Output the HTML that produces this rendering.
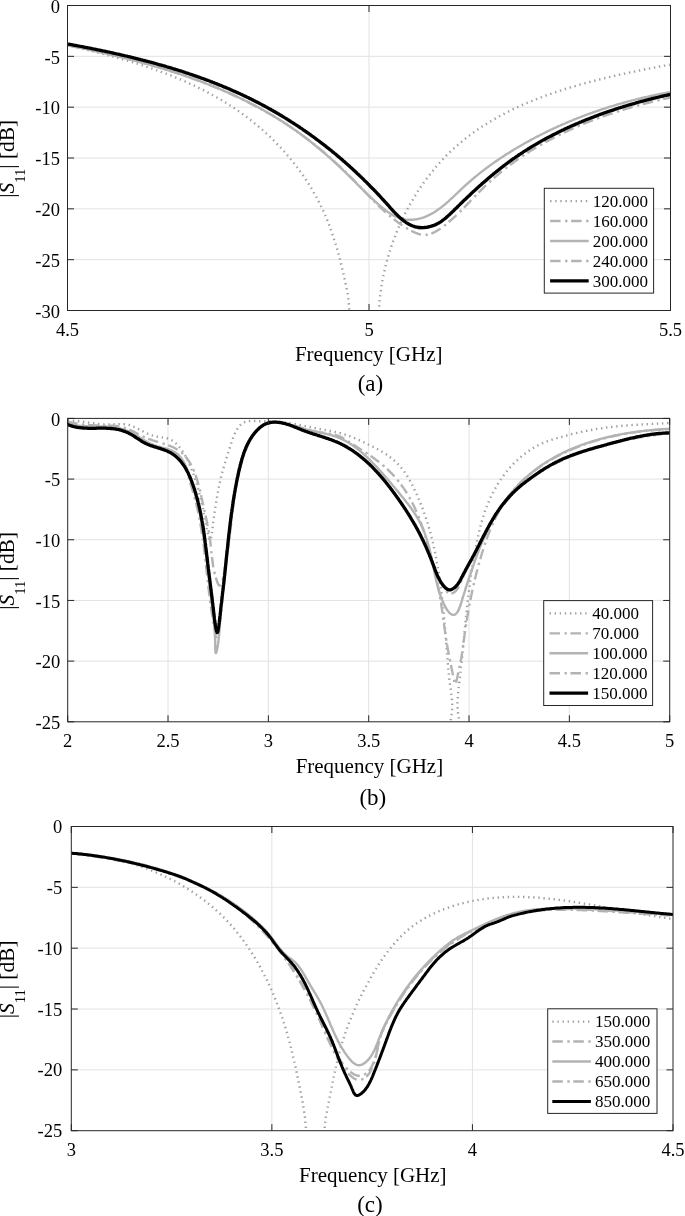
<!DOCTYPE html><html><head><meta charset="utf-8"><style>html,body{margin:0;padding:0;background:#fff;overflow:hidden;width:685px;height:1216px;}svg{display:block;filter:blur(0.35px);}text{font-family:"Liberation Serif",serif;fill:#000;}</style></head><body>
<svg width="685" height="1216" viewBox="0 0 685 1216">
<rect width="685" height="1216" fill="#fff"/>
<defs><clipPath id="c0"><rect x="67.50" y="5.50" width="603.00" height="305.00"/></clipPath></defs>
<path d="M369.00,5.50V310.50M67.50,56.33H670.50M67.50,107.17H670.50M67.50,158.00H670.50M67.50,208.83H670.50M67.50,259.67H670.50" stroke="#e2e2e2" stroke-width="1" fill="none"/>
<g clip-path="url(#c0)" fill="none" stroke-linejoin="round">
<path d="M67.7,45.4L68.7,45.6 69.6,45.8 70.6,46.1 71.5,46.3 72.5,46.5 73.4,46.7 74.4,46.9 75.4,47.2 76.3,47.4 77.3,47.6 78.2,47.8 79.2,48.1 80.2,48.3 81.1,48.5 82.1,48.7 83.1,49.0 84.0,49.2 85.0,49.4 86.0,49.7 86.9,49.9 87.9,50.1 88.8,50.4 89.8,50.6 90.8,50.8 91.7,51.1 92.7,51.3 93.7,51.5 94.6,51.8 95.6,52.0 96.6,52.3 97.5,52.5 98.5,52.8 99.5,53.0 100.4,53.3 101.4,53.5 102.4,53.8 103.3,54.0 104.3,54.3 105.3,54.5 106.2,54.8 107.2,55.0 108.2,55.3 109.1,55.5 110.1,55.8 111.1,56.1 112.0,56.3 113.0,56.6 114.0,56.9 114.9,57.1 115.9,57.4 116.9,57.7 117.8,57.9 118.8,58.2 119.8,58.5 120.7,58.8 121.7,59.0 122.7,59.3 123.6,59.6 124.6,59.9 125.6,60.2 126.5,60.4 127.5,60.7 128.5,61.0 129.4,61.3 130.4,61.6 131.3,61.9 132.3,62.2 133.3,62.5 134.2,62.8 135.2,63.1 136.1,63.4 137.1,63.7 138.1,64.0 139.0,64.3 140.0,64.6 140.9,64.9 141.9,65.2 142.9,65.5 143.8,65.8 144.8,66.1 145.7,66.5 146.7,66.8 147.6,67.1 148.6,67.4 149.5,67.7 150.5,68.1 151.4,68.4 152.4,68.7 153.3,69.1 154.3,69.4 155.2,69.7 156.2,70.1 157.1,70.4 158.1,70.7 159.0,71.1 160.0,71.4 160.9,71.8 161.9,72.1 162.8,72.5 163.7,72.8 164.7,73.2 165.6,73.5 166.6,73.9 167.5,74.3 168.4,74.6 169.4,75.0 170.3,75.4 171.3,75.7 172.2,76.1 173.1,76.5 174.1,76.9 175.0,77.2 175.9,77.6 176.8,78.0 177.8,78.4 178.7,78.8 179.6,79.2 180.5,79.5 181.5,79.9 182.4,80.3 183.3,80.7 184.2,81.1 185.2,81.5 186.1,81.9 187.0,82.4 187.9,82.8 188.8,83.2 189.7,83.6 190.6,84.0 191.6,84.4 192.5,84.9 193.4,85.3 194.3,85.7 195.2,86.1 196.1,86.6 197.0,87.0 197.9,87.4 198.8,87.9 199.7,88.3 200.6,88.8 201.5,89.2 202.4,89.7 203.3,90.1 204.2,90.6 205.0,91.0 205.9,91.5 206.8,91.9 207.7,92.4 208.6,92.9 209.5,93.3 210.4,93.8 211.2,94.3 212.1,94.8 213.0,95.3 213.9,95.7 214.7,96.2 215.6,96.7 216.5,97.2 217.3,97.7 218.2,98.2 219.1,98.7 219.9,99.2 220.8,99.7 221.7,100.2 222.5,100.7 223.4,101.3 224.2,101.8 225.1,102.3 225.9,102.8 226.8,103.3 227.6,103.9 228.5,104.4 229.3,104.9 230.1,105.5 231.0,106.0 231.8,106.6 232.7,107.1 233.5,107.7 234.3,108.2 235.2,108.8 236.0,109.3 236.8,109.9 237.6,110.5 238.4,111.0 239.3,111.6 240.1,112.2 240.9,112.8 241.7,113.3 242.5,113.9 243.3,114.5 244.1,115.1 244.9,115.7 245.7,116.3 246.5,116.9 247.3,117.5 248.1,118.1 248.9,118.7 249.7,119.3 250.5,119.9 251.3,120.6 252.1,121.2 252.9,121.8 253.7,122.4 254.4,123.1 255.2,123.7 256.0,124.3 256.7,125.0 257.5,125.6 258.3,126.3 259.0,126.9 259.8,127.6 260.6,128.2 261.3,128.9 262.1,129.5 262.8,130.2 263.6,130.9 264.3,131.5 265.1,132.2 265.8,132.9 266.5,133.6 267.3,134.2 268.0,134.9 268.7,135.6 269.5,136.3 270.2,137.0 270.9,137.7 271.6,138.4 272.4,139.1 273.1,139.8 273.8,140.5 274.5,141.2 275.2,141.9 275.9,142.6 276.6,143.3 277.3,144.1 278.0,144.8 278.7,145.5 279.4,146.2 280.1,147.0 280.7,147.7 281.4,148.4 282.1,149.2 282.8,149.9 283.5,150.7 284.1,151.4 284.8,152.2 285.4,152.9 286.1,153.7 286.8,154.4 287.4,155.2 288.1,155.9 288.7,156.7 289.4,157.5 290.0,158.2 290.6,159.0 291.3,159.8 291.9,160.6 292.5,161.4 293.2,162.1 293.8,162.9 294.4,163.7 295.0,164.5 295.6,165.3 296.2,166.1 296.9,166.9 297.5,167.7 298.1,168.5 298.7,169.3 299.2,170.1 299.8,170.9 300.4,171.7 301.0,172.5 301.6,173.3 302.2,174.2 302.7,175.0 303.3,175.8 303.9,176.6 304.4,177.5 305.0,178.3 305.5,179.1 306.1,180.0 306.6,180.8 307.2,181.6 307.7,182.5 308.3,183.3 308.8,184.2 309.3,185.0 309.9,185.9 310.4,186.7 310.9,187.6 311.4,188.4 311.9,189.3 312.4,190.2 312.9,191.0 313.5,191.9 313.9,192.8 314.4,193.6 314.9,194.5 315.4,195.4 315.9,196.2 316.4,197.1 316.9,198.0 317.3,198.9 317.8,199.8 318.3,200.7 318.7,201.5 319.2,202.4 319.6,203.3 320.1,204.2 320.5,205.1 320.9,206.0 321.4,206.9 321.8,207.8 322.2,208.7 322.7,209.6 323.1,210.6 323.5,211.5 323.9,212.4 324.3,213.3 324.7,214.2 325.1,215.1 325.5,216.0 325.9,217.0 326.3,217.9 326.7,218.8 327.1,219.7 327.4,220.7 327.8,221.6 328.2,222.5 328.5,223.5 328.9,224.4 329.3,225.3 329.6,226.3 330.0,227.2 330.3,228.2 330.7,229.1 331.0,230.1 331.3,231.0 331.7,231.9 332.0,232.9 332.3,233.8 332.6,234.8 333.0,235.7 333.3,236.7 333.6,237.7 333.9,238.6 334.2,239.6 334.5,240.5 334.8,241.5 335.1,242.4 335.4,243.4 335.7,244.4 336.0,245.3 336.3,246.3 336.6,247.2 336.9,248.2 337.1,249.2 337.4,250.1 337.7,251.1 338.0,252.1 338.2,253.0 338.5,254.0 338.8,255.0 339.0,255.9 339.3,256.9 339.5,257.9 339.8,258.8 340.0,259.8 340.3,260.8 340.5,261.7 340.8,262.7 341.0,263.7 341.3,264.7 341.5,265.6 341.7,266.6 342.0,267.6 342.2,268.5 342.4,269.5 342.7,270.5 342.9,271.4 343.1,272.4 343.3,273.4 343.6,274.4 343.8,275.3 344.0,276.3 344.2,277.3 344.4,278.2 344.6,279.2 344.8,280.2 345.1,281.1 345.3,282.1 345.5,283.1 345.7,284.1 345.9,285.0 346.1,286.0 346.3,287.0 346.5,287.9 346.7,288.9 346.9,289.9 347.0,290.8 347.2,291.8 347.4,292.8 347.6,293.8 347.7,294.7 347.9,295.7 348.1,296.7 348.2,297.7 348.3,298.7 348.5,299.7 348.6,300.8 348.7,301.8 348.8,302.8 348.9,303.9 349.0,304.9 349.0,306.0 349.1,307.0 349.2,308.1 349.2,309.2 349.3,310.3 349.3,311.4 349.4,312.4 349.4,313.5 349.5,314.5 349.6,315.6 349.8,316.6 349.9,317.6 350.1,318.5 350.3,319.5 350.5,320.4 350.8,321.3 351.2,322.1 351.5,323.0 352.0,323.7 352.4,324.5 353.0,325.1 353.6,325.8 354.2,326.4 354.9,326.9 355.7,327.4 356.4,327.8 357.3,328.2 358.1,328.5 359.0,328.8 359.9,329.0 360.9,329.2 361.8,329.3 362.8,329.4 363.8,329.4 364.7,329.4 365.7,329.3 366.7,329.2 367.6,329.0 368.5,328.8 369.4,328.5 370.3,328.2 371.2,327.8 372.0,327.3 372.8,326.8 373.5,326.3 374.2,325.7 374.8,325.0 375.4,324.3 375.9,323.6 376.3,322.8 376.8,321.9 377.1,321.1 377.5,320.2 377.7,319.2 378.0,318.3 378.2,317.3 378.4,316.3 378.6,315.3 378.7,314.3 378.8,313.2 378.9,312.2 379.0,311.1 379.1,310.1 379.1,309.0 379.2,307.9 379.2,306.9 379.3,305.8 379.3,304.8 379.4,303.7 379.5,302.7 379.5,301.7 379.6,300.6 379.7,299.6 379.8,298.6 379.9,297.6 380.0,296.6 380.1,295.6 380.2,294.6 380.4,293.7 380.5,292.7 380.6,291.7 380.8,290.7 380.9,289.7 381.0,288.8 381.2,287.8 381.3,286.8 381.5,285.8 381.7,284.9 381.8,283.9 382.0,282.9 382.2,281.9 382.3,281.0 382.5,280.0 382.7,279.0 382.9,278.0 383.1,277.1 383.3,276.1 383.5,275.1 383.7,274.1 383.9,273.2 384.1,272.2 384.4,271.2 384.6,270.3 384.8,269.3 385.0,268.3 385.3,267.4 385.5,266.4 385.7,265.4 386.0,264.4 386.2,263.5 386.5,262.5 386.8,261.6 387.0,260.6 387.3,259.6 387.6,258.7 387.8,257.7 388.1,256.7 388.4,255.8 388.7,254.8 389.0,253.9 389.3,252.9 389.6,251.9 389.9,251.0 390.2,250.0 390.5,249.1 390.8,248.1 391.1,247.2 391.4,246.2 391.7,245.3 392.1,244.3 392.4,243.4 392.7,242.4 393.1,241.5 393.4,240.5 393.8,239.6 394.1,238.6 394.5,237.7 394.8,236.8 395.2,235.8 395.6,234.9 395.9,233.9 396.3,233.0 396.7,232.1 397.1,231.1 397.5,230.2 397.9,229.3 398.2,228.4 398.6,227.4 399.0,226.5 399.4,225.6 399.9,224.7 400.3,223.7 400.7,222.8 401.1,221.9 401.5,221.0 402.0,220.1 402.4,219.2 402.8,218.2 403.3,217.3 403.7,216.4 404.1,215.5 404.6,214.6 405.0,213.7 405.5,212.8 406.0,211.9 406.4,211.0 406.9,210.1 407.4,209.2 407.8,208.4 408.3,207.5 408.8,206.6 409.3,205.7 409.8,204.8 410.2,203.9 410.7,203.1 411.2,202.2 411.7,201.3 412.3,200.4 412.8,199.6 413.3,198.7 413.8,197.9 414.3,197.0 414.8,196.1 415.4,195.3 415.9,194.4 416.4,193.6 417.0,192.7 417.5,191.9 418.0,191.0 418.6,190.2 419.1,189.3 419.7,188.5 420.3,187.7 420.8,186.8 421.4,186.0 422.0,185.2 422.5,184.4 423.1,183.5 423.7,182.7 424.3,181.9 424.9,181.1 425.4,180.3 426.0,179.5 426.6,178.7 427.2,177.9 427.8,177.1 428.4,176.3 429.0,175.5 429.7,174.7 430.3,173.9 430.9,173.1 431.5,172.3 432.1,171.6 432.8,170.8 433.4,170.0 434.0,169.2 434.7,168.5 435.3,167.7 436.0,166.9 436.6,166.2 437.3,165.4 437.9,164.7 438.6,163.9 439.2,163.2 439.9,162.4 440.6,161.7 441.3,161.0 441.9,160.2 442.6,159.5 443.3,158.8 444.0,158.1 444.7,157.4 445.4,156.6 446.0,155.9 446.7,155.2 447.4,154.5 448.2,153.8 448.9,153.1 449.6,152.4 450.3,151.7 451.0,151.1 451.7,150.4 452.4,149.7 453.2,149.0 453.9,148.4 454.6,147.7 455.4,147.0 456.1,146.4 456.8,145.7 457.6,145.1 458.3,144.4 459.1,143.8 459.8,143.1 460.6,142.5 461.4,141.9 462.1,141.2 462.9,140.6 463.7,140.0 464.4,139.4 465.2,138.8 466.0,138.1 466.8,137.5 467.5,136.9 468.3,136.3 469.1,135.7 469.9,135.1 470.7,134.5 471.5,134.0 472.3,133.4 473.1,132.8 473.9,132.2 474.7,131.6 475.5,131.1 476.3,130.5 477.1,129.9 478.0,129.4 478.8,128.8 479.6,128.3 480.4,127.7 481.2,127.2 482.1,126.6 482.9,126.1 483.7,125.6 484.6,125.0 485.4,124.5 486.3,124.0 487.1,123.4 487.9,122.9 488.8,122.4 489.6,121.9 490.5,121.4 491.4,120.9 492.2,120.4 493.1,119.9 493.9,119.4 494.8,118.9 495.7,118.4 496.5,117.9 497.4,117.4 498.3,116.9 499.1,116.4 500.0,116.0 500.9,115.5 501.8,115.0 502.7,114.5 503.5,114.1 504.4,113.6 505.3,113.1 506.2,112.7 507.1,112.2 508.0,111.8 508.9,111.3 509.8,110.9 510.7,110.4 511.6,110.0 512.5,109.6 513.4,109.1 514.3,108.7 515.2,108.3 516.1,107.8 517.0,107.4 517.9,107.0 518.8,106.6 519.8,106.2 520.7,105.7 521.6,105.3 522.5,104.9 523.4,104.5 524.4,104.1 525.3,103.7 526.2,103.3 527.1,102.9 528.1,102.5 529.0,102.1 529.9,101.8 530.9,101.4 531.8,101.0 532.7,100.6 533.7,100.2 534.6,99.9 535.6,99.5 536.5,99.1 537.4,98.7 538.4,98.4 539.3,98.0 540.3,97.6 541.2,97.3 542.2,96.9 543.1,96.6 544.1,96.2 545.0,95.9 546.0,95.5 546.9,95.2 547.9,94.8 548.8,94.5 549.8,94.2 550.8,93.8 551.7,93.5 552.7,93.2 553.6,92.8 554.6,92.5 555.6,92.2 556.5,91.8 557.5,91.5 558.4,91.2 559.4,90.9 560.4,90.6 561.3,90.3 562.3,89.9 563.3,89.6 564.2,89.3 565.2,89.0 566.2,88.7 567.2,88.4 568.1,88.1 569.1,87.8 570.1,87.5 571.1,87.2 572.0,86.9 573.0,86.6 574.0,86.4 575.0,86.1 575.9,85.8 576.9,85.5 577.9,85.2 578.9,84.9 579.8,84.7 580.8,84.4 581.8,84.1 582.8,83.8 583.7,83.6 584.7,83.3 585.7,83.0 586.7,82.8 587.7,82.5 588.6,82.2 589.6,82.0 590.6,81.7 591.6,81.5 592.6,81.2 593.6,81.0 594.5,80.7 595.5,80.5 596.5,80.2 597.5,80.0 598.5,79.7 599.4,79.5 600.4,79.2 601.4,79.0 602.4,78.7 603.4,78.5 604.3,78.3 605.3,78.0 606.3,77.8 607.3,77.6 608.3,77.3 609.2,77.1 610.2,76.9 611.2,76.6 612.2,76.4 613.2,76.2 614.1,76.0 615.1,75.7 616.1,75.5 617.1,75.3 618.1,75.1 619.0,74.8 620.0,74.6 621.0,74.4 622.0,74.2 622.9,74.0 623.9,73.8 624.9,73.6 625.9,73.3 626.8,73.1 627.8,72.9 628.8,72.7 629.8,72.5 630.7,72.3 631.7,72.1 632.7,71.9 633.6,71.7 634.6,71.5 635.6,71.3 636.5,71.1 637.5,70.9 638.5,70.7 639.4,70.5 640.4,70.3 641.4,70.1 642.3,69.9 643.3,69.7 644.2,69.5 645.2,69.3 646.2,69.1 647.1,69.0 648.1,68.8 649.0,68.6 650.0,68.4 650.9,68.2 651.9,68.0 652.8,67.8 653.8,67.6 654.7,67.5 655.7,67.3 656.6,67.1 657.6,66.9 658.5,66.7 659.5,66.5 660.4,66.4 661.3,66.2 662.3,66.0 663.2,65.8 664.2,65.6 665.1,65.5 666.0,65.3 667.0,65.1 667.9,64.9 668.8,64.8 669.8,64.6" stroke="#a0a0a0" stroke-width="2.40" stroke-dasharray="1.4 3.7"/>
<path d="M67.9,44.8L68.8,45.0 69.8,45.2 70.7,45.3 71.7,45.5 72.6,45.7 73.6,45.9 74.6,46.1 75.5,46.2 76.5,46.4 77.5,46.6 78.4,46.8 79.4,47.0 80.3,47.1 81.3,47.3 82.3,47.5 83.2,47.7 84.2,47.9 85.2,48.1 86.1,48.3 87.1,48.4 88.1,48.6 89.0,48.8 90.0,49.0 91.0,49.2 91.9,49.4 92.9,49.6 93.9,49.8 94.8,50.0 95.8,50.2 96.8,50.4 97.8,50.6 98.7,50.8 99.7,51.0 100.7,51.2 101.6,51.4 102.6,51.6 103.6,51.8 104.6,52.0 105.5,52.2 106.5,52.4 107.5,52.6 108.5,52.8 109.4,53.0 110.4,53.3 111.4,53.5 112.4,53.7 113.3,53.9 114.3,54.1 115.3,54.3 116.3,54.6 117.2,54.8 118.2,55.0 119.2,55.2 120.2,55.4 121.1,55.7 122.1,55.9 123.1,56.1 124.1,56.3 125.0,56.6 126.0,56.8 127.0,57.0 128.0,57.3 129.0,57.5 129.9,57.7 130.9,58.0 131.9,58.2 132.9,58.4 133.8,58.7 134.8,58.9 135.8,59.2 136.8,59.4 137.7,59.7 138.7,59.9 139.7,60.1 140.7,60.4 141.6,60.6 142.6,60.9 143.6,61.1 144.6,61.4 145.5,61.7 146.5,61.9 147.5,62.2 148.5,62.4 149.4,62.7 150.4,62.9 151.4,63.2 152.4,63.5 153.3,63.7 154.3,64.0 155.3,64.3 156.3,64.5 157.2,64.8 158.2,65.1 159.2,65.4 160.1,65.6 161.1,65.9 162.1,66.2 163.1,66.5 164.0,66.7 165.0,67.0 166.0,67.3 166.9,67.6 167.9,67.9 168.9,68.2 169.8,68.5 170.8,68.7 171.8,69.0 172.7,69.3 173.7,69.6 174.7,69.9 175.6,70.2 176.6,70.5 177.6,70.8 178.5,71.1 179.5,71.4 180.5,71.7 181.4,72.0 182.4,72.3 183.3,72.7 184.3,73.0 185.3,73.3 186.2,73.6 187.2,73.9 188.1,74.2 189.1,74.6 190.0,74.9 191.0,75.2 192.0,75.5 192.9,75.8 193.9,76.2 194.8,76.5 195.8,76.8 196.7,77.2 197.7,77.5 198.6,77.8 199.6,78.2 200.5,78.5 201.5,78.9 202.4,79.2 203.4,79.5 204.3,79.9 205.2,80.2 206.2,80.6 207.1,80.9 208.1,81.3 209.0,81.6 210.0,82.0 210.9,82.4 211.8,82.7 212.8,83.1 213.7,83.4 214.6,83.8 215.6,84.2 216.5,84.5 217.4,84.9 218.4,85.3 219.3,85.7 220.2,86.0 221.2,86.4 222.1,86.8 223.0,87.2 223.9,87.6 224.9,87.9 225.8,88.3 226.7,88.7 227.6,89.1 228.6,89.5 229.5,89.9 230.4,90.3 231.3,90.7 232.2,91.1 233.1,91.5 234.1,91.9 235.0,92.3 235.9,92.7 236.8,93.1 237.7,93.5 238.6,93.9 239.5,94.4 240.4,94.8 241.3,95.2 242.2,95.6 243.1,96.0 244.0,96.5 244.9,96.9 245.8,97.3 246.7,97.8 247.6,98.2 248.5,98.6 249.4,99.1 250.3,99.5 251.2,99.9 252.1,100.4 253.0,100.8 253.9,101.3 254.8,101.7 255.6,102.2 256.5,102.6 257.4,103.1 258.3,103.5 259.2,104.0 260.0,104.5 260.9,104.9 261.8,105.4 262.7,105.9 263.5,106.3 264.4,106.8 265.3,107.3 266.2,107.7 267.0,108.2 267.9,108.7 268.8,109.2 269.6,109.7 270.5,110.1 271.4,110.6 272.2,111.1 273.1,111.6 273.9,112.1 274.8,112.6 275.7,113.1 276.5,113.6 277.4,114.1 278.2,114.6 279.1,115.1 279.9,115.6 280.8,116.1 281.6,116.6 282.5,117.1 283.3,117.6 284.2,118.2 285.0,118.7 285.9,119.2 286.7,119.7 287.5,120.2 288.4,120.8 289.2,121.3 290.1,121.8 290.9,122.4 291.7,122.9 292.6,123.4 293.4,124.0 294.2,124.5 295.1,125.0 295.9,125.6 296.7,126.1 297.5,126.7 298.4,127.2 299.2,127.8 300.0,128.3 300.8,128.9 301.7,129.4 302.5,130.0 303.3,130.6 304.1,131.1 304.9,131.7 305.8,132.3 306.6,132.8 307.4,133.4 308.2,134.0 309.0,134.5 309.8,135.1 310.6,135.7 311.4,136.3 312.2,136.9 313.0,137.4 313.8,138.0 314.6,138.6 315.4,139.2 316.2,139.8 317.0,140.4 317.8,141.0 318.6,141.6 319.4,142.2 320.2,142.8 321.0,143.4 321.8,144.0 322.6,144.6 323.4,145.2 324.2,145.8 325.0,146.4 325.8,147.1 326.5,147.7 327.3,148.3 328.1,148.9 328.9,149.5 329.7,150.2 330.5,150.8 331.2,151.4 332.0,152.1 332.8,152.7 333.6,153.3 334.3,154.0 335.1,154.6 335.9,155.2 336.7,155.9 337.4,156.5 338.2,157.2 339.0,157.8 339.7,158.5 340.5,159.1 341.3,159.8 342.0,160.4 342.8,161.1 343.5,161.8 344.3,162.4 345.1,163.1 345.8,163.8 346.6,164.4 347.3,165.1 348.1,165.8 348.8,166.4 349.6,167.1 350.3,167.8 351.1,168.5 351.8,169.2 352.6,169.8 353.3,170.5 354.1,171.2 354.8,171.9 355.6,172.6 356.3,173.3 357.0,174.0 357.8,174.7 358.5,175.4 359.3,176.1 360.0,176.8 360.7,177.5 361.5,178.2 362.2,178.9 362.9,179.6 363.7,180.3 364.4,181.1 365.1,181.8 365.9,182.5 366.6,183.2 367.3,183.9 368.0,184.7 368.8,185.4 369.5,186.1 370.2,186.9 370.9,187.6 371.6,188.3 372.3,189.1 373.1,189.8 373.8,190.5 374.5,191.3 375.2,192.0 375.9,192.8 376.6,193.5 377.3,194.3 378.1,195.0 378.8,195.8 379.5,196.5 380.2,197.3 380.9,198.1 381.6,198.8 382.3,199.6 383.0,200.3 383.7,201.1 384.4,201.9 385.1,202.7 385.8,203.4 386.5,204.2 387.2,205.0 387.9,205.8 388.6,206.5 389.3,207.3 389.9,208.1 390.6,208.9 391.3,209.6 392.0,210.4 392.7,211.2 393.4,211.9 394.1,212.7 394.8,213.4 395.5,214.1 396.2,214.9 397.0,215.6 397.7,216.3 398.4,217.0 399.1,217.6 399.8,218.3 400.6,219.0 401.3,219.6 402.0,220.2 402.8,220.8 403.5,221.4 404.3,222.0 405.0,222.5 405.8,223.1 406.6,223.6 407.4,224.1 408.1,224.5 408.9,225.0 409.7,225.4 410.5,225.8 411.4,226.2 412.2,226.5 413.0,226.8 413.9,227.1 414.7,227.4 415.6,227.6 416.4,227.8 417.3,228.0 418.2,228.2 419.1,228.3 420.0,228.3 420.9,228.4 421.8,228.4 422.8,228.4 423.7,228.4 424.6,228.3 425.6,228.2 426.5,228.1 427.4,227.9 428.4,227.7 429.3,227.5 430.2,227.3 431.2,227.0 432.1,226.7 433.0,226.4 433.9,226.1 434.8,225.7 435.7,225.3 436.6,224.9 437.5,224.4 438.4,223.9 439.2,223.4 440.1,222.9 440.9,222.4 441.8,221.8 442.6,221.2 443.4,220.6 444.2,220.0 445.0,219.4 445.8,218.7 446.5,218.1 447.3,217.4 448.1,216.7 448.8,216.0 449.6,215.3 450.3,214.6 451.1,213.9 451.8,213.2 452.6,212.4 453.3,211.7 454.1,211.0 454.8,210.2 455.5,209.5 456.3,208.8 457.0,208.1 457.8,207.3 458.5,206.6 459.2,205.9 460.0,205.2 460.7,204.5 461.4,203.7 462.2,203.0 462.9,202.3 463.6,201.6 464.4,200.9 465.1,200.2 465.9,199.5 466.6,198.8 467.3,198.1 468.1,197.4 468.8,196.7 469.6,196.0 470.3,195.3 471.0,194.6 471.8,193.9 472.5,193.2 473.2,192.5 474.0,191.8 474.7,191.2 475.5,190.5 476.2,189.8 477.0,189.1 477.7,188.4 478.4,187.8 479.2,187.1 479.9,186.4 480.7,185.8 481.4,185.1 482.2,184.4 482.9,183.8 483.7,183.1 484.4,182.5 485.2,181.8 485.9,181.2 486.7,180.5 487.4,179.9 488.2,179.2 489.0,178.6 489.7,177.9 490.5,177.3 491.2,176.6 492.0,176.0 492.8,175.4 493.5,174.7 494.3,174.1 495.0,173.5 495.8,172.9 496.6,172.2 497.4,171.6 498.1,171.0 498.9,170.4 499.7,169.8 500.5,169.2 501.2,168.5 502.0,167.9 502.8,167.3 503.6,166.7 504.4,166.1 505.2,165.5 505.9,164.9 506.7,164.4 507.5,163.8 508.3,163.2 509.1,162.6 509.9,162.0 510.7,161.4 511.5,160.8 512.3,160.3 513.1,159.7 513.9,159.1 514.7,158.6 515.6,158.0 516.4,157.4 517.2,156.9 518.0,156.3 518.8,155.8 519.6,155.2 520.5,154.7 521.3,154.1 522.1,153.6 523.0,153.0 523.8,152.5 524.6,152.0 525.5,151.4 526.3,150.9 527.1,150.4 528.0,149.8 528.8,149.3 529.7,148.8 530.5,148.3 531.4,147.7 532.2,147.2 533.1,146.7 533.9,146.2 534.8,145.7 535.7,145.2 536.5,144.7 537.4,144.2 538.2,143.7 539.1,143.2 540.0,142.7 540.8,142.2 541.7,141.7 542.6,141.2 543.5,140.7 544.3,140.3 545.2,139.8 546.1,139.3 547.0,138.8 547.9,138.4 548.7,137.9 549.6,137.4 550.5,137.0 551.4,136.5 552.3,136.0 553.2,135.6 554.1,135.1 555.0,134.7 555.9,134.2 556.8,133.8 557.7,133.3 558.6,132.9 559.5,132.4 560.4,132.0 561.3,131.6 562.2,131.1 563.1,130.7 564.0,130.3 564.9,129.8 565.8,129.4 566.7,129.0 567.6,128.6 568.6,128.1 569.5,127.7 570.4,127.3 571.3,126.9 572.2,126.5 573.1,126.1 574.1,125.7 575.0,125.3 575.9,124.9 576.8,124.5 577.8,124.1 578.7,123.7 579.6,123.3 580.5,122.9 581.5,122.5 582.4,122.1 583.3,121.7 584.3,121.4 585.2,121.0 586.1,120.6 587.1,120.2 588.0,119.8 588.9,119.5 589.9,119.1 590.8,118.7 591.8,118.4 592.7,118.0 593.6,117.7 594.6,117.3 595.5,116.9 596.5,116.6 597.4,116.2 598.4,115.9 599.3,115.5 600.3,115.2 601.2,114.8 602.1,114.5 603.1,114.2 604.0,113.8 605.0,113.5 605.9,113.2 606.9,112.8 607.9,112.5 608.8,112.2 609.8,111.8 610.7,111.5 611.7,111.2 612.6,110.9 613.6,110.6 614.5,110.2 615.5,109.9 616.4,109.6 617.4,109.3 618.4,109.0 619.3,108.7 620.3,108.4 621.2,108.1 622.2,107.8 623.1,107.5 624.1,107.2 625.1,106.9 626.0,106.6 627.0,106.3 627.9,106.0 628.9,105.8 629.9,105.5 630.8,105.2 631.8,104.9 632.7,104.6 633.7,104.4 634.7,104.1 635.6,103.8 636.6,103.5 637.6,103.3 638.5,103.0 639.5,102.7 640.4,102.5 641.4,102.2 642.4,102.0 643.3,101.7 644.3,101.5 645.3,101.2 646.2,100.9 647.2,100.7 648.1,100.5 649.1,100.2 650.1,100.0 651.0,99.7 652.0,99.5 652.9,99.2 653.9,99.0 654.9,98.8 655.8,98.5 656.8,98.3 657.8,98.1 658.7,97.8 659.7,97.6 660.6,97.4 661.6,97.2 662.6,97.0 663.5,96.7 664.5,96.5 665.4,96.3 666.4,96.1 667.3,95.9 668.3,95.7 669.3,95.5 670.2,95.3" stroke="#b3b3b3" stroke-width="2.40" stroke-dasharray="10.5 4.5 2.4 3.6"/>
<path d="M67.6,45.2L68.6,45.4 69.6,45.6 70.5,45.8 71.5,46.0 72.5,46.2 73.4,46.4 74.4,46.6 75.4,46.8 76.3,47.0 77.3,47.2 78.3,47.4 79.2,47.6 80.2,47.8 81.2,48.0 82.1,48.2 83.1,48.4 84.1,48.6 85.1,48.9 86.0,49.1 87.0,49.3 88.0,49.5 88.9,49.7 89.9,49.9 90.9,50.1 91.9,50.4 92.8,50.6 93.8,50.8 94.8,51.0 95.7,51.2 96.7,51.4 97.7,51.7 98.7,51.9 99.6,52.1 100.6,52.3 101.6,52.5 102.6,52.8 103.5,53.0 104.5,53.2 105.5,53.4 106.5,53.7 107.4,53.9 108.4,54.1 109.4,54.4 110.3,54.6 111.3,54.8 112.3,55.1 113.3,55.3 114.2,55.5 115.2,55.8 116.2,56.0 117.2,56.2 118.1,56.5 119.1,56.7 120.1,57.0 121.1,57.2 122.0,57.4 123.0,57.7 124.0,57.9 125.0,58.2 125.9,58.4 126.9,58.7 127.9,58.9 128.8,59.2 129.8,59.4 130.8,59.7 131.8,59.9 132.7,60.2 133.7,60.4 134.7,60.7 135.7,60.9 136.6,61.2 137.6,61.5 138.6,61.7 139.5,62.0 140.5,62.2 141.5,62.5 142.4,62.8 143.4,63.0 144.4,63.3 145.4,63.6 146.3,63.8 147.3,64.1 148.3,64.4 149.2,64.7 150.2,64.9 151.2,65.2 152.1,65.5 153.1,65.8 154.1,66.1 155.0,66.3 156.0,66.6 157.0,66.9 157.9,67.2 158.9,67.5 159.9,67.8 160.8,68.0 161.8,68.3 162.8,68.6 163.7,68.9 164.7,69.2 165.6,69.5 166.6,69.8 167.6,70.1 168.5,70.4 169.5,70.7 170.4,71.0 171.4,71.3 172.4,71.6 173.3,71.9 174.3,72.2 175.2,72.5 176.2,72.9 177.2,73.2 178.1,73.5 179.1,73.8 180.0,74.1 181.0,74.4 181.9,74.8 182.9,75.1 183.8,75.4 184.8,75.7 185.7,76.1 186.7,76.4 187.6,76.7 188.6,77.0 189.5,77.4 190.5,77.7 191.4,78.0 192.4,78.4 193.3,78.7 194.3,79.1 195.2,79.4 196.2,79.7 197.1,80.1 198.0,80.4 199.0,80.8 199.9,81.1 200.9,81.5 201.8,81.8 202.7,82.2 203.7,82.6 204.6,82.9 205.6,83.3 206.5,83.6 207.4,84.0 208.4,84.4 209.3,84.7 210.2,85.1 211.2,85.5 212.1,85.9 213.0,86.2 214.0,86.6 214.9,87.0 215.8,87.4 216.7,87.7 217.7,88.1 218.6,88.5 219.5,88.9 220.4,89.3 221.4,89.7 222.3,90.1 223.2,90.5 224.1,90.9 225.0,91.3 226.0,91.7 226.9,92.1 227.8,92.5 228.7,92.9 229.6,93.3 230.5,93.7 231.5,94.1 232.4,94.5 233.3,94.9 234.2,95.3 235.1,95.8 236.0,96.2 236.9,96.6 237.8,97.0 238.7,97.5 239.6,97.9 240.5,98.3 241.4,98.8 242.3,99.2 243.2,99.6 244.1,100.1 245.0,100.5 245.9,101.0 246.8,101.4 247.7,101.9 248.6,102.3 249.5,102.8 250.4,103.2 251.3,103.7 252.1,104.1 253.0,104.6 253.9,105.0 254.8,105.5 255.7,106.0 256.6,106.4 257.4,106.9 258.3,107.4 259.2,107.9 260.1,108.3 260.9,108.8 261.8,109.3 262.7,109.8 263.6,110.3 264.4,110.8 265.3,111.3 266.2,111.8 267.0,112.3 267.9,112.7 268.8,113.2 269.6,113.8 270.5,114.3 271.3,114.8 272.2,115.3 273.1,115.8 273.9,116.3 274.8,116.8 275.6,117.3 276.5,117.9 277.3,118.4 278.2,118.9 279.0,119.4 279.9,120.0 280.7,120.5 281.6,121.0 282.4,121.6 283.2,122.1 284.1,122.7 284.9,123.2 285.7,123.7 286.6,124.3 287.4,124.9 288.2,125.4 289.1,126.0 289.9,126.5 290.7,127.1 291.6,127.7 292.4,128.2 293.2,128.8 294.0,129.4 294.8,129.9 295.6,130.5 296.5,131.1 297.3,131.7 298.1,132.3 298.9,132.8 299.7,133.4 300.5,134.0 301.3,134.6 302.1,135.2 302.9,135.8 303.7,136.4 304.5,137.0 305.3,137.6 306.1,138.2 306.9,138.8 307.7,139.5 308.5,140.1 309.3,140.7 310.1,141.3 310.9,141.9 311.7,142.6 312.4,143.2 313.2,143.8 314.0,144.4 314.8,145.1 315.6,145.7 316.3,146.3 317.1,147.0 317.9,147.6 318.7,148.2 319.4,148.9 320.2,149.5 321.0,150.2 321.7,150.8 322.5,151.5 323.3,152.1 324.0,152.8 324.8,153.4 325.5,154.1 326.3,154.7 327.1,155.4 327.8,156.1 328.6,156.7 329.3,157.4 330.1,158.1 330.8,158.7 331.6,159.4 332.3,160.1 333.1,160.7 333.8,161.4 334.5,162.1 335.3,162.8 336.0,163.4 336.7,164.1 337.5,164.8 338.2,165.5 338.9,166.2 339.7,166.9 340.4,167.5 341.1,168.2 341.9,168.9 342.6,169.6 343.3,170.3 344.0,171.0 344.7,171.7 345.5,172.4 346.2,173.1 346.9,173.8 347.6,174.5 348.3,175.2 349.0,175.9 349.7,176.6 350.4,177.3 351.2,178.0 351.9,178.7 352.6,179.4 353.3,180.1 354.0,180.8 354.7,181.5 355.4,182.2 356.1,182.9 356.8,183.6 357.5,184.4 358.2,185.1 358.9,185.8 359.6,186.5 360.3,187.2 361.0,187.9 361.8,188.6 362.5,189.3 363.2,190.0 363.9,190.7 364.6,191.4 365.3,192.2 366.1,192.9 366.8,193.6 367.5,194.3 368.3,195.0 369.0,195.7 369.7,196.4 370.5,197.1 371.2,197.8 372.0,198.5 372.7,199.2 373.5,199.9 374.2,200.6 375.0,201.3 375.8,202.0 376.5,202.7 377.3,203.4 378.1,204.1 378.9,204.8 379.7,205.5 380.5,206.2 381.3,206.8 382.1,207.5 382.9,208.2 383.7,208.8 384.5,209.4 385.3,210.1 386.1,210.7 387.0,211.3 387.8,211.9 388.7,212.5 389.5,213.0 390.3,213.6 391.2,214.1 392.1,214.6 392.9,215.1 393.8,215.6 394.6,216.0 395.5,216.4 396.4,216.9 397.3,217.2 398.2,217.6 399.1,217.9 400.0,218.2 400.9,218.5 401.8,218.8 402.7,219.0 403.6,219.2 404.5,219.3 405.4,219.5 406.3,219.6 407.3,219.7 408.2,219.7 409.1,219.8 410.0,219.8 411.0,219.8 411.9,219.7 412.8,219.7 413.7,219.6 414.7,219.5 415.6,219.4 416.5,219.2 417.5,219.1 418.4,218.9 419.3,218.6 420.2,218.4 421.1,218.2 422.0,217.9 423.0,217.6 423.9,217.3 424.8,216.9 425.7,216.6 426.5,216.2 427.4,215.8 428.3,215.4 429.2,215.0 430.1,214.6 430.9,214.1 431.8,213.7 432.6,213.2 433.5,212.7 434.3,212.2 435.2,211.7 436.0,211.1 436.8,210.6 437.6,210.0 438.4,209.4 439.2,208.8 440.1,208.2 440.9,207.6 441.6,207.0 442.4,206.4 443.2,205.8 444.0,205.1 444.8,204.5 445.6,203.8 446.3,203.1 447.1,202.5 447.9,201.8 448.7,201.1 449.4,200.4 450.2,199.7 450.9,199.0 451.7,198.3 452.5,197.6 453.2,196.9 454.0,196.2 454.7,195.5 455.5,194.8 456.2,194.0 457.0,193.3 457.7,192.6 458.5,191.9 459.2,191.2 460.0,190.5 460.7,189.7 461.5,189.0 462.2,188.3 463.0,187.6 463.8,186.9 464.5,186.2 465.3,185.5 466.0,184.8 466.8,184.2 467.5,183.5 468.3,182.8 469.1,182.1 469.8,181.5 470.6,180.8 471.4,180.1 472.1,179.5 472.9,178.8 473.7,178.2 474.5,177.5 475.2,176.9 476.0,176.3 476.8,175.6 477.6,175.0 478.3,174.4 479.1,173.7 479.9,173.1 480.7,172.5 481.5,171.9 482.3,171.3 483.0,170.7 483.8,170.1 484.6,169.5 485.4,168.9 486.2,168.3 487.0,167.7 487.8,167.1 488.6,166.5 489.4,165.9 490.2,165.3 491.0,164.8 491.8,164.2 492.6,163.6 493.4,163.0 494.2,162.5 495.0,161.9 495.9,161.4 496.7,160.8 497.5,160.2 498.3,159.7 499.1,159.1 499.9,158.6 500.8,158.0 501.6,157.5 502.4,156.9 503.2,156.4 504.1,155.9 504.9,155.3 505.7,154.8 506.6,154.2 507.4,153.7 508.2,153.2 509.1,152.7 509.9,152.1 510.8,151.6 511.6,151.1 512.5,150.6 513.3,150.0 514.1,149.5 515.0,149.0 515.8,148.5 516.7,148.0 517.6,147.5 518.4,147.0 519.3,146.5 520.1,146.0 521.0,145.5 521.8,145.0 522.7,144.5 523.6,144.0 524.4,143.5 525.3,143.0 526.2,142.5 527.0,142.0 527.9,141.6 528.8,141.1 529.7,140.6 530.5,140.1 531.4,139.6 532.3,139.2 533.2,138.7 534.1,138.2 534.9,137.8 535.8,137.3 536.7,136.8 537.6,136.4 538.5,135.9 539.4,135.5 540.3,135.0 541.2,134.5 542.1,134.1 542.9,133.7 543.8,133.2 544.7,132.8 545.6,132.3 546.5,131.9 547.4,131.4 548.3,131.0 549.2,130.6 550.1,130.1 551.0,129.7 552.0,129.3 552.9,128.8 553.8,128.4 554.7,128.0 555.6,127.6 556.5,127.2 557.4,126.7 558.3,126.3 559.2,125.9 560.2,125.5 561.1,125.1 562.0,124.7 562.9,124.3 563.8,123.9 564.8,123.5 565.7,123.1 566.6,122.7 567.5,122.3 568.5,121.9 569.4,121.5 570.3,121.1 571.2,120.8 572.2,120.4 573.1,120.0 574.0,119.6 575.0,119.2 575.9,118.9 576.8,118.5 577.8,118.1 578.7,117.8 579.6,117.4 580.6,117.0 581.5,116.7 582.4,116.3 583.4,115.9 584.3,115.6 585.3,115.2 586.2,114.9 587.2,114.5 588.1,114.2 589.0,113.8 590.0,113.5 590.9,113.1 591.9,112.8 592.8,112.5 593.8,112.1 594.7,111.8 595.7,111.5 596.6,111.1 597.6,110.8 598.5,110.5 599.5,110.2 600.4,109.8 601.4,109.5 602.3,109.2 603.3,108.9 604.3,108.6 605.2,108.3 606.2,108.0 607.1,107.7 608.1,107.3 609.0,107.0 610.0,106.7 611.0,106.4 611.9,106.1 612.9,105.9 613.9,105.6 614.8,105.3 615.8,105.0 616.7,104.7 617.7,104.4 618.7,104.1 619.6,103.9 620.6,103.6 621.6,103.3 622.5,103.0 623.5,102.8 624.5,102.5 625.4,102.2 626.4,102.0 627.4,101.7 628.3,101.4 629.3,101.2 630.3,100.9 631.2,100.7 632.2,100.4 633.2,100.2 634.2,99.9 635.1,99.7 636.1,99.4 637.1,99.2 638.0,98.9 639.0,98.7 640.0,98.5 641.0,98.2 641.9,98.0 642.9,97.8 643.9,97.5 644.9,97.3 645.8,97.1 646.8,96.9 647.8,96.7 648.8,96.4 649.7,96.2 650.7,96.0 651.7,95.8 652.7,95.6 653.6,95.4 654.6,95.2 655.6,95.0 656.6,94.8 657.5,94.6 658.5,94.4 659.5,94.2 660.5,94.0 661.5,93.8 662.4,93.6 663.4,93.4 664.4,93.3 665.4,93.1 666.3,92.9 667.3,92.7 668.3,92.5 669.3,92.4 670.2,92.2" stroke="#b3b3b3" stroke-width="2.40"/>
<path d="M67.6,45.3L68.5,45.5 69.5,45.7 70.5,45.9 71.5,46.1 72.4,46.3 73.4,46.5 74.4,46.7 75.3,46.9 76.3,47.1 77.3,47.3 78.2,47.5 79.2,47.7 80.2,47.9 81.2,48.1 82.1,48.3 83.1,48.5 84.1,48.7 85.0,48.9 86.0,49.1 87.0,49.3 88.0,49.5 88.9,49.7 89.9,49.9 90.9,50.1 91.9,50.3 92.8,50.5 93.8,50.7 94.8,51.0 95.7,51.2 96.7,51.4 97.7,51.6 98.7,51.8 99.6,52.0 100.6,52.3 101.6,52.5 102.6,52.7 103.5,52.9 104.5,53.1 105.5,53.4 106.5,53.6 107.4,53.8 108.4,54.1 109.4,54.3 110.4,54.5 111.3,54.7 112.3,55.0 113.3,55.2 114.2,55.4 115.2,55.7 116.2,55.9 117.2,56.1 118.1,56.4 119.1,56.6 120.1,56.9 121.1,57.1 122.0,57.3 123.0,57.6 124.0,57.8 125.0,58.1 125.9,58.3 126.9,58.6 127.9,58.8 128.8,59.1 129.8,59.3 130.8,59.6 131.8,59.8 132.7,60.1 133.7,60.3 134.7,60.6 135.6,60.8 136.6,61.1 137.6,61.4 138.6,61.6 139.5,61.9 140.5,62.2 141.5,62.4 142.4,62.7 143.4,63.0 144.4,63.2 145.3,63.5 146.3,63.8 147.3,64.0 148.2,64.3 149.2,64.6 150.2,64.9 151.2,65.1 152.1,65.4 153.1,65.7 154.0,66.0 155.0,66.3 156.0,66.5 156.9,66.8 157.9,67.1 158.9,67.4 159.8,67.7 160.8,68.0 161.8,68.3 162.7,68.6 163.7,68.9 164.6,69.2 165.6,69.5 166.6,69.8 167.5,70.1 168.5,70.4 169.4,70.7 170.4,71.0 171.4,71.3 172.3,71.6 173.3,71.9 174.2,72.2 175.2,72.5 176.1,72.8 177.1,73.2 178.1,73.5 179.0,73.8 180.0,74.1 180.9,74.4 181.9,74.8 182.8,75.1 183.8,75.4 184.7,75.7 185.7,76.1 186.6,76.4 187.6,76.7 188.5,77.1 189.5,77.4 190.4,77.7 191.4,78.1 192.3,78.4 193.2,78.8 194.2,79.1 195.1,79.4 196.1,79.8 197.0,80.1 198.0,80.5 198.9,80.8 199.8,81.2 200.8,81.5 201.7,81.9 202.7,82.3 203.6,82.6 204.5,83.0 205.5,83.3 206.4,83.7 207.3,84.1 208.3,84.4 209.2,84.8 210.1,85.2 211.1,85.6 212.0,85.9 212.9,86.3 213.8,86.7 214.8,87.1 215.7,87.5 216.6,87.8 217.6,88.2 218.5,88.6 219.4,89.0 220.3,89.4 221.2,89.8 222.2,90.2 223.1,90.6 224.0,91.0 224.9,91.4 225.8,91.8 226.8,92.2 227.7,92.6 228.6,93.0 229.5,93.4 230.4,93.8 231.3,94.2 232.2,94.6 233.1,95.1 234.0,95.5 235.0,95.9 235.9,96.3 236.8,96.7 237.7,97.2 238.6,97.6 239.5,98.0 240.4,98.5 241.3,98.9 242.2,99.3 243.1,99.8 244.0,100.2 244.9,100.6 245.8,101.1 246.7,101.5 247.5,102.0 248.4,102.4 249.3,102.9 250.2,103.3 251.1,103.8 252.0,104.2 252.9,104.7 253.8,105.2 254.6,105.6 255.5,106.1 256.4,106.6 257.3,107.0 258.2,107.5 259.0,108.0 259.9,108.5 260.8,108.9 261.7,109.4 262.5,109.9 263.4,110.4 264.3,110.9 265.2,111.4 266.0,111.9 266.9,112.3 267.8,112.8 268.6,113.3 269.5,113.8 270.3,114.3 271.2,114.8 272.1,115.3 272.9,115.9 273.8,116.4 274.6,116.9 275.5,117.4 276.3,117.9 277.2,118.4 278.0,119.0 278.9,119.5 279.7,120.0 280.6,120.5 281.4,121.1 282.3,121.6 283.1,122.1 283.9,122.7 284.8,123.2 285.6,123.7 286.4,124.3 287.3,124.8 288.1,125.4 288.9,125.9 289.8,126.5 290.6,127.0 291.4,127.6 292.2,128.2 293.1,128.7 293.9,129.3 294.7,129.9 295.5,130.4 296.4,131.0 297.2,131.6 298.0,132.1 298.8,132.7 299.6,133.3 300.4,133.9 301.2,134.5 302.0,135.1 302.8,135.7 303.6,136.2 304.4,136.8 305.2,137.4 306.0,138.0 306.8,138.6 307.6,139.2 308.4,139.8 309.2,140.5 310.0,141.1 310.8,141.7 311.6,142.3 312.4,142.9 313.2,143.5 314.0,144.1 314.7,144.8 315.5,145.4 316.3,146.0 317.1,146.6 317.9,147.3 318.6,147.9 319.4,148.5 320.2,149.2 320.9,149.8 321.7,150.5 322.5,151.1 323.2,151.8 324.0,152.4 324.8,153.1 325.5,153.7 326.3,154.4 327.1,155.0 327.8,155.7 328.6,156.3 329.3,157.0 330.1,157.7 330.8,158.3 331.6,159.0 332.3,159.7 333.1,160.3 333.8,161.0 334.6,161.7 335.3,162.4 336.0,163.0 336.8,163.7 337.5,164.4 338.3,165.1 339.0,165.8 339.7,166.5 340.5,167.2 341.2,167.9 341.9,168.5 342.6,169.2 343.4,169.9 344.1,170.6 344.8,171.3 345.5,172.0 346.3,172.8 347.0,173.5 347.7,174.2 348.4,174.9 349.1,175.6 349.8,176.3 350.5,177.0 351.2,177.7 352.0,178.5 352.7,179.2 353.4,179.9 354.1,180.6 354.8,181.4 355.5,182.1 356.2,182.8 356.9,183.5 357.6,184.3 358.3,185.0 359.0,185.7 359.7,186.5 360.4,187.2 361.1,187.9 361.8,188.6 362.5,189.4 363.2,190.1 363.9,190.8 364.6,191.6 365.3,192.3 366.0,193.0 366.7,193.7 367.4,194.5 368.1,195.2 368.8,195.9 369.5,196.6 370.2,197.4 370.9,198.1 371.6,198.8 372.3,199.5 373.0,200.2 373.7,201.0 374.4,201.7 375.1,202.4 375.8,203.1 376.6,203.8 377.3,204.5 378.0,205.2 378.7,205.9 379.4,206.6 380.2,207.3 380.9,208.0 381.6,208.6 382.4,209.3 383.1,210.0 383.8,210.7 384.6,211.4 385.3,212.0 386.1,212.7 386.8,213.3 387.6,214.0 388.3,214.7 389.1,215.3 389.8,216.0 390.6,216.6 391.4,217.2 392.2,217.9 392.9,218.5 393.7,219.1 394.5,219.7 395.3,220.3 396.1,220.9 396.9,221.5 397.7,222.1 398.5,222.7 399.3,223.3 400.1,223.9 400.9,224.4 401.7,225.0 402.6,225.6 403.4,226.1 404.2,226.7 405.1,227.2 405.9,227.7 406.8,228.3 407.6,228.8 408.5,229.3 409.4,229.8 410.2,230.3 411.1,230.8 412.0,231.2 412.9,231.7 413.8,232.1 414.7,232.5 415.6,232.9 416.5,233.2 417.4,233.5 418.3,233.8 419.1,234.1 420.0,234.3 420.9,234.5 421.8,234.7 422.7,234.8 423.6,234.9 424.5,234.9 425.4,234.9 426.3,234.8 427.2,234.7 428.1,234.5 429.0,234.3 429.9,234.1 430.8,233.8 431.7,233.5 432.5,233.1 433.4,232.7 434.3,232.3 435.2,231.8 436.0,231.4 436.9,230.9 437.7,230.3 438.6,229.8 439.4,229.2 440.3,228.7 441.1,228.1 441.9,227.5 442.8,226.8 443.6,226.2 444.4,225.6 445.2,225.0 446.0,224.3 446.8,223.7 447.6,223.0 448.4,222.4 449.1,221.7 449.9,221.0 450.7,220.4 451.4,219.7 452.2,219.0 453.0,218.4 453.7,217.7 454.5,217.0 455.2,216.3 455.9,215.6 456.7,214.9 457.4,214.2 458.1,213.5 458.9,212.8 459.6,212.1 460.3,211.4 461.0,210.6 461.8,209.9 462.5,209.2 463.2,208.5 463.9,207.8 464.6,207.0 465.3,206.3 466.0,205.6 466.7,204.9 467.4,204.1 468.1,203.4 468.8,202.7 469.5,202.0 470.2,201.2 470.9,200.5 471.6,199.8 472.3,199.0 473.0,198.3 473.7,197.6 474.4,196.9 475.1,196.1 475.8,195.4 476.5,194.7 477.2,194.0 477.9,193.2 478.6,192.5 479.3,191.8 480.1,191.1 480.8,190.4 481.5,189.7 482.2,189.0 482.9,188.3 483.6,187.6 484.3,186.9 485.1,186.2 485.8,185.5 486.5,184.8 487.2,184.1 488.0,183.4 488.7,182.7 489.4,182.1 490.2,181.4 490.9,180.7 491.7,180.0 492.4,179.4 493.2,178.7 493.9,178.1 494.7,177.4 495.4,176.7 496.2,176.1 496.9,175.4 497.7,174.8 498.5,174.2 499.2,173.5 500.0,172.9 500.8,172.3 501.6,171.6 502.3,171.0 503.1,170.4 503.9,169.7 504.7,169.1 505.5,168.5 506.3,167.9 507.0,167.3 507.8,166.7 508.6,166.1 509.4,165.5 510.2,164.9 511.0,164.3 511.8,163.7 512.6,163.1 513.4,162.5 514.2,161.9 515.0,161.3 515.9,160.8 516.7,160.2 517.5,159.6 518.3,159.0 519.1,158.5 519.9,157.9 520.8,157.4 521.6,156.8 522.4,156.2 523.3,155.7 524.1,155.1 524.9,154.6 525.7,154.0 526.6,153.5 527.4,152.9 528.3,152.4 529.1,151.9 529.9,151.3 530.8,150.8 531.6,150.3 532.5,149.8 533.3,149.2 534.2,148.7 535.0,148.2 535.9,147.7 536.8,147.2 537.6,146.7 538.5,146.2 539.3,145.7 540.2,145.2 541.1,144.7 541.9,144.2 542.8,143.7 543.7,143.2 544.6,142.7 545.4,142.2 546.3,141.7 547.2,141.2 548.1,140.8 548.9,140.3 549.8,139.8 550.7,139.3 551.6,138.9 552.5,138.4 553.4,137.9 554.2,137.5 555.1,137.0 556.0,136.6 556.9,136.1 557.8,135.7 558.7,135.2 559.6,134.8 560.5,134.3 561.4,133.9 562.3,133.4 563.2,133.0 564.1,132.6 565.0,132.1 565.9,131.7 566.8,131.3 567.7,130.9 568.6,130.4 569.5,130.0 570.5,129.6 571.4,129.2 572.3,128.8 573.2,128.4 574.1,128.0 575.0,127.6 576.0,127.1 576.9,126.7 577.8,126.3 578.7,126.0 579.6,125.6 580.6,125.2 581.5,124.8 582.4,124.4 583.3,124.0 584.3,123.6 585.2,123.2 586.1,122.9 587.1,122.5 588.0,122.1 588.9,121.7 589.9,121.4 590.8,121.0 591.7,120.6 592.7,120.3 593.6,119.9 594.5,119.6 595.5,119.2 596.4,118.8 597.4,118.5 598.3,118.1 599.2,117.8 600.2,117.5 601.1,117.1 602.1,116.8 603.0,116.4 604.0,116.1 604.9,115.8 605.9,115.4 606.8,115.1 607.8,114.8 608.7,114.4 609.7,114.1 610.6,113.8 611.6,113.5 612.5,113.2 613.5,112.8 614.4,112.5 615.4,112.2 616.3,111.9 617.3,111.6 618.3,111.3 619.2,111.0 620.2,110.7 621.1,110.4 622.1,110.1 623.0,109.8 624.0,109.5 625.0,109.2 625.9,108.9 626.9,108.6 627.8,108.3 628.8,108.1 629.8,107.8 630.7,107.5 631.7,107.2 632.7,106.9 633.6,106.7 634.6,106.4 635.5,106.1 636.5,105.8 637.5,105.6 638.4,105.3 639.4,105.1 640.4,104.8 641.3,104.5 642.3,104.3 643.3,104.0 644.2,103.8 645.2,103.5 646.2,103.3 647.1,103.0 648.1,102.8 649.1,102.5 650.0,102.3 651.0,102.0 652.0,101.8 652.9,101.6 653.9,101.3 654.9,101.1 655.8,100.9 656.8,100.6 657.8,100.4 658.8,100.2 659.7,99.9 660.7,99.7 661.7,99.5 662.6,99.3 663.6,99.0 664.6,98.8 665.5,98.6 666.5,98.4 667.5,98.2 668.4,98.0 669.4,97.8 670.4,97.6" stroke="#b3b3b3" stroke-width="2.40" stroke-dasharray="10.5 4.5 2.4 3.6"/>
<path d="M67.9,44.0L68.8,44.2 69.8,44.4 70.7,44.5 71.7,44.7 72.6,44.9 73.6,45.1 74.6,45.3 75.5,45.4 76.5,45.6 77.5,45.8 78.4,46.0 79.4,46.2 80.3,46.3 81.3,46.5 82.3,46.7 83.2,46.9 84.2,47.1 85.2,47.3 86.1,47.5 87.1,47.6 88.1,47.8 89.0,48.0 90.0,48.2 91.0,48.4 91.9,48.6 92.9,48.8 93.9,49.0 94.8,49.2 95.8,49.4 96.8,49.6 97.8,49.8 98.7,50.0 99.7,50.2 100.7,50.4 101.6,50.6 102.6,50.8 103.6,51.0 104.6,51.2 105.5,51.4 106.5,51.6 107.5,51.8 108.5,52.0 109.4,52.2 110.4,52.5 111.4,52.7 112.4,52.9 113.3,53.1 114.3,53.3 115.3,53.5 116.3,53.8 117.2,54.0 118.2,54.2 119.2,54.4 120.2,54.6 121.1,54.9 122.1,55.1 123.1,55.3 124.1,55.5 125.0,55.8 126.0,56.0 127.0,56.2 128.0,56.5 129.0,56.7 129.9,56.9 130.9,57.2 131.9,57.4 132.9,57.6 133.8,57.9 134.8,58.1 135.8,58.4 136.8,58.6 137.7,58.9 138.7,59.1 139.7,59.3 140.7,59.6 141.6,59.8 142.6,60.1 143.6,60.3 144.6,60.6 145.5,60.9 146.5,61.1 147.5,61.4 148.5,61.6 149.4,61.9 150.4,62.1 151.4,62.4 152.4,62.7 153.3,62.9 154.3,63.2 155.3,63.5 156.3,63.7 157.2,64.0 158.2,64.3 159.2,64.6 160.1,64.8 161.1,65.1 162.1,65.4 163.1,65.7 164.0,65.9 165.0,66.2 166.0,66.5 166.9,66.8 167.9,67.1 168.9,67.4 169.8,67.7 170.8,67.9 171.8,68.2 172.7,68.5 173.7,68.8 174.7,69.1 175.6,69.4 176.6,69.7 177.6,70.0 178.5,70.3 179.5,70.6 180.5,70.9 181.4,71.2 182.4,71.5 183.3,71.9 184.3,72.2 185.3,72.5 186.2,72.8 187.2,73.1 188.1,73.4 189.1,73.8 190.0,74.1 191.0,74.4 192.0,74.7 192.9,75.0 193.9,75.4 194.8,75.7 195.8,76.0 196.7,76.4 197.7,76.7 198.6,77.0 199.6,77.4 200.5,77.7 201.5,78.1 202.4,78.4 203.4,78.7 204.3,79.1 205.2,79.4 206.2,79.8 207.1,80.1 208.1,80.5 209.0,80.8 210.0,81.2 210.9,81.6 211.8,81.9 212.8,82.3 213.7,82.6 214.6,83.0 215.6,83.4 216.5,83.7 217.4,84.1 218.4,84.5 219.3,84.9 220.2,85.2 221.2,85.6 222.1,86.0 223.0,86.4 223.9,86.8 224.9,87.1 225.8,87.5 226.7,87.9 227.6,88.3 228.6,88.7 229.5,89.1 230.4,89.5 231.3,89.9 232.2,90.3 233.1,90.7 234.1,91.1 235.0,91.5 235.9,91.9 236.8,92.3 237.7,92.7 238.6,93.1 239.5,93.6 240.4,94.0 241.3,94.4 242.2,94.8 243.1,95.2 244.0,95.7 244.9,96.1 245.8,96.5 246.7,97.0 247.6,97.4 248.5,97.8 249.4,98.3 250.3,98.7 251.2,99.1 252.1,99.6 253.0,100.0 253.9,100.5 254.8,100.9 255.6,101.4 256.5,101.8 257.4,102.3 258.3,102.7 259.2,103.2 260.0,103.7 260.9,104.1 261.8,104.6 262.7,105.1 263.5,105.5 264.4,106.0 265.3,106.5 266.2,106.9 267.0,107.4 267.9,107.9 268.8,108.4 269.6,108.9 270.5,109.3 271.4,109.8 272.2,110.3 273.1,110.8 273.9,111.3 274.8,111.8 275.7,112.3 276.5,112.8 277.4,113.3 278.2,113.8 279.1,114.3 279.9,114.8 280.8,115.3 281.6,115.8 282.5,116.3 283.3,116.8 284.2,117.4 285.0,117.9 285.9,118.4 286.7,118.9 287.5,119.4 288.4,120.0 289.2,120.5 290.1,121.0 290.9,121.6 291.7,122.1 292.6,122.6 293.4,123.2 294.2,123.7 295.1,124.2 295.9,124.8 296.7,125.3 297.5,125.9 298.4,126.4 299.2,127.0 300.0,127.5 300.8,128.1 301.7,128.6 302.5,129.2 303.3,129.8 304.1,130.3 304.9,130.9 305.8,131.5 306.6,132.0 307.4,132.6 308.2,133.2 309.0,133.7 309.8,134.3 310.6,134.9 311.4,135.5 312.2,136.1 313.0,136.6 313.8,137.2 314.6,137.8 315.4,138.4 316.2,139.0 317.0,139.6 317.8,140.2 318.6,140.8 319.4,141.4 320.2,142.0 321.0,142.6 321.8,143.2 322.6,143.8 323.4,144.4 324.2,145.0 325.0,145.6 325.8,146.3 326.5,146.9 327.3,147.5 328.1,148.1 328.9,148.7 329.7,149.4 330.5,150.0 331.2,150.6 332.0,151.3 332.8,151.9 333.6,152.5 334.3,153.2 335.1,153.8 335.9,154.4 336.7,155.1 337.4,155.7 338.2,156.4 339.0,157.0 339.7,157.7 340.5,158.3 341.3,159.0 342.0,159.6 342.8,160.3 343.5,161.0 344.3,161.6 345.1,162.3 345.8,163.0 346.6,163.6 347.3,164.3 348.1,165.0 348.8,165.6 349.6,166.3 350.3,167.0 351.1,167.7 351.8,168.4 352.6,169.0 353.3,169.7 354.1,170.4 354.8,171.1 355.6,171.8 356.3,172.5 357.0,173.2 357.8,173.9 358.5,174.6 359.3,175.3 360.0,176.0 360.7,176.7 361.5,177.4 362.2,178.1 362.9,178.8 363.7,179.5 364.4,180.3 365.1,181.0 365.9,181.7 366.6,182.4 367.3,183.1 368.0,183.9 368.8,184.6 369.5,185.3 370.2,186.1 370.9,186.8 371.6,187.5 372.3,188.3 373.1,189.0 373.8,189.7 374.5,190.5 375.2,191.2 375.9,192.0 376.6,192.7 377.3,193.5 378.1,194.2 378.8,195.0 379.5,195.7 380.2,196.5 380.9,197.3 381.6,198.0 382.3,198.8 383.0,199.5 383.7,200.3 384.4,201.1 385.1,201.9 385.8,202.6 386.5,203.4 387.2,204.2 387.9,205.0 388.6,205.7 389.3,206.5 389.9,207.3 390.6,208.1 391.3,208.8 392.0,209.6 392.7,210.4 393.4,211.1 394.1,211.9 394.8,212.6 395.5,213.3 396.2,214.1 397.0,214.8 397.7,215.5 398.4,216.2 399.1,216.8 399.8,217.5 400.6,218.2 401.3,218.8 402.0,219.4 402.8,220.0 403.5,220.6 404.3,221.2 405.0,221.7 405.8,222.3 406.6,222.8 407.4,223.3 408.1,223.7 408.9,224.2 409.7,224.6 410.5,225.0 411.4,225.4 412.2,225.7 413.0,226.0 413.9,226.3 414.7,226.6 415.6,226.8 416.4,227.0 417.3,227.2 418.2,227.4 419.1,227.5 420.0,227.5 420.9,227.6 421.8,227.6 422.8,227.6 423.7,227.6 424.6,227.5 425.6,227.4 426.5,227.3 427.4,227.1 428.4,226.9 429.3,226.7 430.2,226.5 431.2,226.2 432.1,225.9 433.0,225.6 433.9,225.3 434.8,224.9 435.7,224.5 436.6,224.1 437.5,223.6 438.4,223.1 439.2,222.6 440.1,222.1 440.9,221.6 441.8,221.0 442.6,220.4 443.4,219.8 444.2,219.2 445.0,218.6 445.8,217.9 446.5,217.3 447.3,216.6 448.1,215.9 448.8,215.2 449.6,214.5 450.3,213.8 451.1,213.1 451.8,212.4 452.6,211.6 453.3,210.9 454.1,210.2 454.8,209.4 455.5,208.7 456.3,208.0 457.0,207.3 457.8,206.5 458.5,205.8 459.2,205.1 460.0,204.4 460.7,203.7 461.4,202.9 462.2,202.2 462.9,201.5 463.6,200.8 464.4,200.1 465.1,199.4 465.9,198.7 466.6,198.0 467.3,197.3 468.1,196.6 468.8,195.9 469.6,195.2 470.3,194.5 471.0,193.8 471.8,193.1 472.5,192.4 473.2,191.7 474.0,191.0 474.7,190.4 475.5,189.7 476.2,189.0 477.0,188.3 477.7,187.6 478.4,187.0 479.2,186.3 479.9,185.6 480.7,185.0 481.4,184.3 482.2,183.6 482.9,183.0 483.7,182.3 484.4,181.7 485.2,181.0 485.9,180.4 486.7,179.7 487.4,179.1 488.2,178.4 489.0,177.8 489.7,177.1 490.5,176.5 491.2,175.8 492.0,175.2 492.8,174.6 493.5,173.9 494.3,173.3 495.0,172.7 495.8,172.1 496.6,171.4 497.4,170.8 498.1,170.2 498.9,169.6 499.7,169.0 500.5,168.4 501.2,167.7 502.0,167.1 502.8,166.5 503.6,165.9 504.4,165.3 505.2,164.7 505.9,164.1 506.7,163.6 507.5,163.0 508.3,162.4 509.1,161.8 509.9,161.2 510.7,160.6 511.5,160.0 512.3,159.5 513.1,158.9 513.9,158.3 514.7,157.8 515.6,157.2 516.4,156.6 517.2,156.1 518.0,155.5 518.8,155.0 519.6,154.4 520.5,153.9 521.3,153.3 522.1,152.8 523.0,152.2 523.8,151.7 524.6,151.2 525.5,150.6 526.3,150.1 527.1,149.6 528.0,149.0 528.8,148.5 529.7,148.0 530.5,147.5 531.4,146.9 532.2,146.4 533.1,145.9 533.9,145.4 534.8,144.9 535.7,144.4 536.5,143.9 537.4,143.4 538.2,142.9 539.1,142.4 540.0,141.9 540.8,141.4 541.7,140.9 542.6,140.4 543.5,139.9 544.3,139.5 545.2,139.0 546.1,138.5 547.0,138.0 547.9,137.6 548.7,137.1 549.6,136.6 550.5,136.2 551.4,135.7 552.3,135.2 553.2,134.8 554.1,134.3 555.0,133.9 555.9,133.4 556.8,133.0 557.7,132.5 558.6,132.1 559.5,131.6 560.4,131.2 561.3,130.8 562.2,130.3 563.1,129.9 564.0,129.5 564.9,129.0 565.8,128.6 566.7,128.2 567.6,127.8 568.6,127.3 569.5,126.9 570.4,126.5 571.3,126.1 572.2,125.7 573.1,125.3 574.1,124.9 575.0,124.5 575.9,124.1 576.8,123.7 577.8,123.3 578.7,122.9 579.6,122.5 580.5,122.1 581.5,121.7 582.4,121.3 583.3,120.9 584.3,120.6 585.2,120.2 586.1,119.8 587.1,119.4 588.0,119.0 588.9,118.7 589.9,118.3 590.8,117.9 591.8,117.6 592.7,117.2 593.6,116.9 594.6,116.5 595.5,116.1 596.5,115.8 597.4,115.4 598.4,115.1 599.3,114.7 600.3,114.4 601.2,114.0 602.1,113.7 603.1,113.4 604.0,113.0 605.0,112.7 605.9,112.4 606.9,112.0 607.9,111.7 608.8,111.4 609.8,111.0 610.7,110.7 611.7,110.4 612.6,110.1 613.6,109.8 614.5,109.4 615.5,109.1 616.4,108.8 617.4,108.5 618.4,108.2 619.3,107.9 620.3,107.6 621.2,107.3 622.2,107.0 623.1,106.7 624.1,106.4 625.1,106.1 626.0,105.8 627.0,105.5 627.9,105.2 628.9,105.0 629.9,104.7 630.8,104.4 631.8,104.1 632.7,103.8 633.7,103.6 634.7,103.3 635.6,103.0 636.6,102.7 637.6,102.5 638.5,102.2 639.5,101.9 640.4,101.7 641.4,101.4 642.4,101.2 643.3,100.9 644.3,100.7 645.3,100.4 646.2,100.1 647.2,99.9 648.1,99.7 649.1,99.4 650.1,99.2 651.0,98.9 652.0,98.7 652.9,98.4 653.9,98.2 654.9,98.0 655.8,97.7 656.8,97.5 657.8,97.3 658.7,97.0 659.7,96.8 660.6,96.6 661.6,96.4 662.6,96.2 663.5,95.9 664.5,95.7 665.4,95.5 666.4,95.3 667.3,95.1 668.3,94.9 669.3,94.7 670.2,94.5" stroke="#000" stroke-width="3.30"/>
</g>
<path d="M67.50,310.50v-6.50M67.50,5.50v6.50M369.00,310.50v-6.50M369.00,5.50v6.50M670.50,310.50v-6.50M670.50,5.50v6.50M67.50,5.50h6.50M670.50,5.50h-6.50M67.50,56.33h6.50M670.50,56.33h-6.50M67.50,107.17h6.50M670.50,107.17h-6.50M67.50,158.00h6.50M670.50,158.00h-6.50M67.50,208.83h6.50M670.50,208.83h-6.50M67.50,259.67h6.50M670.50,259.67h-6.50M67.50,310.50h6.50M670.50,310.50h-6.50" stroke="#262626" stroke-width="1" fill="none"/>
<rect x="67.50" y="5.50" width="603.00" height="305.00" stroke="#262626" stroke-width="1" fill="none"/>
<text x="67.50" y="335.70" font-size="18.5" text-anchor="middle">4.5</text>
<text x="369.00" y="335.70" font-size="18.5" text-anchor="middle">5</text>
<text x="670.50" y="335.70" font-size="18.5" text-anchor="middle">5.5</text>
<text x="60.00" y="12.70" font-size="18.5" text-anchor="end">0</text>
<text x="60.00" y="63.53" font-size="18.5" text-anchor="end">-5</text>
<text x="60.00" y="114.37" font-size="18.5" text-anchor="end">-10</text>
<text x="60.00" y="165.20" font-size="18.5" text-anchor="end">-15</text>
<text x="60.00" y="216.03" font-size="18.5" text-anchor="end">-20</text>
<text x="60.00" y="266.87" font-size="18.5" text-anchor="end">-25</text>
<text x="60.00" y="317.70" font-size="18.5" text-anchor="end">-30</text>
<text x="368.70" y="361.00" font-size="21" text-anchor="middle">Frequency [GHz]</text>
<text x="370.40" y="391.40" font-size="23" text-anchor="middle">(a)</text>
<text transform="translate(13.8,158.80) rotate(-90)" font-size="21.4" text-anchor="middle">|<tspan font-style="italic">S</tspan><tspan font-size="14.5" dy="11.2">11</tspan><tspan dy="-11.2">| [dB]</tspan></text>
<rect x="544.30" y="188.30" width="109.30" height="104.80" fill="#fff" stroke="#262626" stroke-width="1"/>
<path d="M550.10,201.10H588.70" stroke="#a0a0a0" stroke-width="2.40" fill="none" stroke-dasharray="1.4 3.7"/>
<text x="592.80" y="206.90" font-size="17">120.000</text>
<path d="M550.10,221.05H588.70" stroke="#b3b3b3" stroke-width="2.40" fill="none" stroke-dasharray="10.5 4.5 2.4 3.6"/>
<text x="592.80" y="226.85" font-size="17">160.000</text>
<path d="M550.10,241.00H588.70" stroke="#b3b3b3" stroke-width="2.40" fill="none"/>
<text x="592.80" y="246.80" font-size="17">200.000</text>
<path d="M550.10,260.95H588.70" stroke="#b3b3b3" stroke-width="2.40" fill="none" stroke-dasharray="10.5 4.5 2.4 3.6"/>
<text x="592.80" y="266.75" font-size="17">240.000</text>
<path d="M550.10,280.90H588.70" stroke="#000" stroke-width="3.30" fill="none"/>
<text x="592.80" y="286.70" font-size="17">300.000</text>
<defs><clipPath id="c1"><rect x="67.70" y="418.40" width="602.00" height="303.40"/></clipPath></defs>
<path d="M168.03,418.40V721.80M268.37,418.40V721.80M368.70,418.40V721.80M469.03,418.40V721.80M569.37,418.40V721.80M67.70,479.08H669.70M67.70,539.76H669.70M67.70,600.44H669.70M67.70,661.12H669.70" stroke="#e2e2e2" stroke-width="1" fill="none"/>
<g clip-path="url(#c1)" fill="none" stroke-linejoin="round">
<path d="M67.7,420.4L68.7,420.4 69.7,420.5 70.7,420.5 71.7,420.5 72.7,420.6 73.7,420.7 74.7,420.8 75.7,420.8 76.7,420.9 77.7,421.0 78.7,421.2 79.7,421.3 80.7,421.4 81.7,421.5 82.7,421.7 83.7,421.8 84.6,422.0 85.6,422.1 86.6,422.3 87.6,422.4 88.6,422.6 89.6,422.7 90.6,422.9 91.5,423.0 92.5,423.2 93.5,423.3 94.5,423.4 95.5,423.6 96.5,423.7 97.5,423.8 98.5,423.9 99.4,424.0 100.4,424.1 101.4,424.2 102.4,424.3 103.4,424.4 104.4,424.4 105.4,424.5 106.4,424.5 107.4,424.5 108.4,424.5 109.4,424.5 110.4,424.5 111.4,424.5 112.5,424.4 113.5,424.4 114.5,424.3 115.5,424.3 116.5,424.2 117.5,424.2 118.5,424.1 119.5,424.1 120.5,424.1 121.5,424.1 122.5,424.1 123.5,424.1 124.5,424.2 125.5,424.3 126.4,424.4 127.4,424.6 128.4,424.8 129.3,425.0 130.3,425.3 131.2,425.6 132.2,426.0 133.1,426.4 134.0,426.8 134.9,427.2 135.8,427.7 136.8,428.1 137.7,428.6 138.6,429.1 139.5,429.6 140.4,430.1 141.3,430.6 142.2,431.0 143.1,431.5 144.0,432.0 144.8,432.4 145.7,432.9 146.6,433.3 147.5,433.7 148.5,434.0 149.4,434.4 150.3,434.7 151.2,435.1 152.1,435.4 153.1,435.7 154.0,435.9 155.0,436.2 155.9,436.4 156.9,436.6 157.9,436.8 158.9,436.9 159.9,437.1 161.0,437.2 162.0,437.4 163.0,437.5 164.0,437.7 165.0,437.8 166.0,438.0 167.0,438.3 168.0,438.5 168.9,438.9 169.8,439.2 170.7,439.7 171.5,440.1 172.4,440.7 173.2,441.2 174.0,441.8 174.7,442.4 175.5,443.0 176.2,443.7 176.9,444.4 177.6,445.1 178.3,445.8 179.0,446.6 179.6,447.3 180.2,448.1 180.8,448.9 181.4,449.7 182.0,450.5 182.6,451.3 183.1,452.1 183.7,453.0 184.2,453.8 184.7,454.7 185.2,455.6 185.7,456.5 186.2,457.3 186.7,458.2 187.1,459.1 187.6,460.1 188.0,461.0 188.5,461.9 188.9,462.8 189.3,463.7 189.7,464.7 190.1,465.6 190.5,466.5 190.9,467.5 191.2,468.4 191.6,469.4 192.0,470.3 192.3,471.2 192.7,472.2 193.0,473.1 193.4,474.0 193.7,475.0 194.0,475.9 194.4,476.9 194.7,477.8 195.0,478.7 195.3,479.7 195.6,480.6 195.9,481.5 196.2,482.5 196.5,483.4 196.8,484.4 197.1,485.3 197.3,486.3 197.6,487.2 197.9,488.2 198.2,489.1 198.4,490.1 198.7,491.0 198.9,492.0 199.2,492.9 199.4,493.9 199.7,494.8 199.9,495.8 200.2,496.7 200.4,497.7 200.6,498.7 200.8,499.6 201.1,500.6 201.3,501.6 201.5,502.6 201.7,503.5 201.9,504.5 202.2,505.5 202.4,506.5 202.6,507.5 202.8,508.4 203.0,509.4 203.2,510.4 203.4,511.4 203.6,512.4 203.8,513.4 204.0,514.4 204.2,515.4 204.4,516.5 204.6,517.5 204.8,518.5 205.0,519.5 205.2,520.5 205.4,521.6 205.6,522.6 205.7,523.6 205.9,524.7 206.1,525.7 206.3,526.7 206.5,527.8 206.7,528.8 206.9,529.8 207.1,530.8 207.3,531.8 207.6,532.7 207.8,533.7 208.0,534.6 208.3,535.5 208.5,536.4 208.8,537.3 209.0,538.1 209.3,538.9 209.6,539.6 209.9,540.2 210.2,540.3 210.5,539.9 210.7,539.2 211.0,538.2 211.2,537.0 211.4,535.9 211.6,534.8 211.8,533.6 212.0,532.5 212.1,531.5 212.3,530.4 212.4,529.4 212.5,528.3 212.6,527.3 212.8,526.3 212.9,525.3 213.0,524.3 213.1,523.3 213.2,522.4 213.4,521.4 213.5,520.4 213.6,519.4 213.8,518.5 213.9,517.5 214.0,516.6 214.2,515.6 214.3,514.6 214.5,513.7 214.6,512.7 214.7,511.7 214.9,510.8 215.0,509.8 215.2,508.8 215.3,507.8 215.5,506.8 215.6,505.8 215.8,504.8 215.9,503.8 216.1,502.8 216.3,501.8 216.4,500.8 216.6,499.8 216.7,498.8 216.9,497.7 217.1,496.7 217.3,495.7 217.4,494.7 217.6,493.7 217.8,492.7 218.0,491.7 218.2,490.6 218.3,489.6 218.5,488.6 218.7,487.6 218.9,486.6 219.1,485.6 219.3,484.7 219.5,483.7 219.8,482.7 220.0,481.7 220.2,480.8 220.4,479.8 220.6,478.8 220.9,477.9 221.1,476.9 221.3,476.0 221.6,475.1 221.8,474.1 222.1,473.2 222.3,472.2 222.6,471.3 222.8,470.4 223.1,469.5 223.3,468.5 223.6,467.6 223.9,466.7 224.1,465.7 224.4,464.8 224.7,463.9 225.0,463.0 225.2,462.0 225.5,461.1 225.8,460.2 226.1,459.2 226.4,458.3 226.7,457.4 227.0,456.4 227.3,455.5 227.6,454.5 227.9,453.6 228.2,452.6 228.5,451.6 228.8,450.7 229.1,449.7 229.5,448.7 229.8,447.7 230.1,446.7 230.4,445.7 230.8,444.7 231.1,443.7 231.4,442.7 231.8,441.7 232.1,440.7 232.5,439.6 232.8,438.6 233.2,437.6 233.6,436.6 234.0,435.7 234.4,434.7 234.8,433.7 235.2,432.8 235.7,431.9 236.1,431.0 236.6,430.1 237.1,429.3 237.7,428.4 238.2,427.6 238.8,426.9 239.4,426.2 240.0,425.5 240.6,424.8 241.3,424.2 242.0,423.7 242.8,423.2 243.5,422.7 244.3,422.3 245.2,421.9 246.0,421.6 246.9,421.4 247.9,421.2 248.8,421.0 249.8,421.0 250.8,420.9 251.9,420.9 252.9,420.9 254.0,420.9 255.1,421.0 256.2,421.0 257.2,421.1 258.3,421.1 259.4,421.2 260.4,421.2 261.4,421.2 262.5,421.2 263.5,421.2 264.5,421.2 265.5,421.2 266.5,421.2 267.5,421.2 268.5,421.3 269.5,421.3 270.5,421.3 271.4,421.3 272.4,421.3 273.4,421.3 274.4,421.4 275.4,421.4 276.3,421.5 277.3,421.6 278.3,421.6 279.3,421.7 280.3,421.8 281.2,421.9 282.2,422.0 283.2,422.1 284.2,422.3 285.1,422.4 286.1,422.5 287.1,422.7 288.1,422.8 289.1,423.0 290.0,423.1 291.0,423.3 292.0,423.5 293.0,423.6 293.9,423.8 294.9,424.0 295.9,424.2 296.9,424.4 297.9,424.6 298.8,424.8 299.8,425.0 300.8,425.2 301.8,425.4 302.8,425.6 303.7,425.8 304.7,426.0 305.7,426.2 306.7,426.4 307.7,426.6 308.7,426.8 309.6,427.0 310.6,427.2 311.6,427.4 312.6,427.6 313.6,427.8 314.6,428.0 315.6,428.2 316.6,428.4 317.6,428.6 318.5,428.8 319.5,429.0 320.5,429.2 321.5,429.4 322.5,429.6 323.5,429.8 324.5,430.0 325.5,430.1 326.5,430.3 327.5,430.5 328.5,430.7 329.5,430.8 330.5,431.0 331.5,431.2 332.5,431.4 333.5,431.6 334.5,431.8 335.4,432.0 336.4,432.2 337.4,432.4 338.4,432.6 339.3,432.9 340.3,433.1 341.3,433.4 342.2,433.6 343.2,433.9 344.1,434.2 345.0,434.5 346.0,434.8 346.9,435.1 347.8,435.4 348.7,435.7 349.6,436.1 350.6,436.4 351.5,436.8 352.4,437.2 353.3,437.5 354.2,437.9 355.1,438.3 356.0,438.7 356.9,439.1 357.8,439.5 358.7,439.9 359.6,440.4 360.5,440.8 361.4,441.2 362.3,441.6 363.2,442.0 364.1,442.5 365.0,442.9 365.9,443.3 366.8,443.8 367.7,444.2 368.6,444.7 369.5,445.1 370.5,445.6 371.4,446.0 372.3,446.5 373.2,446.9 374.1,447.4 375.0,447.9 375.9,448.3 376.8,448.8 377.7,449.3 378.6,449.8 379.5,450.3 380.3,450.8 381.2,451.3 382.1,451.8 383.0,452.4 383.8,452.9 384.7,453.4 385.5,454.0 386.4,454.5 387.2,455.1 388.0,455.7 388.8,456.3 389.6,456.9 390.4,457.5 391.2,458.1 392.0,458.7 392.8,459.3 393.6,459.9 394.3,460.6 395.0,461.3 395.8,461.9 396.5,462.6 397.2,463.3 397.9,464.0 398.6,464.7 399.2,465.4 399.9,466.2 400.5,466.9 401.2,467.7 401.8,468.4 402.4,469.2 403.0,470.0 403.6,470.8 404.2,471.6 404.8,472.4 405.3,473.2 405.9,474.0 406.4,474.8 407.0,475.7 407.5,476.5 408.0,477.4 408.5,478.2 409.0,479.1 409.5,480.0 410.0,480.8 410.5,481.7 411.0,482.6 411.4,483.5 411.9,484.4 412.4,485.3 412.8,486.2 413.3,487.1 413.7,488.0 414.2,488.9 414.6,489.8 415.0,490.7 415.4,491.6 415.9,492.5 416.3,493.4 416.7,494.3 417.1,495.2 417.5,496.2 417.9,497.1 418.3,498.0 418.7,498.9 419.1,499.8 419.5,500.8 419.9,501.7 420.3,502.6 420.6,503.6 421.0,504.5 421.4,505.4 421.7,506.4 422.1,507.3 422.5,508.2 422.8,509.2 423.2,510.1 423.5,511.0 423.8,512.0 424.2,512.9 424.5,513.9 424.8,514.8 425.2,515.8 425.5,516.7 425.8,517.7 426.1,518.6 426.4,519.6 426.7,520.5 427.1,521.5 427.4,522.4 427.7,523.4 427.9,524.3 428.2,525.3 428.5,526.2 428.8,527.2 429.1,528.2 429.4,529.1 429.6,530.1 429.9,531.0 430.2,532.0 430.4,533.0 430.7,533.9 431.0,534.9 431.2,535.9 431.5,536.8 431.7,537.8 432.0,538.8 432.2,539.7 432.4,540.7 432.7,541.7 432.9,542.7 433.1,543.6 433.4,544.6 433.6,545.6 433.8,546.6 434.0,547.5 434.2,548.5 434.4,549.5 434.7,550.5 434.9,551.4 435.1,552.4 435.3,553.4 435.5,554.4 435.7,555.4 435.8,556.3 436.0,557.3 436.2,558.3 436.4,559.3 436.6,560.3 436.8,561.3 436.9,562.2 437.1,563.2 437.3,564.2 437.4,565.2 437.6,566.2 437.8,567.2 437.9,568.1 438.1,569.1 438.3,570.1 438.4,571.1 438.6,572.1 438.7,573.1 438.9,574.1 439.0,575.1 439.2,576.1 439.3,577.0 439.4,578.0 439.6,579.0 439.7,580.0 439.9,581.0 440.0,582.0 440.1,583.0 440.3,584.0 440.4,585.0 440.5,586.0 440.6,586.9 440.8,587.9 440.9,588.9 441.0,589.9 441.1,590.9 441.3,591.9 441.4,592.9 441.5,593.9 441.6,594.9 441.7,595.9 441.8,596.9 442.0,597.9 442.1,598.8 442.2,599.8 442.3,600.8 442.4,601.8 442.5,602.8 442.6,603.8 442.7,604.8 442.8,605.8 442.9,606.8 443.0,607.8 443.1,608.8 443.2,609.8 443.4,610.7 443.5,611.7 443.6,612.7 443.7,613.7 443.8,614.7 443.9,615.7 444.0,616.7 444.1,617.7 444.1,618.7 444.2,619.7 444.3,620.7 444.4,621.7 444.5,622.7 444.6,623.7 444.7,624.6 444.8,625.6 444.9,626.6 445.0,627.6 445.1,628.6 445.2,629.6 445.3,630.6 445.3,631.6 445.4,632.6 445.5,633.6 445.6,634.6 445.7,635.6 445.8,636.6 445.9,637.6 445.9,638.6 446.0,639.6 446.1,640.7 446.2,641.7 446.3,642.7 446.3,643.7 446.4,644.7 446.5,645.7 446.6,646.7 446.7,647.7 446.7,648.7 446.8,649.8 446.9,650.8 447.0,651.8 447.0,652.8 447.1,653.8 447.2,654.9 447.3,655.9 447.3,656.9 447.4,657.9 447.5,658.9 447.6,659.9 447.6,661.0 447.7,662.0 447.8,663.0 447.9,664.0 448.0,665.0 448.0,666.0 448.1,667.0 448.2,668.0 448.3,669.0 448.4,670.0 448.5,671.0 448.6,672.0 448.7,673.0 448.8,674.0 448.9,674.9 449.0,675.9 449.1,676.9 449.2,677.9 449.3,678.8 449.4,679.8 449.5,680.7 449.6,681.7 449.8,682.6 449.9,683.5 450.0,684.5 450.1,685.4 450.3,686.3 450.4,687.2 450.6,688.1 450.7,689.0 450.8,690.0 451.0,690.9 451.1,691.8 451.2,692.7 451.3,693.6 451.4,694.5 451.6,695.5 451.7,696.4 451.8,697.3 451.8,698.3 451.9,699.2 452.0,700.2 452.1,701.1 452.1,702.1 452.1,703.1 452.2,704.1 452.2,705.1 452.2,706.2 452.1,707.2 452.1,708.3 452.1,709.3 452.0,710.4 451.9,711.5 451.8,712.7 451.7,713.8 451.5,715.0 451.3,716.2 451.2,717.4 450.9,718.6 450.7,719.9 450.5,721.2 450.2,722.4 450.0,723.7 449.7,724.9 449.5,726.2 449.4,727.4 449.3,728.5 449.2,729.6 449.3,730.7 449.3,731.6 449.5,732.5 449.8,733.3 450.2,734.0 450.7,734.5 451.4,735.0 452.2,735.3 453.1,735.5 454.0,735.6 455.0,735.5 456.0,735.4 457.0,735.1 457.8,734.7 458.5,734.2 459.1,733.7 459.6,733.0 460.0,732.3 460.2,731.4 460.4,730.6 460.4,729.6 460.4,728.6 460.4,727.6 460.3,726.5 460.1,725.4 459.9,724.3 459.7,723.1 459.5,721.9 459.2,720.8 459.0,719.6 458.8,718.4 458.6,717.3 458.4,716.1 458.2,715.0 458.1,713.9 458.0,712.8 457.9,711.7 457.8,710.6 457.7,709.5 457.6,708.5 457.6,707.4 457.5,706.3 457.5,705.3 457.5,704.3 457.5,703.2 457.5,702.2 457.6,701.2 457.6,700.2 457.6,699.2 457.7,698.2 457.8,697.2 457.8,696.2 457.9,695.2 458.0,694.2 458.1,693.2 458.2,692.2 458.3,691.3 458.4,690.3 458.5,689.3 458.6,688.4 458.7,687.4 458.8,686.4 458.9,685.5 459.1,684.5 459.2,683.5 459.3,682.6 459.4,681.6 459.5,680.6 459.6,679.7 459.7,678.7 459.9,677.7 460.0,676.8 460.1,675.8 460.2,674.8 460.3,673.8 460.4,672.9 460.5,671.9 460.6,670.9 460.7,669.9 460.8,669.0 460.9,668.0 461.0,667.0 461.1,666.0 461.2,665.0 461.4,664.1 461.5,663.1 461.6,662.1 461.7,661.1 461.8,660.1 461.9,659.1 462.0,658.2 462.1,657.2 462.2,656.2 462.3,655.2 462.4,654.2 462.5,653.2 462.6,652.2 462.7,651.3 462.8,650.3 462.9,649.3 462.9,648.3 463.0,647.3 463.1,646.3 463.2,645.3 463.3,644.3 463.4,643.3 463.5,642.3 463.6,641.3 463.7,640.4 463.8,639.4 463.9,638.4 464.0,637.4 464.1,636.4 464.2,635.4 464.3,634.4 464.4,633.4 464.5,632.4 464.6,631.4 464.7,630.4 464.8,629.4 464.9,628.4 465.0,627.4 465.1,626.4 465.2,625.4 465.3,624.4 465.4,623.4 465.5,622.4 465.6,621.4 465.7,620.4 465.8,619.4 465.9,618.4 466.0,617.4 466.1,616.4 466.2,615.4 466.3,614.4 466.4,613.4 466.5,612.4 466.6,611.4 466.7,610.4 466.9,609.4 467.0,608.4 467.1,607.4 467.2,606.4 467.3,605.4 467.4,604.5 467.5,603.5 467.6,602.5 467.7,601.5 467.9,600.5 468.0,599.5 468.1,598.5 468.2,597.5 468.3,596.5 468.4,595.5 468.6,594.5 468.7,593.5 468.8,592.5 468.9,591.5 469.1,590.5 469.2,589.5 469.3,588.5 469.4,587.5 469.6,586.5 469.7,585.5 469.8,584.5 470.0,583.5 470.1,582.5 470.2,581.5 470.4,580.5 470.5,579.5 470.6,578.5 470.8,577.5 470.9,576.5 471.1,575.5 471.2,574.5 471.4,573.5 471.5,572.5 471.7,571.5 471.8,570.6 472.0,569.6 472.1,568.6 472.3,567.6 472.4,566.6 472.6,565.6 472.7,564.6 472.9,563.6 473.1,562.6 473.2,561.6 473.4,560.6 473.6,559.7 473.7,558.7 473.9,557.7 474.1,556.7 474.2,555.7 474.4,554.7 474.6,553.7 474.8,552.8 475.0,551.8 475.2,550.8 475.3,549.8 475.5,548.8 475.7,547.9 475.9,546.9 476.1,545.9 476.3,544.9 476.5,543.9 476.7,543.0 476.9,542.0 477.1,541.0 477.3,540.0 477.5,539.1 477.7,538.1 478.0,537.1 478.2,536.1 478.4,535.2 478.6,534.2 478.8,533.2 479.1,532.3 479.3,531.3 479.5,530.3 479.8,529.3 480.0,528.4 480.2,527.4 480.5,526.5 480.7,525.5 481.0,524.5 481.2,523.6 481.5,522.6 481.8,521.7 482.0,520.7 482.3,519.8 482.6,518.8 482.9,517.8 483.2,516.9 483.5,516.0 483.8,515.0 484.1,514.1 484.4,513.1 484.7,512.2 485.0,511.2 485.3,510.3 485.7,509.4 486.0,508.4 486.4,507.5 486.7,506.6 487.1,505.6 487.4,504.7 487.8,503.8 488.2,502.9 488.6,501.9 489.0,501.0 489.4,500.1 489.8,499.2 490.2,498.3 490.6,497.4 491.0,496.5 491.5,495.6 491.9,494.7 492.3,493.8 492.8,492.9 493.3,492.0 493.7,491.1 494.2,490.2 494.7,489.3 495.2,488.5 495.7,487.6 496.2,486.7 496.7,485.8 497.2,485.0 497.7,484.1 498.3,483.3 498.8,482.4 499.4,481.6 499.9,480.7 500.5,479.9 501.0,479.1 501.6,478.2 502.2,477.4 502.8,476.6 503.4,475.8 504.0,475.0 504.6,474.2 505.2,473.4 505.8,472.6 506.4,471.8 507.0,471.0 507.7,470.2 508.3,469.5 509.0,468.7 509.6,468.0 510.3,467.2 511.0,466.5 511.6,465.7 512.3,465.0 513.0,464.3 513.7,463.5 514.4,462.8 515.1,462.1 515.8,461.4 516.5,460.7 517.3,460.1 518.0,459.4 518.7,458.7 519.5,458.1 520.2,457.4 521.0,456.8 521.8,456.1 522.5,455.5 523.3,454.9 524.1,454.3 524.9,453.7 525.7,453.1 526.5,452.5 527.3,451.9 528.1,451.3 528.9,450.8 529.7,450.2 530.5,449.7 531.4,449.1 532.2,448.6 533.1,448.1 533.9,447.6 534.8,447.1 535.6,446.6 536.5,446.1 537.4,445.7 538.3,445.2 539.2,444.8 540.1,444.3 541.0,443.9 541.9,443.5 542.8,443.1 543.7,442.7 544.6,442.3 545.5,442.0 546.5,441.6 547.4,441.2 548.3,440.9 549.3,440.6 550.2,440.2 551.2,439.9 552.1,439.6 553.1,439.3 554.1,439.0 555.0,438.7 556.0,438.4 557.0,438.1 557.9,437.8 558.9,437.6 559.9,437.3 560.8,437.0 561.8,436.8 562.8,436.5 563.8,436.2 564.7,436.0 565.7,435.7 566.7,435.5 567.6,435.2 568.6,435.0 569.6,434.7 570.6,434.5 571.5,434.2 572.5,434.0 573.5,433.7 574.4,433.5 575.4,433.3 576.4,433.1 577.3,432.8 578.3,432.6 579.3,432.4 580.3,432.2 581.2,431.9 582.2,431.7 583.2,431.5 584.2,431.3 585.1,431.1 586.1,430.9 587.1,430.7 588.1,430.5 589.0,430.3 590.0,430.1 591.0,430.0 592.0,429.8 593.0,429.6 593.9,429.4 594.9,429.3 595.9,429.1 596.9,428.9 597.9,428.8 598.8,428.6 599.8,428.5 600.8,428.3 601.8,428.2 602.8,428.0 603.8,427.9 604.8,427.7 605.8,427.6 606.8,427.5 607.7,427.4 608.7,427.2 609.7,427.1 610.7,427.0 611.7,426.9 612.7,426.8 613.7,426.7 614.7,426.6 615.7,426.5 616.7,426.4 617.7,426.3 618.7,426.2 619.7,426.1 620.7,426.0 621.7,425.9 622.7,425.8 623.7,425.7 624.7,425.6 625.7,425.5 626.7,425.5 627.7,425.4 628.7,425.3 629.7,425.2 630.7,425.2 631.7,425.1 632.7,425.0 633.7,425.0 634.7,424.9 635.7,424.8 636.7,424.8 637.7,424.7 638.7,424.6 639.7,424.6 640.7,424.5 641.7,424.5 642.7,424.4 643.7,424.4 644.7,424.3 645.7,424.2 646.7,424.2 647.7,424.1 648.7,424.1 649.7,424.0 650.7,424.0 651.7,423.9 652.7,423.9 653.7,423.8 654.7,423.8 655.7,423.7 656.7,423.7 657.7,423.6 658.7,423.6 659.7,423.5 660.7,423.5 661.7,423.4 662.7,423.4 663.7,423.3 664.7,423.3 665.7,423.2 666.7,423.2 667.7,423.1 668.7,423.1 669.7,423.0" stroke="#a0a0a0" stroke-width="2.40" stroke-dasharray="1.4 3.7"/>
<path d="M67.3,421.3L68.3,421.6 69.2,421.9 70.2,422.1 71.2,422.4 72.2,422.6 73.1,422.8 74.1,423.0 75.1,423.2 76.1,423.4 77.1,423.6 78.0,423.8 79.0,423.9 80.0,424.1 81.0,424.2 82.0,424.4 83.0,424.5 84.0,424.6 85.0,424.7 85.9,424.8 86.9,424.9 87.9,425.0 88.9,425.0 89.9,425.1 90.9,425.2 91.9,425.2 92.9,425.3 93.9,425.3 94.9,425.4 95.9,425.4 96.9,425.4 97.9,425.5 98.9,425.5 99.9,425.5 101.0,425.5 102.0,425.5 103.0,425.5 104.0,425.5 105.0,425.5 106.0,425.6 107.0,425.6 108.0,425.6 109.0,425.6 110.0,425.6 111.0,425.7 112.0,425.7 113.0,425.8 114.0,425.9 115.0,425.9 116.0,426.0 117.0,426.2 118.0,426.3 118.9,426.4 119.9,426.6 120.9,426.8 121.9,427.0 122.8,427.2 123.8,427.5 124.7,427.8 125.7,428.1 126.6,428.4 127.6,428.8 128.5,429.2 129.4,429.6 130.4,430.0 131.3,430.5 132.2,430.9 133.1,431.4 134.0,431.9 134.9,432.3 135.8,432.8 136.7,433.3 137.6,433.8 138.5,434.3 139.4,434.8 140.3,435.2 141.2,435.7 142.0,436.1 142.9,436.5 143.8,436.9 144.6,437.3 145.5,437.7 146.4,438.1 147.3,438.4 148.2,438.8 149.1,439.1 150.0,439.4 150.9,439.7 151.8,440.0 152.8,440.4 153.7,440.7 154.7,441.0 155.7,441.3 156.6,441.5 157.6,441.8 158.6,442.1 159.6,442.4 160.6,442.7 161.6,443.0 162.6,443.4 163.6,443.7 164.6,444.0 165.6,444.3 166.6,444.7 167.6,445.0 168.5,445.4 169.5,445.7 170.5,446.1 171.4,446.5 172.3,446.9 173.3,447.3 174.2,447.8 175.0,448.2 175.9,448.7 176.8,449.2 177.6,449.7 178.4,450.2 179.2,450.8 180.0,451.4 180.7,452.0 181.5,452.6 182.2,453.2 182.9,453.8 183.5,454.5 184.2,455.2 184.8,455.9 185.5,456.6 186.1,457.3 186.7,458.1 187.3,458.8 187.8,459.6 188.4,460.4 188.9,461.2 189.4,462.0 189.9,462.8 190.4,463.7 190.9,464.5 191.3,465.4 191.8,466.2 192.2,467.1 192.7,468.0 193.1,468.9 193.5,469.8 193.9,470.7 194.3,471.7 194.6,472.6 195.0,473.6 195.3,474.5 195.7,475.5 196.0,476.4 196.3,477.4 196.7,478.4 197.0,479.4 197.3,480.4 197.6,481.4 197.8,482.4 198.1,483.4 198.4,484.4 198.7,485.4 198.9,486.4 199.2,487.4 199.4,488.4 199.7,489.4 199.9,490.4 200.2,491.4 200.4,492.5 200.6,493.5 200.9,494.5 201.1,495.5 201.3,496.5 201.6,497.5 201.8,498.5 202.0,499.5 202.2,500.5 202.4,501.5 202.7,502.5 202.9,503.5 203.1,504.5 203.3,505.5 203.5,506.5 203.8,507.5 204.0,508.4 204.2,509.4 204.4,510.4 204.6,511.3 204.8,512.3 205.0,513.3 205.3,514.2 205.5,515.2 205.7,516.1 205.9,517.1 206.1,518.1 206.3,519.0 206.5,520.0 206.7,520.9 206.9,521.9 207.1,522.8 207.3,523.8 207.4,524.7 207.6,525.7 207.8,526.6 208.0,527.6 208.2,528.5 208.3,529.5 208.5,530.4 208.7,531.4 208.9,532.3 209.0,533.3 209.2,534.3 209.3,535.2 209.5,536.2 209.6,537.2 209.8,538.1 209.9,539.1 210.0,540.1 210.2,541.0 210.3,542.0 210.4,543.0 210.5,544.0 210.7,545.0 210.8,546.0 210.9,547.0 211.0,548.0 211.1,549.0 211.2,550.0 211.3,551.0 211.4,552.0 211.5,553.0 211.6,554.0 211.7,555.0 211.8,556.0 211.9,557.0 212.1,558.0 212.2,559.1 212.3,560.1 212.4,561.1 212.6,562.1 212.7,563.1 212.9,564.1 213.0,565.1 213.2,566.2 213.4,567.2 213.5,568.2 213.7,569.2 213.9,570.2 214.2,571.2 214.4,572.2 214.6,573.2 214.9,574.2 215.1,575.2 215.4,576.2 215.7,577.2 216.0,578.2 216.3,579.2 216.7,580.2 217.0,581.2 217.4,582.2 217.8,583.2 218.2,584.1 218.6,584.9 219.1,585.4 219.6,585.6 220.1,585.3 220.7,584.7 221.2,583.9 221.7,583.1 222.0,582.2 222.3,581.2 222.6,580.3 222.8,579.3 223.0,578.3 223.2,577.3 223.4,576.3 223.6,575.4 223.8,574.4 224.0,573.4 224.1,572.4 224.3,571.4 224.5,570.4 224.7,569.4 224.9,568.4 225.0,567.5 225.2,566.5 225.4,565.5 225.5,564.5 225.7,563.5 225.9,562.5 226.0,561.5 226.2,560.5 226.4,559.5 226.5,558.5 226.7,557.5 226.8,556.5 227.0,555.5 227.1,554.5 227.3,553.5 227.4,552.5 227.6,551.5 227.7,550.5 227.9,549.6 228.0,548.6 228.2,547.6 228.3,546.6 228.4,545.6 228.6,544.6 228.7,543.6 228.8,542.6 229.0,541.6 229.1,540.6 229.2,539.6 229.4,538.6 229.5,537.6 229.6,536.6 229.7,535.6 229.9,534.6 230.0,533.6 230.1,532.6 230.2,531.6 230.4,530.6 230.5,529.6 230.6,528.6 230.7,527.6 230.8,526.6 230.9,525.6 231.1,524.6 231.2,523.6 231.3,522.7 231.4,521.7 231.5,520.7 231.6,519.7 231.7,518.7 231.9,517.7 232.0,516.7 232.1,515.7 232.2,514.7 232.3,513.7 232.4,512.7 232.5,511.7 232.7,510.8 232.8,509.8 232.9,508.8 233.0,507.8 233.1,506.8 233.3,505.8 233.4,504.8 233.5,503.8 233.6,502.9 233.8,501.9 233.9,500.9 234.0,499.9 234.2,498.9 234.3,497.9 234.4,496.9 234.6,496.0 234.7,495.0 234.9,494.0 235.0,493.0 235.2,492.0 235.3,491.1 235.5,490.1 235.6,489.1 235.8,488.1 236.0,487.1 236.1,486.2 236.3,485.2 236.5,484.2 236.7,483.2 236.8,482.2 237.0,481.3 237.2,480.3 237.4,479.3 237.6,478.3 237.8,477.4 238.0,476.4 238.3,475.4 238.5,474.4 238.7,473.5 238.9,472.5 239.2,471.5 239.4,470.6 239.6,469.6 239.9,468.6 240.1,467.6 240.4,466.7 240.7,465.7 240.9,464.7 241.2,463.8 241.5,462.8 241.8,461.8 242.1,460.9 242.4,459.9 242.7,458.9 243.0,458.0 243.3,457.0 243.7,456.1 244.0,455.1 244.3,454.1 244.7,453.2 245.0,452.2 245.4,451.2 245.8,450.3 246.1,449.3 246.5,448.4 246.9,447.4 247.3,446.5 247.7,445.5 248.1,444.5 248.6,443.6 249.0,442.7 249.5,441.7 249.9,440.8 250.4,439.9 250.9,439.0 251.4,438.1 251.9,437.3 252.4,436.4 253.0,435.6 253.5,434.7 254.1,433.9 254.7,433.1 255.3,432.4 255.9,431.6 256.6,430.9 257.3,430.2 257.9,429.5 258.6,428.9 259.4,428.3 260.1,427.7 260.9,427.1 261.7,426.6 262.5,426.1 263.3,425.7 264.2,425.3 265.1,424.9 266.0,424.5 266.9,424.2 267.9,423.9 268.8,423.6 269.8,423.4 270.8,423.2 271.7,423.0 272.7,422.9 273.8,422.7 274.8,422.6 275.8,422.6 276.8,422.5 277.8,422.5 278.9,422.5 279.9,422.6 280.9,422.6 281.9,422.7 282.9,422.8 284.0,422.9 285.0,423.1 285.9,423.3 286.9,423.4 287.9,423.7 288.9,423.9 289.9,424.1 290.8,424.4 291.8,424.6 292.7,424.9 293.7,425.2 294.6,425.5 295.6,425.8 296.5,426.1 297.5,426.4 298.4,426.7 299.4,427.0 300.3,427.3 301.2,427.7 302.2,428.0 303.1,428.3 304.1,428.6 305.0,428.9 306.0,429.3 306.9,429.6 307.9,429.9 308.8,430.1 309.8,430.4 310.7,430.7 311.7,430.9 312.7,431.2 313.7,431.4 314.7,431.6 315.7,431.8 316.7,432.0 317.7,432.1 318.7,432.3 319.7,432.4 320.7,432.6 321.7,432.7 322.7,432.8 323.8,432.9 324.8,433.1 325.8,433.2 326.8,433.3 327.8,433.5 328.8,433.6 329.8,433.8 330.8,433.9 331.8,434.1 332.8,434.3 333.8,434.5 334.7,434.8 335.7,435.0 336.6,435.3 337.6,435.6 338.5,435.9 339.4,436.3 340.3,436.7 341.2,437.1 342.0,437.6 342.9,438.1 343.8,438.5 344.6,439.0 345.4,439.6 346.3,440.1 347.1,440.6 348.0,441.2 348.8,441.7 349.6,442.3 350.5,442.8 351.3,443.3 352.1,443.9 353.0,444.4 353.8,445.0 354.7,445.5 355.5,446.0 356.4,446.6 357.2,447.1 358.1,447.7 358.9,448.2 359.8,448.8 360.6,449.3 361.5,449.8 362.3,450.4 363.2,450.9 364.0,451.5 364.8,452.0 365.7,452.6 366.5,453.1 367.4,453.7 368.2,454.3 369.0,454.8 369.9,455.4 370.7,456.0 371.5,456.5 372.4,457.1 373.2,457.7 374.0,458.3 374.8,458.9 375.6,459.5 376.4,460.1 377.2,460.7 378.0,461.3 378.8,461.9 379.6,462.5 380.4,463.1 381.2,463.8 381.9,464.4 382.7,465.1 383.4,465.7 384.2,466.4 384.9,467.0 385.7,467.7 386.4,468.4 387.2,469.0 387.9,469.7 388.6,470.4 389.3,471.1 390.0,471.8 390.7,472.5 391.4,473.2 392.1,473.9 392.8,474.7 393.5,475.4 394.1,476.1 394.8,476.9 395.4,477.6 396.1,478.4 396.7,479.1 397.4,479.9 398.0,480.7 398.6,481.4 399.2,482.2 399.9,483.0 400.5,483.8 401.1,484.6 401.6,485.4 402.2,486.2 402.8,487.0 403.4,487.8 403.9,488.6 404.5,489.4 405.0,490.3 405.6,491.1 406.1,491.9 406.6,492.8 407.2,493.6 407.7,494.4 408.2,495.3 408.7,496.2 409.2,497.0 409.7,497.9 410.1,498.8 410.6,499.6 411.1,500.5 411.6,501.4 412.0,502.3 412.5,503.2 412.9,504.0 413.4,504.9 413.8,505.8 414.2,506.7 414.6,507.6 415.1,508.5 415.5,509.5 415.9,510.4 416.3,511.3 416.7,512.2 417.1,513.1 417.5,514.0 417.9,515.0 418.2,515.9 418.6,516.8 419.0,517.8 419.3,518.7 419.7,519.6 420.1,520.6 420.4,521.5 420.8,522.5 421.1,523.4 421.4,524.4 421.8,525.3 422.1,526.3 422.4,527.2 422.8,528.2 423.1,529.1 423.4,530.1 423.7,531.1 424.0,532.0 424.3,533.0 424.6,534.0 424.9,534.9 425.2,535.9 425.5,536.9 425.8,537.8 426.1,538.8 426.4,539.8 426.7,540.7 427.0,541.7 427.2,542.7 427.5,543.7 427.8,544.6 428.1,545.6 428.3,546.6 428.6,547.6 428.9,548.5 429.1,549.5 429.4,550.5 429.7,551.4 429.9,552.4 430.2,553.4 430.4,554.4 430.7,555.3 430.9,556.3 431.2,557.3 431.4,558.3 431.7,559.2 431.9,560.2 432.2,561.2 432.4,562.1 432.6,563.1 432.9,564.1 433.1,565.0 433.4,566.0 433.6,567.0 433.8,567.9 434.1,568.9 434.3,569.9 434.6,570.8 434.8,571.8 435.0,572.7 435.2,573.7 435.5,574.7 435.7,575.6 435.9,576.6 436.1,577.6 436.4,578.5 436.6,579.5 436.8,580.4 437.0,581.4 437.2,582.4 437.4,583.3 437.6,584.3 437.8,585.3 438.0,586.3 438.2,587.2 438.4,588.2 438.6,589.2 438.8,590.1 439.0,591.1 439.2,592.1 439.3,593.1 439.5,594.1 439.7,595.0 439.9,596.0 440.0,597.0 440.2,598.0 440.4,599.0 440.5,600.0 440.7,601.0 440.8,602.0 441.0,603.0 441.2,604.0 441.3,605.0 441.5,606.0 441.6,606.9 441.8,607.9 441.9,608.9 442.0,609.9 442.2,610.9 442.3,611.9 442.5,612.9 442.6,613.9 442.8,614.9 442.9,615.9 443.0,616.9 443.2,617.9 443.3,618.9 443.4,619.9 443.6,620.9 443.7,621.9 443.9,622.9 444.0,623.9 444.1,624.9 444.3,625.9 444.4,626.9 444.5,627.9 444.7,628.9 444.8,629.9 445.0,630.9 445.1,631.9 445.3,632.9 445.4,633.9 445.5,634.9 445.7,635.9 445.8,636.9 446.0,637.9 446.1,638.9 446.3,639.8 446.4,640.8 446.6,641.8 446.8,642.8 446.9,643.8 447.1,644.8 447.3,645.7 447.4,646.7 447.6,647.7 447.8,648.7 447.9,649.6 448.1,650.6 448.3,651.6 448.5,652.5 448.6,653.5 448.8,654.5 449.0,655.5 449.2,656.4 449.4,657.4 449.6,658.4 449.8,659.4 450.0,660.3 450.1,661.3 450.3,662.3 450.5,663.3 450.7,664.2 450.9,665.2 451.1,666.2 451.3,667.2 451.6,668.2 451.8,669.2 452.0,670.2 452.2,671.2 452.4,672.2 452.6,673.2 452.8,674.2 453.0,675.2 453.2,676.2 453.5,677.2 453.7,678.2 453.9,679.2 454.1,680.2 454.3,681.3 454.6,682.3 454.8,683.1 455.0,683.7 455.3,683.9 455.6,683.6 455.9,682.9 456.2,682.0 456.5,680.8 456.8,679.5 457.1,678.1 457.4,676.7 457.7,675.4 457.9,674.1 458.2,672.9 458.4,671.7 458.7,670.6 458.9,669.6 459.1,668.6 459.3,667.6 459.5,666.7 459.7,665.8 459.9,664.9 460.1,664.0 460.3,663.2 460.4,662.3 460.6,661.5 460.8,660.6 460.9,659.8 461.1,658.9 461.2,658.0 461.4,657.1 461.6,656.2 461.7,655.3 461.8,654.3 462.0,653.4 462.1,652.4 462.3,651.5 462.4,650.5 462.6,649.5 462.7,648.5 462.8,647.5 463.0,646.5 463.1,645.5 463.2,644.5 463.4,643.5 463.5,642.5 463.7,641.5 463.8,640.4 463.9,639.4 464.1,638.4 464.2,637.4 464.3,636.4 464.5,635.4 464.6,634.3 464.8,633.3 464.9,632.3 465.1,631.3 465.2,630.3 465.4,629.3 465.5,628.3 465.7,627.3 465.8,626.3 466.0,625.3 466.1,624.3 466.3,623.3 466.4,622.3 466.6,621.3 466.8,620.3 466.9,619.3 467.1,618.3 467.2,617.3 467.4,616.3 467.6,615.3 467.8,614.3 467.9,613.3 468.1,612.3 468.3,611.3 468.4,610.3 468.6,609.4 468.8,608.4 469.0,607.4 469.2,606.4 469.3,605.4 469.5,604.4 469.7,603.5 469.9,602.5 470.1,601.5 470.3,600.5 470.5,599.6 470.7,598.6 470.9,597.6 471.1,596.6 471.3,595.6 471.5,594.7 471.7,593.7 471.9,592.7 472.1,591.8 472.3,590.8 472.5,589.8 472.7,588.8 472.9,587.9 473.1,586.9 473.4,585.9 473.6,585.0 473.8,584.0 474.0,583.0 474.2,582.1 474.5,581.1 474.7,580.1 474.9,579.2 475.2,578.2 475.4,577.2 475.6,576.3 475.9,575.3 476.1,574.3 476.4,573.4 476.6,572.4 476.9,571.4 477.1,570.5 477.4,569.5 477.6,568.6 477.9,567.6 478.1,566.6 478.4,565.7 478.7,564.7 478.9,563.7 479.2,562.8 479.5,561.8 479.7,560.8 480.0,559.9 480.3,558.9 480.6,558.0 480.9,557.0 481.1,556.0 481.4,555.1 481.7,554.1 482.0,553.1 482.3,552.2 482.6,551.2 482.9,550.3 483.2,549.3 483.5,548.3 483.8,547.4 484.1,546.4 484.5,545.5 484.8,544.5 485.1,543.5 485.4,542.6 485.7,541.6 486.1,540.7 486.4,539.7 486.8,538.8 487.1,537.8 487.4,536.9 487.8,535.9 488.1,535.0 488.5,534.1 488.9,533.1 489.2,532.2 489.6,531.2 490.0,530.3 490.4,529.4 490.7,528.4 491.1,527.5 491.5,526.6 491.9,525.7 492.3,524.7 492.7,523.8 493.1,522.9 493.6,522.0 494.0,521.1 494.4,520.2 494.8,519.3 495.3,518.4 495.7,517.5 496.1,516.6 496.6,515.7 497.1,514.8 497.5,513.9 498.0,513.0 498.5,512.1 498.9,511.3 499.4,510.4 499.9,509.5 500.4,508.7 500.9,507.8 501.4,507.0 501.9,506.1 502.4,505.3 503.0,504.4 503.5,503.6 504.0,502.7 504.6,501.9 505.1,501.1 505.7,500.3 506.2,499.4 506.8,498.6 507.4,497.8 507.9,497.0 508.5,496.2 509.1,495.4 509.7,494.6 510.3,493.9 510.9,493.1 511.6,492.3 512.2,491.6 512.8,490.8 513.5,490.0 514.1,489.3 514.8,488.5 515.4,487.8 516.1,487.1 516.8,486.3 517.5,485.6 518.2,484.9 518.9,484.2 519.6,483.5 520.3,482.8 521.0,482.1 521.7,481.4 522.4,480.7 523.2,480.0 523.9,479.4 524.6,478.7 525.4,478.0 526.1,477.4 526.9,476.7 527.7,476.1 528.4,475.4 529.2,474.8 530.0,474.1 530.8,473.5 531.6,472.9 532.4,472.3 533.1,471.7 533.9,471.1 534.8,470.5 535.6,469.9 536.4,469.3 537.2,468.7 538.0,468.1 538.8,467.5 539.7,466.9 540.5,466.4 541.4,465.8 542.2,465.3 543.0,464.7 543.9,464.2 544.7,463.6 545.6,463.1 546.5,462.6 547.3,462.0 548.2,461.5 549.0,461.0 549.9,460.5 550.8,460.0 551.7,459.5 552.5,459.0 553.4,458.5 554.3,458.0 555.2,457.5 556.1,457.0 557.0,456.5 557.9,456.1 558.7,455.6 559.6,455.2 560.5,454.7 561.4,454.2 562.3,453.8 563.2,453.4 564.1,452.9 565.0,452.5 566.0,452.1 566.9,451.6 567.8,451.2 568.7,450.8 569.6,450.4 570.5,450.0 571.4,449.6 572.3,449.2 573.3,448.8 574.2,448.4 575.1,448.1 576.0,447.7 577.0,447.3 577.9,446.9 578.8,446.6 579.7,446.2 580.7,445.9 581.6,445.5 582.5,445.2 583.5,444.8 584.4,444.5 585.4,444.1 586.3,443.8 587.2,443.5 588.2,443.2 589.1,442.8 590.1,442.5 591.0,442.2 592.0,441.9 592.9,441.6 593.9,441.3 594.8,441.0 595.8,440.7 596.7,440.5 597.7,440.2 598.6,439.9 599.6,439.6 600.6,439.4 601.5,439.1 602.5,438.8 603.4,438.6 604.4,438.3 605.4,438.1 606.3,437.8 607.3,437.6 608.3,437.3 609.2,437.1 610.2,436.9 611.2,436.7 612.1,436.4 613.1,436.2 614.1,436.0 615.1,435.8 616.0,435.6 617.0,435.4 618.0,435.2 619.0,435.0 620.0,434.8 620.9,434.6 621.9,434.4 622.9,434.2 623.9,434.0 624.9,433.9 625.9,433.7 626.8,433.5 627.8,433.3 628.8,433.2 629.8,433.0 630.8,432.9 631.8,432.7 632.8,432.6 633.8,432.4 634.7,432.3 635.7,432.1 636.7,432.0 637.7,431.9 638.7,431.7 639.7,431.6 640.7,431.5 641.7,431.4 642.7,431.2 643.7,431.1 644.7,431.0 645.7,430.9 646.7,430.8 647.7,430.7 648.7,430.6 649.7,430.5 650.7,430.4 651.7,430.3 652.7,430.2 653.7,430.1 654.7,430.1 655.7,430.0 656.7,429.9 657.7,429.8 658.7,429.8 659.7,429.7 660.7,429.6 661.7,429.6 662.7,429.5 663.7,429.4 664.7,429.4 665.7,429.3 666.7,429.3 667.7,429.2 668.7,429.2 669.7,429.2" stroke="#b3b3b3" stroke-width="2.40" stroke-dasharray="10.5 4.5 2.4 3.6"/>
<path d="M67.3,422.3L68.3,422.7 69.2,423.2 70.2,423.5 71.2,423.9 72.1,424.2 73.1,424.5 74.1,424.8 75.1,425.0 76.1,425.2 77.0,425.4 78.0,425.6 79.0,425.7 80.0,425.9 81.0,426.0 81.9,426.1 82.9,426.1 83.9,426.2 84.9,426.3 85.9,426.3 86.9,426.3 87.9,426.4 88.8,426.4 89.8,426.4 90.8,426.4 91.8,426.4 92.8,426.4 93.8,426.4 94.8,426.4 95.8,426.4 96.8,426.4 97.8,426.3 98.8,426.3 99.8,426.4 100.8,426.4 101.9,426.4 102.9,426.4 103.9,426.4 104.9,426.5 105.9,426.5 106.9,426.6 107.9,426.7 108.9,426.8 109.9,426.9 110.9,427.0 111.9,427.1 112.9,427.2 113.9,427.4 114.9,427.5 115.9,427.7 116.9,427.9 117.9,428.1 118.9,428.3 119.8,428.5 120.8,428.7 121.8,429.0 122.7,429.2 123.7,429.5 124.6,429.8 125.5,430.2 126.5,430.5 127.4,430.8 128.3,431.2 129.2,431.6 130.1,432.0 131.0,432.4 131.8,432.9 132.7,433.3 133.6,433.8 134.4,434.3 135.3,434.8 136.1,435.3 136.9,435.8 137.8,436.3 138.6,436.8 139.5,437.3 140.3,437.8 141.2,438.3 142.0,438.9 142.9,439.4 143.7,439.9 144.6,440.4 145.4,440.9 146.3,441.4 147.2,441.9 148.0,442.4 148.9,442.8 149.8,443.3 150.7,443.7 151.7,444.1 152.6,444.5 153.5,444.9 154.5,445.3 155.5,445.6 156.4,445.9 157.4,446.3 158.4,446.6 159.4,446.8 160.5,447.1 161.5,447.4 162.5,447.6 163.5,447.9 164.5,448.2 165.5,448.5 166.5,448.7 167.5,449.0 168.5,449.3 169.4,449.7 170.4,450.0 171.3,450.4 172.2,450.7 173.1,451.2 173.9,451.6 174.7,452.1 175.5,452.6 176.3,453.1 177.0,453.7 177.8,454.3 178.5,454.9 179.1,455.6 179.8,456.3 180.4,457.0 181.0,457.8 181.5,458.5 182.1,459.3 182.6,460.2 183.2,461.0 183.7,461.8 184.1,462.7 184.6,463.6 185.0,464.5 185.5,465.4 185.9,466.4 186.3,467.3 186.7,468.3 187.1,469.2 187.5,470.2 187.8,471.2 188.2,472.2 188.5,473.1 188.9,474.1 189.2,475.1 189.5,476.1 189.8,477.1 190.2,478.1 190.5,479.1 190.8,480.1 191.1,481.1 191.4,482.0 191.7,483.0 192.0,484.0 192.3,485.0 192.6,485.9 192.9,486.9 193.2,487.9 193.5,488.8 193.8,489.8 194.1,490.8 194.3,491.7 194.6,492.7 194.9,493.6 195.2,494.6 195.4,495.5 195.7,496.5 195.9,497.4 196.2,498.4 196.4,499.3 196.7,500.3 196.9,501.2 197.2,502.2 197.4,503.1 197.6,504.1 197.9,505.0 198.1,506.0 198.3,507.0 198.5,507.9 198.8,508.9 199.0,509.8 199.2,510.8 199.4,511.7 199.6,512.7 199.8,513.7 200.0,514.6 200.2,515.6 200.3,516.6 200.5,517.5 200.7,518.5 200.9,519.5 201.1,520.4 201.2,521.4 201.4,522.4 201.6,523.3 201.7,524.3 201.9,525.3 202.1,526.3 202.2,527.3 202.4,528.2 202.5,529.2 202.7,530.2 202.8,531.2 203.0,532.2 203.1,533.2 203.3,534.1 203.4,535.1 203.6,536.1 203.7,537.1 203.9,538.1 204.0,539.1 204.1,540.1 204.3,541.1 204.4,542.1 204.5,543.1 204.7,544.1 204.8,545.1 204.9,546.1 205.1,547.1 205.2,548.2 205.3,549.2 205.5,550.2 205.6,551.2 205.7,552.2 205.9,553.2 206.0,554.2 206.1,555.3 206.2,556.3 206.4,557.3 206.5,558.3 206.6,559.3 206.7,560.3 206.9,561.4 207.0,562.4 207.1,563.4 207.2,564.4 207.3,565.4 207.5,566.5 207.6,567.5 207.7,568.5 207.8,569.5 207.9,570.5 208.1,571.5 208.2,572.6 208.3,573.6 208.4,574.6 208.5,575.6 208.6,576.6 208.8,577.6 208.9,578.6 209.0,579.6 209.1,580.6 209.2,581.6 209.3,582.6 209.4,583.6 209.6,584.6 209.7,585.6 209.8,586.6 209.9,587.6 210.0,588.6 210.1,589.6 210.2,590.5 210.3,591.5 210.5,592.5 210.6,593.5 210.7,594.4 210.8,595.4 210.9,596.4 211.0,597.3 211.1,598.3 211.2,599.2 211.3,600.2 211.5,601.1 211.6,602.1 211.7,603.0 211.8,604.0 211.9,604.9 212.0,605.8 212.1,606.7 212.2,607.7 212.3,608.6 212.5,609.5 212.6,610.4 212.7,611.3 212.8,612.2 212.9,613.1 213.0,614.0 213.1,614.9 213.2,615.8 213.4,616.7 213.5,617.5 213.6,618.5 213.7,619.4 213.8,620.3 213.9,621.2 214.0,622.2 214.1,623.1 214.2,624.1 214.3,625.1 214.4,626.1 214.4,627.1 214.5,628.1 214.6,629.2 214.7,630.3 214.8,631.4 214.8,632.5 214.9,633.7 214.9,634.9 215.0,636.1 215.0,637.4 215.1,638.7 215.1,640.0 215.2,641.4 215.2,642.8 215.2,644.2 215.2,645.6 215.3,646.9 215.3,648.2 215.3,649.4 215.4,650.5 215.4,651.4 215.5,652.2 215.6,652.7 215.8,653.0 215.9,653.1 216.1,652.9 216.3,652.4 216.5,651.7 216.7,650.8 217.0,649.8 217.2,648.7 217.4,647.6 217.6,646.5 217.8,645.4 218.0,644.4 218.1,643.4 218.3,642.3 218.4,641.3 218.5,640.3 218.6,639.3 218.7,638.3 218.8,637.3 218.9,636.3 219.0,635.3 219.1,634.3 219.2,633.3 219.3,632.3 219.4,631.3 219.4,630.3 219.5,629.3 219.6,628.3 219.6,627.3 219.7,626.3 219.7,625.3 219.8,624.3 219.9,623.3 219.9,622.3 220.0,621.3 220.0,620.3 220.1,619.3 220.1,618.3 220.2,617.4 220.2,616.4 220.3,615.4 220.3,614.4 220.4,613.4 220.5,612.4 220.5,611.4 220.6,610.4 220.6,609.4 220.7,608.4 220.8,607.4 220.8,606.4 220.9,605.4 221.0,604.4 221.1,603.4 221.2,602.4 221.3,601.4 221.4,600.4 221.5,599.4 221.6,598.4 221.7,597.4 221.8,596.5 221.9,595.5 222.0,594.5 222.1,593.5 222.2,592.5 222.3,591.5 222.4,590.5 222.5,589.5 222.6,588.5 222.7,587.5 222.9,586.5 223.0,585.5 223.1,584.5 223.2,583.5 223.3,582.5 223.4,581.5 223.5,580.5 223.6,579.5 223.7,578.5 223.9,577.5 224.0,576.5 224.1,575.5 224.2,574.5 224.3,573.5 224.4,572.5 224.5,571.6 224.6,570.6 224.7,569.6 224.8,568.6 224.9,567.6 225.0,566.6 225.2,565.6 225.3,564.6 225.4,563.6 225.5,562.6 225.6,561.6 225.7,560.6 225.8,559.6 225.9,558.6 226.0,557.6 226.1,556.6 226.2,555.6 226.3,554.6 226.4,553.6 226.5,552.6 226.7,551.6 226.8,550.6 226.9,549.6 227.0,548.6 227.1,547.7 227.2,546.7 227.3,545.7 227.4,544.7 227.5,543.7 227.6,542.7 227.8,541.7 227.9,540.7 228.0,539.7 228.1,538.7 228.2,537.7 228.3,536.7 228.4,535.7 228.5,534.7 228.7,533.7 228.8,532.7 228.9,531.7 229.0,530.7 229.1,529.8 229.3,528.8 229.4,527.8 229.5,526.8 229.6,525.8 229.7,524.8 229.9,523.8 230.0,522.8 230.1,521.8 230.2,520.8 230.4,519.8 230.5,518.8 230.6,517.8 230.7,516.8 230.9,515.9 231.0,514.9 231.1,513.9 231.3,512.9 231.4,511.9 231.6,510.9 231.7,509.9 231.8,508.9 232.0,507.9 232.1,506.9 232.3,505.9 232.4,505.0 232.5,504.0 232.7,503.0 232.8,502.0 233.0,501.0 233.1,500.0 233.3,499.0 233.4,498.0 233.6,497.0 233.8,496.0 233.9,495.1 234.1,494.1 234.2,493.1 234.4,492.1 234.6,491.1 234.7,490.1 234.9,489.1 235.1,488.1 235.2,487.2 235.4,486.2 235.6,485.2 235.8,484.2 235.9,483.2 236.1,482.2 236.3,481.2 236.5,480.3 236.7,479.3 236.9,478.3 237.0,477.3 237.2,476.3 237.4,475.3 237.6,474.4 237.8,473.4 238.1,472.4 238.3,471.4 238.5,470.4 238.7,469.5 238.9,468.5 239.2,467.5 239.4,466.5 239.7,465.6 239.9,464.6 240.2,463.6 240.4,462.7 240.7,461.7 241.0,460.8 241.2,459.8 241.5,458.8 241.8,457.9 242.1,456.9 242.4,456.0 242.8,455.0 243.1,454.1 243.4,453.2 243.8,452.2 244.1,451.3 244.5,450.4 244.9,449.4 245.3,448.5 245.7,447.6 246.1,446.7 246.5,445.8 246.9,444.9 247.4,444.0 247.8,443.1 248.3,442.2 248.8,441.3 249.3,440.4 249.8,439.5 250.3,438.7 250.8,437.8 251.4,436.9 251.9,436.1 252.5,435.2 253.1,434.4 253.7,433.6 254.4,432.8 255.0,432.0 255.7,431.3 256.4,430.5 257.0,429.8 257.8,429.1 258.5,428.4 259.2,427.8 260.0,427.2 260.8,426.6 261.6,426.0 262.4,425.5 263.2,425.0 264.1,424.6 265.0,424.2 265.9,423.8 266.8,423.5 267.7,423.2 268.7,422.9 269.6,422.7 270.6,422.5 271.6,422.4 272.6,422.3 273.7,422.2 274.7,422.2 275.7,422.2 276.8,422.3 277.8,422.3 278.9,422.4 279.9,422.5 280.9,422.6 282.0,422.8 283.0,423.0 284.0,423.2 285.0,423.4 286.0,423.6 287.0,423.8 287.9,424.1 288.9,424.3 289.9,424.6 290.8,424.9 291.8,425.1 292.7,425.4 293.7,425.7 294.6,426.0 295.5,426.3 296.5,426.6 297.4,426.9 298.3,427.2 299.3,427.5 300.2,427.8 301.2,428.1 302.1,428.3 303.1,428.6 304.0,428.9 305.0,429.1 305.9,429.4 306.9,429.6 307.9,429.8 308.8,430.1 309.8,430.3 310.8,430.5 311.8,430.7 312.8,430.9 313.8,431.2 314.7,431.4 315.7,431.6 316.7,431.8 317.7,432.0 318.7,432.2 319.7,432.4 320.7,432.6 321.7,432.8 322.6,433.0 323.6,433.2 324.6,433.5 325.6,433.7 326.6,433.9 327.5,434.2 328.5,434.4 329.5,434.7 330.5,434.9 331.4,435.2 332.4,435.5 333.3,435.8 334.3,436.1 335.2,436.4 336.1,436.7 337.1,437.1 338.0,437.4 338.9,437.8 339.8,438.2 340.7,438.6 341.6,439.0 342.5,439.4 343.4,439.9 344.3,440.3 345.2,440.8 346.0,441.2 346.9,441.7 347.7,442.2 348.6,442.7 349.4,443.3 350.3,443.8 351.1,444.3 351.9,444.9 352.7,445.4 353.6,446.0 354.4,446.6 355.2,447.2 356.0,447.8 356.8,448.4 357.6,449.0 358.3,449.6 359.1,450.2 359.9,450.9 360.7,451.5 361.4,452.2 362.2,452.8 363.0,453.5 363.7,454.2 364.5,454.8 365.2,455.5 365.9,456.2 366.7,456.9 367.4,457.6 368.1,458.3 368.9,459.0 369.6,459.7 370.3,460.4 371.0,461.1 371.7,461.8 372.4,462.6 373.1,463.3 373.8,464.0 374.5,464.7 375.2,465.5 375.9,466.2 376.6,466.9 377.3,467.6 377.9,468.4 378.6,469.1 379.3,469.9 380.0,470.6 380.6,471.3 381.3,472.1 382.0,472.8 382.6,473.6 383.3,474.3 383.9,475.1 384.6,475.8 385.3,476.6 385.9,477.3 386.6,478.1 387.2,478.8 387.9,479.6 388.5,480.4 389.2,481.1 389.8,481.9 390.4,482.6 391.1,483.4 391.7,484.2 392.4,484.9 393.0,485.7 393.7,486.5 394.3,487.2 394.9,488.0 395.6,488.8 396.2,489.5 396.8,490.3 397.5,491.1 398.1,491.8 398.8,492.6 399.4,493.4 400.0,494.2 400.7,494.9 401.3,495.7 401.9,496.5 402.6,497.3 403.2,498.0 403.8,498.8 404.5,499.6 405.1,500.4 405.7,501.2 406.3,502.0 407.0,502.8 407.6,503.5 408.2,504.3 408.8,505.1 409.4,505.9 410.0,506.7 410.6,507.5 411.2,508.3 411.8,509.2 412.3,510.0 412.9,510.8 413.5,511.6 414.0,512.4 414.6,513.3 415.1,514.1 415.7,514.9 416.2,515.8 416.7,516.6 417.2,517.5 417.7,518.3 418.2,519.2 418.7,520.1 419.2,520.9 419.6,521.8 420.1,522.7 420.5,523.6 421.0,524.5 421.4,525.4 421.8,526.3 422.2,527.2 422.6,528.1 423.0,529.0 423.4,529.9 423.8,530.9 424.1,531.8 424.5,532.7 424.8,533.6 425.2,534.6 425.5,535.5 425.8,536.5 426.2,537.4 426.5,538.4 426.8,539.3 427.1,540.3 427.4,541.3 427.7,542.2 427.9,543.2 428.2,544.2 428.5,545.1 428.7,546.1 429.0,547.1 429.3,548.1 429.5,549.0 429.8,550.0 430.0,551.0 430.2,552.0 430.5,553.0 430.7,553.9 430.9,554.9 431.1,555.9 431.3,556.9 431.6,557.9 431.8,558.9 432.0,559.9 432.2,560.8 432.4,561.8 432.6,562.8 432.8,563.8 433.0,564.8 433.2,565.8 433.4,566.8 433.6,567.7 433.8,568.7 434.0,569.7 434.1,570.7 434.3,571.7 434.5,572.7 434.7,573.6 434.9,574.6 435.1,575.6 435.3,576.6 435.5,577.5 435.8,578.5 436.0,579.5 436.2,580.5 436.4,581.4 436.6,582.4 436.9,583.4 437.1,584.3 437.3,585.3 437.6,586.2 437.8,587.2 438.1,588.2 438.4,589.1 438.7,590.1 438.9,591.0 439.2,592.0 439.5,592.9 439.8,593.9 440.2,594.8 440.5,595.7 440.8,596.7 441.2,597.6 441.5,598.6 441.9,599.5 442.3,600.4 442.7,601.3 443.1,602.3 443.5,603.2 443.9,604.1 444.4,605.0 444.8,605.9 445.3,606.8 445.8,607.7 446.3,608.6 446.8,609.5 447.4,610.3 448.0,611.1 448.6,611.9 449.3,612.6 450.0,613.3 450.8,613.9 451.6,614.4 452.4,614.7 453.2,614.9 454.0,614.9 454.7,614.6 455.4,614.2 456.1,613.6 456.8,612.8 457.4,612.0 458.0,611.1 458.5,610.1 459.0,609.1 459.4,608.0 459.8,607.0 460.2,606.1 460.5,605.1 460.8,604.1 461.1,603.2 461.4,602.2 461.7,601.3 462.0,600.3 462.2,599.4 462.5,598.4 462.8,597.5 463.1,596.5 463.4,595.6 463.7,594.6 464.0,593.7 464.3,592.7 464.6,591.8 464.9,590.8 465.2,589.9 465.5,588.9 465.8,588.0 466.1,587.0 466.4,586.1 466.7,585.1 467.0,584.2 467.3,583.2 467.7,582.3 468.0,581.3 468.3,580.4 468.6,579.4 468.9,578.5 469.2,577.6 469.5,576.6 469.8,575.7 470.2,574.7 470.5,573.8 470.8,572.8 471.1,571.9 471.4,570.9 471.7,570.0 472.1,569.0 472.4,568.1 472.7,567.1 473.0,566.2 473.4,565.2 473.7,564.3 474.0,563.3 474.4,562.4 474.7,561.5 475.0,560.5 475.4,559.6 475.7,558.6 476.1,557.7 476.4,556.7 476.8,555.8 477.1,554.9 477.5,553.9 477.8,553.0 478.2,552.0 478.5,551.1 478.9,550.2 479.2,549.2 479.6,548.3 480.0,547.4 480.4,546.4 480.7,545.5 481.1,544.6 481.5,543.7 481.9,542.7 482.3,541.8 482.6,540.9 483.0,540.0 483.4,539.0 483.8,538.1 484.2,537.2 484.6,536.3 485.1,535.4 485.5,534.5 485.9,533.6 486.3,532.6 486.7,531.7 487.2,530.8 487.6,529.9 488.0,529.0 488.5,528.1 488.9,527.2 489.4,526.3 489.8,525.5 490.3,524.6 490.7,523.7 491.2,522.8 491.7,521.9 492.1,521.0 492.6,520.2 493.1,519.3 493.6,518.4 494.1,517.5 494.6,516.7 495.1,515.8 495.6,514.9 496.1,514.1 496.6,513.2 497.2,512.4 497.7,511.5 498.2,510.7 498.8,509.8 499.3,509.0 499.9,508.2 500.4,507.3 501.0,506.5 501.5,505.7 502.1,504.8 502.7,504.0 503.3,503.2 503.8,502.4 504.4,501.6 505.0,500.8 505.6,500.0 506.2,499.2 506.8,498.4 507.5,497.6 508.1,496.8 508.7,496.0 509.3,495.2 510.0,494.4 510.6,493.7 511.2,492.9 511.9,492.1 512.5,491.4 513.2,490.6 513.9,489.9 514.5,489.1 515.2,488.4 515.9,487.6 516.6,486.9 517.2,486.2 517.9,485.4 518.6,484.7 519.3,484.0 520.0,483.3 520.7,482.6 521.4,481.9 522.1,481.2 522.9,480.5 523.6,479.8 524.3,479.1 525.0,478.4 525.8,477.7 526.5,477.1 527.3,476.4 528.0,475.8 528.8,475.1 529.5,474.5 530.3,473.8 531.1,473.2 531.8,472.5 532.6,471.9 533.4,471.3 534.2,470.7 534.9,470.1 535.7,469.5 536.5,468.9 537.3,468.3 538.1,467.7 538.9,467.1 539.7,466.5 540.5,465.9 541.4,465.4 542.2,464.8 543.0,464.2 543.8,463.7 544.7,463.2 545.5,462.6 546.3,462.1 547.2,461.5 548.0,461.0 548.9,460.5 549.7,460.0 550.6,459.5 551.4,459.0 552.3,458.5 553.1,458.0 554.0,457.5 554.9,457.0 555.8,456.5 556.6,456.1 557.5,455.6 558.4,455.1 559.3,454.7 560.2,454.2 561.1,453.8 561.9,453.3 562.8,452.9 563.7,452.4 564.6,452.0 565.5,451.6 566.5,451.2 567.4,450.8 568.3,450.3 569.2,449.9 570.1,449.5 571.0,449.1 571.9,448.7 572.9,448.4 573.8,448.0 574.7,447.6 575.6,447.2 576.6,446.9 577.5,446.5 578.5,446.1 579.4,445.8 580.3,445.4 581.3,445.1 582.2,444.7 583.2,444.4 584.1,444.1 585.1,443.7 586.0,443.4 587.0,443.1 587.9,442.8 588.9,442.4 589.8,442.1 590.8,441.8 591.8,441.5 592.7,441.2 593.7,440.9 594.7,440.7 595.6,440.4 596.6,440.1 597.6,439.8 598.5,439.5 599.5,439.3 600.5,439.0 601.5,438.7 602.4,438.5 603.4,438.2 604.4,438.0 605.4,437.7 606.3,437.5 607.3,437.3 608.3,437.0 609.3,436.8 610.3,436.6 611.3,436.3 612.2,436.1 613.2,435.9 614.2,435.7 615.2,435.5 616.2,435.3 617.2,435.1 618.2,434.9 619.2,434.7 620.2,434.5 621.1,434.3 622.1,434.1 623.1,433.9 624.1,433.8 625.1,433.6 626.1,433.4 627.1,433.3 628.1,433.1 629.1,432.9 630.1,432.8 631.1,432.6 632.1,432.5 633.1,432.3 634.0,432.2 635.0,432.0 636.0,431.9 637.0,431.8 638.0,431.6 639.0,431.5 640.0,431.4 641.0,431.2 642.0,431.1 643.0,431.0 644.0,430.9 645.0,430.8 645.9,430.7 646.9,430.6 647.9,430.5 648.9,430.4 649.9,430.3 650.9,430.2 651.9,430.1 652.8,430.0 653.8,429.9 654.8,429.8 655.8,429.7 656.8,429.6 657.8,429.6 658.7,429.5 659.7,429.4 660.7,429.3 661.7,429.3 662.6,429.2 663.6,429.2 664.6,429.1 665.5,429.0 666.5,429.0 667.5,428.9 668.4,428.9 669.4,428.8" stroke="#b3b3b3" stroke-width="2.40"/>
<path d="M67.4,423.5L68.3,423.9 69.3,424.3 70.2,424.7 71.1,425.1 72.1,425.4 73.0,425.7 74.0,425.9 75.0,426.2 75.9,426.4 76.9,426.6 77.9,426.8 78.9,426.9 79.9,427.0 80.8,427.2 81.8,427.3 82.8,427.3 83.8,427.4 84.8,427.5 85.8,427.5 86.9,427.5 87.9,427.5 88.9,427.5 89.9,427.5 90.9,427.5 91.9,427.5 92.9,427.5 94.0,427.5 95.0,427.5 96.0,427.4 97.0,427.4 98.0,427.4 99.0,427.3 100.1,427.3 101.1,427.3 102.1,427.3 103.1,427.3 104.1,427.3 105.1,427.3 106.1,427.3 107.1,427.3 108.1,427.3 109.1,427.4 110.1,427.5 111.1,427.5 112.1,427.6 113.1,427.7 114.0,427.9 115.0,428.0 116.0,428.2 116.9,428.4 117.9,428.6 118.8,428.8 119.8,429.1 120.7,429.3 121.7,429.7 122.6,430.0 123.5,430.3 124.4,430.7 125.3,431.1 126.2,431.5 127.1,432.0 128.0,432.4 128.9,432.9 129.8,433.3 130.7,433.8 131.6,434.3 132.5,434.8 133.4,435.3 134.3,435.8 135.1,436.3 136.0,436.9 136.9,437.4 137.8,437.9 138.7,438.4 139.5,438.9 140.4,439.4 141.3,439.9 142.2,440.4 143.1,440.9 144.0,441.4 144.9,441.8 145.8,442.3 146.7,442.7 147.6,443.1 148.5,443.5 149.4,443.9 150.3,444.2 151.2,444.6 152.1,444.9 153.0,445.3 153.9,445.6 154.8,445.9 155.8,446.3 156.7,446.6 157.6,446.9 158.5,447.2 159.5,447.6 160.4,447.9 161.3,448.2 162.2,448.6 163.1,448.9 164.1,449.3 165.0,449.7 165.9,450.1 166.8,450.5 167.7,450.9 168.7,451.3 169.6,451.8 170.5,452.3 171.4,452.8 172.3,453.3 173.2,453.8 174.0,454.4 174.9,454.9 175.7,455.5 176.6,456.1 177.4,456.8 178.2,457.4 178.9,458.1 179.7,458.8 180.4,459.5 181.1,460.2 181.8,460.9 182.4,461.7 183.0,462.5 183.6,463.3 184.1,464.1 184.6,464.9 185.0,465.8 185.5,466.7 185.8,467.5 186.2,468.4 186.5,469.4 186.8,470.3 187.1,471.2 187.3,472.2 187.6,473.1 187.8,474.1 188.1,475.1 188.3,476.0 188.5,477.0 188.8,478.0 189.0,478.9 189.3,479.9 189.6,480.9 189.9,481.8 190.2,482.8 190.5,483.7 190.8,484.7 191.1,485.6 191.4,486.6 191.7,487.6 192.0,488.5 192.3,489.5 192.6,490.4 192.9,491.4 193.2,492.4 193.4,493.3 193.7,494.3 194.0,495.2 194.3,496.2 194.5,497.2 194.8,498.1 195.0,499.1 195.3,500.1 195.5,501.0 195.8,502.0 196.0,503.0 196.3,504.0 196.5,504.9 196.7,505.9 197.0,506.9 197.2,507.8 197.4,508.8 197.6,509.8 197.8,510.8 198.0,511.7 198.2,512.7 198.5,513.7 198.7,514.7 198.8,515.6 199.0,516.6 199.2,517.6 199.4,518.6 199.6,519.6 199.8,520.5 200.0,521.5 200.1,522.5 200.3,523.5 200.5,524.5 200.7,525.5 200.8,526.4 201.0,527.4 201.2,528.4 201.3,529.4 201.5,530.4 201.6,531.4 201.8,532.3 201.9,533.3 202.1,534.3 202.2,535.3 202.4,536.3 202.5,537.3 202.7,538.3 202.8,539.3 202.9,540.3 203.1,541.3 203.2,542.2 203.4,543.2 203.5,544.2 203.6,545.2 203.7,546.2 203.9,547.2 204.0,548.2 204.1,549.2 204.2,550.2 204.4,551.2 204.5,552.2 204.6,553.2 204.7,554.2 204.8,555.2 205.0,556.2 205.1,557.2 205.2,558.2 205.3,559.2 205.4,560.2 205.5,561.2 205.6,562.2 205.8,563.2 205.9,564.2 206.0,565.2 206.1,566.2 206.2,567.2 206.3,568.2 206.4,569.2 206.5,570.2 206.6,571.2 206.7,572.2 206.9,573.2 207.0,574.2 207.1,575.2 207.2,576.2 207.3,577.2 207.4,578.2 207.5,579.2 207.6,580.2 207.7,581.2 207.8,582.2 208.0,583.2 208.1,584.2 208.2,585.2 208.3,586.1 208.4,587.1 208.5,588.1 208.6,589.1 208.8,590.1 208.9,591.1 209.0,592.1 209.1,593.1 209.2,594.1 209.4,595.1 209.5,596.1 209.6,597.1 209.7,598.1 209.9,599.0 210.0,600.0 210.1,601.0 210.2,602.0 210.4,603.0 210.5,604.0 210.6,604.9 210.8,605.9 210.9,606.9 211.1,607.9 211.2,608.8 211.3,609.8 211.5,610.8 211.6,611.7 211.8,612.7 211.9,613.7 212.1,614.6 212.3,615.6 212.4,616.6 212.6,617.5 212.7,618.5 212.9,619.5 213.1,620.5 213.3,621.5 213.4,622.5 213.6,623.5 213.8,624.5 214.0,625.5 214.2,626.6 214.4,627.6 214.6,628.7 214.8,629.8 215.0,630.9 215.2,632.0 215.4,633.1 215.6,634.2 215.8,635.3 216.0,636.1 216.3,636.8 216.5,637.1 216.8,637.1 217.0,636.7 217.3,636.1 217.5,635.2 217.8,634.2 218.1,633.2 218.3,632.2 218.5,631.1 218.7,630.1 218.9,629.0 219.1,628.0 219.3,627.0 219.5,626.0 219.6,624.9 219.8,623.9 219.9,622.9 220.0,621.9 220.2,620.9 220.3,619.9 220.4,618.9 220.5,617.9 220.6,616.9 220.7,615.9 220.8,614.9 220.9,613.9 221.0,612.9 221.1,611.9 221.2,610.9 221.3,609.9 221.3,608.9 221.4,607.9 221.5,606.9 221.6,605.9 221.7,604.9 221.8,603.9 221.9,602.9 222.0,602.0 222.1,601.0 222.2,600.0 222.3,599.0 222.4,598.0 222.5,597.0 222.6,596.0 222.7,595.0 222.8,594.0 222.9,593.0 223.0,592.0 223.1,591.0 223.2,590.0 223.3,589.0 223.4,588.0 223.5,587.0 223.6,586.0 223.7,585.0 223.8,584.0 223.9,583.1 224.0,582.1 224.1,581.1 224.3,580.1 224.4,579.1 224.5,578.1 224.6,577.1 224.7,576.1 224.8,575.1 224.9,574.1 225.0,573.1 225.1,572.1 225.2,571.1 225.3,570.1 225.4,569.1 225.5,568.1 225.6,567.1 225.7,566.1 225.8,565.1 226.0,564.1 226.1,563.1 226.2,562.1 226.3,561.2 226.4,560.2 226.5,559.2 226.6,558.2 226.7,557.2 226.8,556.2 226.9,555.2 227.0,554.2 227.1,553.2 227.3,552.2 227.4,551.2 227.5,550.2 227.6,549.2 227.7,548.2 227.8,547.2 227.9,546.2 228.0,545.2 228.1,544.2 228.3,543.2 228.4,542.2 228.5,541.2 228.6,540.3 228.7,539.3 228.8,538.3 229.0,537.3 229.1,536.3 229.2,535.3 229.3,534.3 229.4,533.3 229.5,532.3 229.7,531.3 229.8,530.3 229.9,529.3 230.0,528.3 230.2,527.3 230.3,526.3 230.4,525.3 230.5,524.3 230.7,523.4 230.8,522.4 230.9,521.4 231.0,520.4 231.2,519.4 231.3,518.4 231.4,517.4 231.6,516.4 231.7,515.4 231.8,514.4 232.0,513.4 232.1,512.4 232.2,511.4 232.4,510.5 232.5,509.5 232.7,508.5 232.8,507.5 232.9,506.5 233.1,505.5 233.2,504.5 233.4,503.5 233.5,502.5 233.7,501.5 233.8,500.5 234.0,499.6 234.1,498.6 234.3,497.6 234.4,496.6 234.6,495.6 234.7,494.6 234.9,493.6 235.1,492.6 235.2,491.6 235.4,490.7 235.5,489.7 235.7,488.7 235.9,487.7 236.0,486.7 236.2,485.7 236.4,484.7 236.5,483.7 236.7,482.8 236.9,481.8 237.1,480.8 237.2,479.8 237.4,478.8 237.6,477.8 237.8,476.8 238.0,475.9 238.2,474.9 238.4,473.9 238.6,472.9 238.8,471.9 239.0,471.0 239.2,470.0 239.4,469.0 239.6,468.0 239.9,467.1 240.1,466.1 240.3,465.1 240.6,464.2 240.9,463.2 241.1,462.2 241.4,461.3 241.7,460.3 241.9,459.4 242.2,458.4 242.5,457.5 242.8,456.5 243.2,455.6 243.5,454.6 243.8,453.7 244.2,452.7 244.5,451.8 244.9,450.9 245.3,450.0 245.7,449.0 246.1,448.1 246.5,447.2 246.9,446.3 247.4,445.4 247.8,444.5 248.3,443.6 248.7,442.7 249.2,441.8 249.7,440.9 250.2,440.0 250.8,439.2 251.3,438.3 251.9,437.4 252.4,436.6 253.0,435.7 253.6,434.9 254.3,434.0 254.9,433.2 255.5,432.4 256.2,431.7 256.9,430.9 257.6,430.2 258.3,429.5 259.0,428.8 259.7,428.1 260.5,427.5 261.2,426.9 262.0,426.3 262.8,425.8 263.6,425.2 264.5,424.8 265.3,424.3 266.2,423.9 267.1,423.6 268.0,423.3 268.9,423.0 269.8,422.8 270.7,422.6 271.7,422.4 272.7,422.3 273.6,422.2 274.6,422.2 275.6,422.2 276.6,422.2 277.7,422.3 278.7,422.4 279.7,422.5 280.7,422.7 281.8,422.8 282.8,423.0 283.8,423.2 284.8,423.5 285.9,423.7 286.9,424.0 287.9,424.3 288.9,424.6 289.9,424.9 290.9,425.3 291.9,425.6 292.8,425.9 293.8,426.3 294.7,426.7 295.7,427.0 296.6,427.4 297.5,427.8 298.4,428.1 299.3,428.5 300.2,428.9 301.1,429.3 302.0,429.7 302.9,430.1 303.8,430.4 304.7,430.8 305.6,431.2 306.5,431.6 307.4,431.9 308.2,432.3 309.1,432.7 310.1,433.0 311.0,433.4 311.9,433.7 312.8,434.0 313.7,434.3 314.7,434.6 315.6,434.9 316.6,435.2 317.6,435.5 318.5,435.8 319.5,436.0 320.5,436.3 321.5,436.6 322.5,436.8 323.5,437.1 324.5,437.4 325.5,437.6 326.4,437.9 327.4,438.2 328.4,438.5 329.4,438.8 330.3,439.1 331.3,439.5 332.2,439.8 333.2,440.2 334.1,440.5 335.0,440.9 336.0,441.3 336.9,441.7 337.8,442.1 338.7,442.5 339.6,442.9 340.5,443.4 341.4,443.8 342.3,444.3 343.2,444.7 344.0,445.2 344.9,445.7 345.8,446.2 346.6,446.6 347.5,447.2 348.3,447.7 349.2,448.2 350.0,448.7 350.8,449.2 351.7,449.8 352.5,450.3 353.3,450.9 354.1,451.5 354.9,452.0 355.7,452.6 356.5,453.2 357.3,453.8 358.1,454.4 358.9,455.0 359.7,455.6 360.5,456.2 361.2,456.9 362.0,457.5 362.8,458.1 363.5,458.8 364.3,459.4 365.0,460.1 365.8,460.8 366.5,461.4 367.3,462.1 368.0,462.8 368.7,463.5 369.5,464.2 370.2,464.9 370.9,465.6 371.6,466.3 372.3,467.0 373.0,467.7 373.7,468.4 374.4,469.1 375.1,469.9 375.8,470.6 376.5,471.3 377.2,472.1 377.9,472.8 378.5,473.6 379.2,474.3 379.9,475.1 380.6,475.8 381.2,476.6 381.9,477.4 382.5,478.1 383.2,478.9 383.8,479.7 384.5,480.4 385.1,481.2 385.8,482.0 386.4,482.8 387.0,483.6 387.7,484.4 388.3,485.2 388.9,485.9 389.5,486.7 390.2,487.5 390.8,488.3 391.4,489.1 392.0,489.9 392.6,490.7 393.2,491.5 393.8,492.3 394.4,493.1 395.0,494.0 395.6,494.8 396.2,495.6 396.8,496.4 397.4,497.2 398.0,498.0 398.6,498.8 399.2,499.6 399.7,500.5 400.3,501.3 400.9,502.1 401.4,502.9 402.0,503.8 402.6,504.6 403.1,505.4 403.7,506.2 404.2,507.1 404.8,507.9 405.3,508.7 405.9,509.6 406.4,510.4 407.0,511.3 407.5,512.1 408.0,512.9 408.6,513.8 409.1,514.6 409.6,515.5 410.1,516.3 410.6,517.2 411.2,518.0 411.7,518.9 412.2,519.8 412.7,520.6 413.2,521.5 413.7,522.3 414.2,523.2 414.7,524.1 415.2,524.9 415.7,525.8 416.1,526.7 416.6,527.5 417.1,528.4 417.6,529.3 418.0,530.2 418.5,531.0 419.0,531.9 419.4,532.8 419.9,533.7 420.3,534.6 420.8,535.4 421.2,536.3 421.7,537.2 422.1,538.1 422.6,539.0 423.0,539.9 423.4,540.8 423.9,541.7 424.3,542.6 424.7,543.5 425.1,544.4 425.5,545.3 425.9,546.2 426.4,547.1 426.8,548.0 427.2,548.9 427.6,549.9 428.0,550.8 428.3,551.7 428.7,552.6 429.1,553.5 429.5,554.5 429.9,555.4 430.2,556.3 430.6,557.2 431.0,558.2 431.3,559.1 431.7,560.0 432.1,561.0 432.4,561.9 432.8,562.8 433.2,563.8 433.5,564.7 433.9,565.6 434.2,566.6 434.6,567.5 435.0,568.4 435.4,569.4 435.7,570.3 436.1,571.3 436.5,572.2 436.9,573.1 437.3,574.1 437.7,575.0 438.1,575.9 438.5,576.9 438.9,577.8 439.4,578.7 439.8,579.6 440.2,580.6 440.7,581.5 441.2,582.4 441.6,583.3 442.1,584.2 442.6,585.1 443.1,586.1 443.7,587.0 444.2,587.9 444.8,588.8 445.3,589.6 445.9,590.4 446.5,591.2 447.1,591.9 447.8,592.5 448.5,593.0 449.2,593.4 450.0,593.6 450.8,593.6 451.6,593.5 452.5,593.2 453.3,592.8 454.2,592.2 455.1,591.5 455.9,590.8 456.6,589.9 457.3,589.1 457.9,588.2 458.5,587.3 458.9,586.4 459.4,585.5 459.8,584.6 460.2,583.6 460.5,582.7 460.9,581.8 461.3,580.9 461.7,580.0 462.1,579.1 462.5,578.2 462.9,577.2 463.3,576.3 463.7,575.4 464.1,574.5 464.5,573.6 464.9,572.7 465.3,571.8 465.7,570.9 466.2,570.0 466.6,569.2 467.0,568.3 467.5,567.4 467.9,566.5 468.3,565.6 468.8,564.7 469.2,563.8 469.7,562.9 470.1,562.0 470.6,561.2 471.0,560.3 471.5,559.4 471.9,558.5 472.4,557.6 472.8,556.7 473.3,555.8 473.7,555.0 474.2,554.1 474.6,553.2 475.1,552.3 475.6,551.4 476.0,550.5 476.5,549.6 476.9,548.7 477.4,547.8 477.9,547.0 478.3,546.1 478.8,545.2 479.3,544.3 479.7,543.4 480.2,542.5 480.7,541.6 481.1,540.7 481.6,539.8 482.1,538.9 482.6,538.1 483.0,537.2 483.5,536.3 484.0,535.4 484.5,534.5 485.0,533.6 485.5,532.8 486.0,531.9 486.5,531.0 487.0,530.1 487.4,529.2 488.0,528.4 488.5,527.5 489.0,526.6 489.5,525.8 490.0,524.9 490.5,524.0 491.0,523.2 491.5,522.3 492.1,521.4 492.6,520.6 493.1,519.7 493.7,518.9 494.2,518.0 494.7,517.2 495.3,516.4 495.8,515.5 496.4,514.7 496.9,513.8 497.5,513.0 498.1,512.2 498.6,511.4 499.2,510.6 499.8,509.7 500.4,508.9 500.9,508.1 501.5,507.3 502.1,506.5 502.7,505.7 503.3,504.9 503.9,504.1 504.5,503.4 505.2,502.6 505.8,501.8 506.4,501.0 507.0,500.3 507.7,499.5 508.3,498.7 509.0,498.0 509.6,497.2 510.3,496.5 510.9,495.8 511.6,495.0 512.3,494.3 513.0,493.6 513.7,492.9 514.3,492.2 515.0,491.5 515.8,490.8 516.5,490.1 517.2,489.4 517.9,488.7 518.6,488.0 519.4,487.3 520.1,486.7 520.9,486.0 521.6,485.4 522.4,484.7 523.1,484.1 523.9,483.5 524.7,482.8 525.4,482.2 526.2,481.6 527.0,481.0 527.8,480.4 528.6,479.8 529.4,479.2 530.2,478.6 531.0,478.0 531.9,477.4 532.7,476.8 533.5,476.3 534.3,475.7 535.2,475.1 536.0,474.6 536.9,474.0 537.7,473.5 538.5,473.0 539.4,472.4 540.3,471.9 541.1,471.4 542.0,470.8 542.8,470.3 543.7,469.8 544.6,469.3 545.5,468.8 546.3,468.3 547.2,467.8 548.1,467.3 549.0,466.9 549.9,466.4 550.7,465.9 551.6,465.4 552.5,465.0 553.4,464.5 554.3,464.1 555.2,463.6 556.1,463.2 557.0,462.7 557.9,462.3 558.8,461.8 559.7,461.4 560.6,461.0 561.5,460.6 562.4,460.1 563.4,459.7 564.3,459.3 565.2,458.9 566.1,458.5 567.0,458.1 567.9,457.7 568.9,457.3 569.8,456.9 570.7,456.6 571.6,456.2 572.6,455.8 573.5,455.4 574.4,455.1 575.3,454.7 576.3,454.3 577.2,454.0 578.1,453.6 579.1,453.3 580.0,452.9 580.9,452.6 581.9,452.3 582.8,451.9 583.8,451.6 584.7,451.3 585.7,450.9 586.6,450.6 587.6,450.3 588.5,450.0 589.4,449.7 590.4,449.4 591.4,449.1 592.3,448.7 593.3,448.5 594.2,448.2 595.2,447.9 596.1,447.6 597.1,447.3 598.0,447.0 599.0,446.7 600.0,446.4 600.9,446.2 601.9,445.9 602.8,445.6 603.8,445.4 604.8,445.1 605.7,444.9 606.7,444.6 607.7,444.3 608.6,444.1 609.6,443.8 610.6,443.6 611.6,443.4 612.5,443.1 613.5,442.9 614.5,442.6 615.4,442.4 616.4,442.2 617.4,442.0 618.4,441.7 619.3,441.5 620.3,441.3 621.3,441.1 622.3,440.9 623.3,440.7 624.2,440.5 625.2,440.2 626.2,440.0 627.2,439.8 628.2,439.6 629.1,439.4 630.1,439.3 631.1,439.1 632.1,438.9 633.1,438.7 634.1,438.5 635.0,438.3 636.0,438.1 637.0,438.0 638.0,437.8 639.0,437.6 640.0,437.4 641.0,437.3 642.0,437.1 642.9,436.9 643.9,436.8 644.9,436.6 645.9,436.4 646.9,436.3 647.9,436.1 648.9,436.0 649.9,435.8 650.8,435.6 651.8,435.5 652.8,435.3 653.8,435.2 654.8,435.0 655.8,434.9 656.8,434.8 657.8,434.6 658.8,434.5 659.7,434.3 660.7,434.2 661.7,434.1 662.7,433.9 663.7,433.8 664.7,433.7 665.7,433.5 666.7,433.4 667.7,433.3 668.7,433.2 669.6,433.0" stroke="#b3b3b3" stroke-width="2.40" stroke-dasharray="10.5 4.5 2.4 3.6"/>
<path d="M67.3,424.4L68.3,424.8 69.2,425.2 70.2,425.5 71.2,425.8 72.2,426.1 73.1,426.4 74.1,426.7 75.1,426.9 76.1,427.1 77.1,427.3 78.0,427.4 79.0,427.6 80.0,427.7 81.0,427.8 82.0,427.9 83.0,428.0 84.0,428.1 85.0,428.1 86.0,428.2 87.0,428.2 88.0,428.3 89.0,428.3 90.0,428.3 91.0,428.3 92.0,428.3 93.0,428.3 94.0,428.3 94.9,428.3 95.9,428.3 96.9,428.2 97.9,428.2 98.9,428.2 99.9,428.2 100.9,428.2 101.9,428.2 102.9,428.2 103.9,428.2 104.9,428.2 105.9,428.2 106.9,428.3 107.9,428.3 108.9,428.3 109.9,428.4 110.9,428.5 111.9,428.6 112.9,428.7 113.9,428.8 114.9,428.9 115.9,429.1 116.9,429.3 117.8,429.5 118.8,429.7 119.8,429.9 120.8,430.2 121.8,430.4 122.7,430.8 123.7,431.1 124.7,431.4 125.6,431.8 126.6,432.2 127.5,432.6 128.4,433.0 129.3,433.5 130.2,433.9 131.1,434.4 131.9,434.9 132.8,435.4 133.6,435.9 134.4,436.5 135.2,437.0 136.0,437.5 136.8,438.1 137.7,438.6 138.5,439.2 139.3,439.7 140.1,440.2 140.9,440.8 141.8,441.3 142.6,441.8 143.4,442.3 144.3,442.7 145.2,443.2 146.1,443.6 147.0,444.1 147.9,444.5 148.9,444.8 149.8,445.2 150.8,445.6 151.8,445.9 152.8,446.2 153.8,446.6 154.8,446.9 155.8,447.2 156.8,447.5 157.8,447.8 158.8,448.1 159.8,448.4 160.8,448.7 161.8,449.1 162.8,449.4 163.7,449.7 164.7,450.1 165.7,450.5 166.6,450.8 167.5,451.2 168.4,451.7 169.3,452.1 170.2,452.6 171.1,453.0 171.9,453.6 172.7,454.1 173.5,454.6 174.3,455.2 175.0,455.8 175.8,456.4 176.5,457.0 177.2,457.7 177.9,458.3 178.6,459.0 179.3,459.7 179.9,460.4 180.5,461.2 181.2,461.9 181.8,462.7 182.3,463.4 182.9,464.2 183.5,465.0 184.0,465.8 184.6,466.7 185.1,467.5 185.6,468.3 186.1,469.2 186.6,470.1 187.0,471.0 187.5,471.8 188.0,472.7 188.4,473.6 188.8,474.6 189.2,475.5 189.7,476.4 190.1,477.3 190.5,478.3 190.8,479.2 191.2,480.2 191.6,481.1 191.9,482.1 192.3,483.0 192.6,484.0 193.0,485.0 193.3,485.9 193.6,486.9 194.0,487.9 194.3,488.8 194.6,489.8 194.9,490.8 195.2,491.7 195.5,492.7 195.8,493.7 196.1,494.6 196.3,495.6 196.6,496.6 196.9,497.6 197.1,498.5 197.4,499.5 197.7,500.5 197.9,501.5 198.1,502.4 198.4,503.4 198.6,504.4 198.9,505.4 199.1,506.3 199.3,507.3 199.5,508.3 199.7,509.3 199.9,510.3 200.2,511.2 200.4,512.2 200.6,513.2 200.8,514.2 200.9,515.2 201.1,516.1 201.3,517.1 201.5,518.1 201.7,519.1 201.9,520.1 202.0,521.0 202.2,522.0 202.4,523.0 202.5,524.0 202.7,525.0 202.9,526.0 203.0,526.9 203.2,527.9 203.3,528.9 203.5,529.9 203.6,530.9 203.8,531.9 203.9,532.9 204.1,533.8 204.2,534.8 204.3,535.8 204.5,536.8 204.6,537.8 204.7,538.8 204.9,539.8 205.0,540.8 205.1,541.7 205.2,542.7 205.4,543.7 205.5,544.7 205.6,545.7 205.7,546.7 205.9,547.7 206.0,548.7 206.1,549.7 206.2,550.6 206.3,551.6 206.5,552.6 206.6,553.6 206.7,554.6 206.8,555.6 206.9,556.6 207.0,557.6 207.2,558.6 207.3,559.5 207.4,560.5 207.5,561.5 207.6,562.5 207.7,563.5 207.9,564.5 208.0,565.5 208.1,566.5 208.2,567.5 208.3,568.5 208.5,569.4 208.6,570.4 208.7,571.4 208.8,572.4 208.9,573.4 209.1,574.4 209.2,575.4 209.3,576.4 209.4,577.4 209.6,578.4 209.7,579.3 209.8,580.3 209.9,581.3 210.1,582.3 210.2,583.3 210.3,584.3 210.4,585.3 210.6,586.3 210.7,587.3 210.8,588.3 210.9,589.3 211.1,590.3 211.2,591.3 211.3,592.3 211.4,593.3 211.6,594.3 211.7,595.3 211.8,596.3 211.9,597.3 212.1,598.3 212.2,599.3 212.3,600.3 212.4,601.4 212.5,602.4 212.7,603.4 212.8,604.4 212.9,605.4 213.0,606.4 213.1,607.4 213.3,608.5 213.4,609.5 213.5,610.5 213.6,611.5 213.7,612.5 213.8,613.6 214.0,614.6 214.1,615.6 214.2,616.7 214.3,617.7 214.4,618.7 214.6,619.7 214.7,620.7 214.8,621.8 215.0,622.8 215.1,623.8 215.3,624.8 215.4,625.8 215.6,626.8 215.8,627.8 216.0,628.7 216.2,629.7 216.4,630.6 216.7,631.4 216.9,632.0 217.1,632.4 217.3,632.5 217.5,632.2 217.8,631.7 218.0,631.0 218.1,630.1 218.3,629.0 218.5,627.9 218.7,626.6 218.9,625.4 219.0,624.2 219.2,623.0 219.3,621.8 219.4,620.7 219.6,619.6 219.7,618.5 219.8,617.5 219.9,616.5 220.1,615.5 220.2,614.5 220.3,613.5 220.4,612.5 220.5,611.6 220.6,610.6 220.7,609.7 220.8,608.7 220.9,607.8 221.0,606.8 221.1,605.9 221.2,604.9 221.3,604.0 221.5,603.0 221.6,602.1 221.7,601.1 221.8,600.1 221.9,599.1 222.0,598.2 222.1,597.2 222.2,596.2 222.4,595.2 222.5,594.2 222.6,593.2 222.7,592.2 222.8,591.2 223.0,590.2 223.1,589.2 223.2,588.2 223.3,587.2 223.4,586.2 223.5,585.2 223.7,584.2 223.8,583.2 223.9,582.2 224.0,581.2 224.1,580.2 224.2,579.2 224.3,578.2 224.4,577.2 224.5,576.2 224.7,575.2 224.8,574.2 224.9,573.2 225.0,572.2 225.1,571.2 225.2,570.2 225.3,569.2 225.4,568.2 225.5,567.2 225.6,566.2 225.7,565.2 225.8,564.2 225.9,563.2 226.0,562.2 226.1,561.2 226.2,560.2 226.3,559.2 226.4,558.2 226.5,557.2 226.6,556.2 226.7,555.2 226.8,554.2 226.9,553.2 227.0,552.2 227.1,551.2 227.2,550.2 227.4,549.2 227.5,548.2 227.6,547.2 227.7,546.2 227.8,545.2 227.9,544.2 228.0,543.2 228.1,542.2 228.2,541.2 228.3,540.2 228.4,539.2 228.5,538.2 228.6,537.3 228.7,536.3 228.8,535.3 228.9,534.3 229.1,533.3 229.2,532.3 229.3,531.3 229.4,530.3 229.5,529.3 229.6,528.3 229.7,527.3 229.9,526.3 230.0,525.3 230.1,524.3 230.2,523.3 230.3,522.4 230.5,521.4 230.6,520.4 230.7,519.4 230.8,518.4 231.0,517.4 231.1,516.4 231.2,515.4 231.3,514.4 231.5,513.4 231.6,512.4 231.8,511.5 231.9,510.5 232.0,509.5 232.2,508.5 232.3,507.5 232.5,506.5 232.6,505.5 232.7,504.5 232.9,503.5 233.0,502.6 233.2,501.6 233.3,500.6 233.5,499.6 233.7,498.6 233.8,497.6 234.0,496.6 234.1,495.6 234.3,494.7 234.5,493.7 234.6,492.7 234.8,491.7 235.0,490.7 235.2,489.7 235.3,488.7 235.5,487.8 235.7,486.8 235.9,485.8 236.1,484.8 236.3,483.8 236.5,482.8 236.6,481.8 236.8,480.9 237.0,479.9 237.2,478.9 237.4,477.9 237.7,476.9 237.9,475.9 238.1,475.0 238.3,474.0 238.5,473.0 238.7,472.0 238.9,471.0 239.2,470.0 239.4,469.1 239.6,468.1 239.9,467.1 240.1,466.1 240.3,465.1 240.6,464.2 240.8,463.2 241.1,462.2 241.4,461.2 241.6,460.3 241.9,459.3 242.2,458.3 242.5,457.4 242.8,456.4 243.1,455.4 243.4,454.5 243.7,453.5 244.0,452.6 244.4,451.7 244.7,450.7 245.1,449.8 245.5,448.9 245.8,447.9 246.2,447.0 246.6,446.1 247.0,445.2 247.5,444.3 247.9,443.4 248.4,442.6 248.8,441.7 249.3,440.8 249.8,440.0 250.3,439.1 250.8,438.3 251.4,437.4 251.9,436.6 252.5,435.8 253.1,435.0 253.7,434.2 254.3,433.4 254.9,432.7 255.6,431.9 256.3,431.1 257.0,430.4 257.7,429.7 258.4,429.0 259.1,428.3 259.9,427.6 260.7,427.0 261.5,426.4 262.3,425.8 263.2,425.2 264.0,424.7 264.9,424.3 265.8,423.8 266.8,423.5 267.7,423.1 268.7,422.9 269.7,422.6 270.7,422.5 271.7,422.3 272.7,422.2 273.8,422.2 274.8,422.2 275.8,422.2 276.8,422.2 277.8,422.3 278.8,422.4 279.8,422.5 280.8,422.7 281.8,422.9 282.7,423.1 283.7,423.3 284.7,423.5 285.6,423.8 286.6,424.1 287.5,424.3 288.5,424.6 289.4,425.0 290.3,425.3 291.2,425.6 292.2,426.0 293.1,426.3 294.0,426.7 295.0,427.1 295.9,427.4 296.8,427.8 297.7,428.2 298.7,428.6 299.6,429.0 300.5,429.3 301.4,429.7 302.4,430.1 303.3,430.4 304.2,430.8 305.2,431.1 306.1,431.5 307.1,431.8 308.0,432.2 309.0,432.5 309.9,432.8 310.9,433.1 311.8,433.4 312.8,433.8 313.8,434.1 314.7,434.4 315.7,434.7 316.7,435.0 317.6,435.3 318.6,435.6 319.5,435.9 320.5,436.2 321.5,436.5 322.4,436.8 323.4,437.1 324.3,437.4 325.3,437.8 326.3,438.1 327.2,438.4 328.2,438.7 329.1,439.1 330.0,439.4 331.0,439.7 331.9,440.1 332.9,440.4 333.8,440.8 334.7,441.2 335.6,441.5 336.5,441.9 337.5,442.3 338.4,442.7 339.3,443.1 340.2,443.6 341.1,444.0 341.9,444.4 342.8,444.9 343.7,445.3 344.6,445.8 345.4,446.3 346.3,446.8 347.2,447.3 348.0,447.8 348.8,448.3 349.7,448.8 350.5,449.3 351.4,449.9 352.2,450.4 353.0,450.9 353.8,451.5 354.6,452.1 355.4,452.6 356.2,453.2 357.0,453.8 357.8,454.4 358.6,455.0 359.4,455.6 360.2,456.2 361.0,456.9 361.7,457.5 362.5,458.1 363.3,458.8 364.0,459.4 364.8,460.1 365.5,460.7 366.3,461.4 367.0,462.1 367.8,462.8 368.5,463.4 369.2,464.1 370.0,464.8 370.7,465.5 371.4,466.2 372.1,466.9 372.8,467.6 373.5,468.4 374.2,469.1 374.9,469.8 375.6,470.6 376.3,471.3 377.0,472.0 377.7,472.8 378.4,473.5 379.0,474.3 379.7,475.0 380.4,475.8 381.0,476.6 381.7,477.3 382.4,478.1 383.0,478.9 383.7,479.7 384.3,480.5 385.0,481.2 385.6,482.0 386.2,482.8 386.9,483.6 387.5,484.4 388.1,485.2 388.7,486.0 389.4,486.8 390.0,487.6 390.6,488.4 391.2,489.2 391.8,490.0 392.4,490.8 393.0,491.7 393.6,492.5 394.2,493.3 394.8,494.1 395.4,494.9 396.0,495.7 396.6,496.6 397.2,497.4 397.8,498.2 398.3,499.0 398.9,499.8 399.5,500.7 400.1,501.5 400.6,502.3 401.2,503.1 401.8,504.0 402.3,504.8 402.9,505.6 403.4,506.4 404.0,507.3 404.5,508.1 405.1,508.9 405.6,509.7 406.2,510.6 406.7,511.4 407.2,512.2 407.8,513.1 408.3,513.9 408.8,514.7 409.3,515.6 409.9,516.4 410.4,517.3 410.9,518.1 411.4,519.0 411.9,519.8 412.4,520.6 412.9,521.5 413.4,522.3 413.9,523.2 414.4,524.1 414.9,524.9 415.4,525.8 415.9,526.6 416.3,527.5 416.8,528.4 417.3,529.2 417.8,530.1 418.2,531.0 418.7,531.9 419.2,532.7 419.6,533.6 420.1,534.5 420.5,535.4 421.0,536.3 421.4,537.2 421.9,538.1 422.3,539.0 422.7,539.9 423.2,540.8 423.6,541.7 424.0,542.6 424.4,543.5 424.9,544.4 425.3,545.4 425.7,546.3 426.1,547.2 426.5,548.1 426.9,549.0 427.3,550.0 427.7,550.9 428.1,551.8 428.5,552.8 428.9,553.7 429.3,554.6 429.6,555.6 430.0,556.5 430.4,557.5 430.8,558.4 431.1,559.4 431.5,560.3 431.9,561.2 432.2,562.2 432.6,563.1 432.9,564.1 433.3,565.0 433.7,566.0 434.0,566.9 434.4,567.9 434.7,568.8 435.1,569.8 435.4,570.7 435.8,571.6 436.2,572.6 436.5,573.5 436.9,574.4 437.3,575.3 437.7,576.2 438.2,577.1 438.6,578.0 439.1,578.9 439.5,579.8 440.0,580.6 440.5,581.5 441.0,582.3 441.6,583.2 442.2,584.0 442.7,584.8 443.4,585.6 444.0,586.3 444.7,587.1 445.4,587.8 446.1,588.4 446.9,589.0 447.6,589.4 448.5,589.7 449.3,589.9 450.2,589.8 451.2,589.6 452.1,589.2 453.1,588.6 454.0,588.0 454.8,587.4 455.6,586.7 456.3,585.9 457.0,585.2 457.6,584.4 458.2,583.5 458.8,582.7 459.3,581.8 459.8,581.0 460.3,580.1 460.8,579.2 461.2,578.3 461.7,577.4 462.2,576.5 462.6,575.6 463.1,574.7 463.6,573.8 464.0,572.9 464.5,572.1 465.0,571.2 465.5,570.3 465.9,569.4 466.4,568.5 466.9,567.7 467.4,566.8 467.9,565.9 468.3,565.1 468.8,564.2 469.3,563.3 469.8,562.4 470.3,561.6 470.7,560.7 471.2,559.8 471.7,559.0 472.2,558.1 472.6,557.2 473.1,556.3 473.6,555.5 474.1,554.6 474.5,553.7 475.0,552.8 475.5,551.9 475.9,551.1 476.4,550.2 476.8,549.3 477.3,548.4 477.7,547.5 478.2,546.6 478.7,545.7 479.1,544.8 479.6,543.9 480.0,543.0 480.5,542.1 480.9,541.2 481.4,540.3 481.8,539.4 482.3,538.5 482.8,537.7 483.2,536.8 483.7,535.9 484.1,535.0 484.6,534.1 485.1,533.2 485.5,532.3 486.0,531.4 486.5,530.5 486.9,529.6 487.4,528.7 487.9,527.8 488.4,527.0 488.8,526.1 489.3,525.2 489.8,524.3 490.3,523.4 490.8,522.6 491.3,521.7 491.8,520.8 492.3,520.0 492.8,519.1 493.3,518.3 493.9,517.4 494.4,516.5 494.9,515.7 495.4,514.9 496.0,514.0 496.5,513.2 497.1,512.3 497.6,511.5 498.2,510.7 498.8,509.9 499.4,509.0 499.9,508.2 500.5,507.4 501.1,506.6 501.7,505.8 502.3,505.0 502.9,504.2 503.6,503.5 504.2,502.7 504.8,501.9 505.5,501.1 506.1,500.4 506.7,499.6 507.4,498.9 508.1,498.1 508.7,497.4 509.4,496.6 510.1,495.9 510.8,495.2 511.5,494.5 512.1,493.7 512.8,493.0 513.6,492.3 514.3,491.6 515.0,490.9 515.7,490.2 516.5,489.6 517.2,488.9 517.9,488.2 518.7,487.6 519.4,486.9 520.2,486.3 521.0,485.6 521.7,485.0 522.5,484.3 523.3,483.7 524.1,483.1 524.9,482.5 525.7,481.9 526.5,481.3 527.3,480.7 528.1,480.0 528.9,479.5 529.7,478.9 530.5,478.3 531.3,477.7 532.1,477.1 533.0,476.5 533.8,475.9 534.6,475.4 535.4,474.8 536.3,474.2 537.1,473.6 537.9,473.1 538.7,472.5 539.6,472.0 540.4,471.4 541.2,470.8 542.1,470.3 542.9,469.8 543.8,469.2 544.6,468.7 545.5,468.1 546.3,467.6 547.2,467.1 548.0,466.6 548.9,466.1 549.7,465.6 550.6,465.1 551.5,464.6 552.4,464.1 553.2,463.6 554.1,463.2 555.0,462.7 555.9,462.2 556.8,461.8 557.7,461.4 558.6,460.9 559.5,460.5 560.4,460.1 561.3,459.7 562.2,459.2 563.1,458.8 564.0,458.4 564.9,458.1 565.8,457.7 566.8,457.3 567.7,456.9 568.6,456.5 569.5,456.2 570.5,455.8 571.4,455.4 572.3,455.1 573.3,454.7 574.2,454.4 575.2,454.1 576.1,453.7 577.0,453.4 578.0,453.1 578.9,452.7 579.9,452.4 580.8,452.1 581.8,451.8 582.7,451.5 583.7,451.2 584.7,450.9 585.6,450.6 586.6,450.3 587.5,450.0 588.5,449.7 589.5,449.4 590.4,449.1 591.4,448.8 592.4,448.6 593.3,448.3 594.3,448.0 595.3,447.7 596.2,447.4 597.2,447.2 598.2,446.9 599.1,446.6 600.1,446.4 601.1,446.1 602.0,445.8 603.0,445.6 604.0,445.3 604.9,445.0 605.9,444.8 606.9,444.5 607.9,444.2 608.8,444.0 609.8,443.7 610.8,443.4 611.7,443.2 612.7,442.9 613.7,442.6 614.6,442.4 615.6,442.1 616.6,441.9 617.5,441.6 618.5,441.4 619.5,441.1 620.4,440.9 621.4,440.6 622.4,440.4 623.3,440.1 624.3,439.9 625.3,439.6 626.2,439.4 627.2,439.1 628.2,438.9 629.1,438.7 630.1,438.4 631.1,438.2 632.1,438.0 633.0,437.8 634.0,437.6 635.0,437.4 635.9,437.1 636.9,436.9 637.9,436.7 638.9,436.5 639.9,436.3 640.8,436.1 641.8,436.0 642.8,435.8 643.8,435.6 644.8,435.4 645.7,435.3 646.7,435.1 647.7,434.9 648.7,434.8 649.7,434.6 650.7,434.5 651.7,434.4 652.7,434.2 653.6,434.1 654.6,434.0 655.6,433.9 656.6,433.7 657.6,433.6 658.6,433.5 659.6,433.4 660.6,433.4 661.6,433.3 662.7,433.2 663.7,433.1 664.7,433.1 665.7,433.0 666.7,433.0 667.7,433.0 668.7,432.9 669.8,432.9" stroke="#000" stroke-width="3.30"/>
</g>
<path d="M67.70,721.80v-6.50M67.70,418.40v6.50M168.03,721.80v-6.50M168.03,418.40v6.50M268.37,721.80v-6.50M268.37,418.40v6.50M368.70,721.80v-6.50M368.70,418.40v6.50M469.03,721.80v-6.50M469.03,418.40v6.50M569.37,721.80v-6.50M569.37,418.40v6.50M669.70,721.80v-6.50M669.70,418.40v6.50M67.70,418.40h6.50M669.70,418.40h-6.50M67.70,479.08h6.50M669.70,479.08h-6.50M67.70,539.76h6.50M669.70,539.76h-6.50M67.70,600.44h6.50M669.70,600.44h-6.50M67.70,661.12h6.50M669.70,661.12h-6.50M67.70,721.80h6.50M669.70,721.80h-6.50" stroke="#262626" stroke-width="1" fill="none"/>
<rect x="67.70" y="418.40" width="602.00" height="303.40" stroke="#262626" stroke-width="1" fill="none"/>
<text x="67.70" y="747.00" font-size="18.5" text-anchor="middle">2</text>
<text x="168.03" y="747.00" font-size="18.5" text-anchor="middle">2.5</text>
<text x="268.37" y="747.00" font-size="18.5" text-anchor="middle">3</text>
<text x="368.70" y="747.00" font-size="18.5" text-anchor="middle">3.5</text>
<text x="469.03" y="747.00" font-size="18.5" text-anchor="middle">4</text>
<text x="569.37" y="747.00" font-size="18.5" text-anchor="middle">4.5</text>
<text x="669.70" y="747.00" font-size="18.5" text-anchor="middle">5</text>
<text x="60.20" y="425.60" font-size="18.5" text-anchor="end">0</text>
<text x="60.20" y="486.28" font-size="18.5" text-anchor="end">-5</text>
<text x="60.20" y="546.96" font-size="18.5" text-anchor="end">-10</text>
<text x="60.20" y="607.64" font-size="18.5" text-anchor="end">-15</text>
<text x="60.20" y="668.32" font-size="18.5" text-anchor="end">-20</text>
<text x="60.20" y="729.00" font-size="18.5" text-anchor="end">-25</text>
<text x="369.40" y="773.00" font-size="21" text-anchor="middle">Frequency [GHz]</text>
<text x="372.80" y="805.20" font-size="23" text-anchor="middle">(b)</text>
<text transform="translate(13.8,570.90) rotate(-90)" font-size="21.4" text-anchor="middle">|<tspan font-style="italic">S</tspan><tspan font-size="14.5" dy="11.2">11</tspan><tspan dy="-11.2">| [dB]</tspan></text>
<rect x="543.70" y="600.60" width="108.90" height="104.90" fill="#fff" stroke="#262626" stroke-width="1"/>
<path d="M549.50,613.40H588.10" stroke="#a0a0a0" stroke-width="2.40" fill="none" stroke-dasharray="1.4 3.7"/>
<text x="592.20" y="619.20" font-size="17">40.000</text>
<path d="M549.50,633.35H588.10" stroke="#b3b3b3" stroke-width="2.40" fill="none" stroke-dasharray="10.5 4.5 2.4 3.6"/>
<text x="592.20" y="639.15" font-size="17">70.000</text>
<path d="M549.50,653.30H588.10" stroke="#b3b3b3" stroke-width="2.40" fill="none"/>
<text x="592.20" y="659.10" font-size="17">100.000</text>
<path d="M549.50,673.25H588.10" stroke="#b3b3b3" stroke-width="2.40" fill="none" stroke-dasharray="10.5 4.5 2.4 3.6"/>
<text x="592.20" y="679.05" font-size="17">120.000</text>
<path d="M549.50,693.20H588.10" stroke="#000" stroke-width="3.30" fill="none"/>
<text x="592.20" y="699.00" font-size="17">150.000</text>
<defs><clipPath id="c2"><rect x="71.30" y="826.50" width="601.70" height="304.20"/></clipPath></defs>
<path d="M271.87,826.50V1130.70M472.43,826.50V1130.70M71.30,887.34H673.00M71.30,948.18H673.00M71.30,1009.02H673.00M71.30,1069.86H673.00" stroke="#e2e2e2" stroke-width="1" fill="none"/>
<g clip-path="url(#c2)" fill="none" stroke-linejoin="round">
<path d="M71.6,853.5L72.6,853.6 73.5,853.6 74.5,853.7 75.5,853.7 76.5,853.8 77.5,853.8 78.5,853.9 79.5,854.0 80.5,854.0 81.5,854.1 82.5,854.2 83.5,854.3 84.5,854.4 85.4,854.5 86.4,854.6 87.4,854.7 88.4,854.8 89.4,854.9 90.4,855.0 91.4,855.1 92.4,855.3 93.4,855.4 94.4,855.5 95.4,855.7 96.3,855.8 97.3,855.9 98.3,856.1 99.3,856.2 100.3,856.4 101.3,856.6 102.3,856.7 103.3,856.9 104.2,857.1 105.2,857.3 106.2,857.4 107.2,857.6 108.2,857.8 109.2,858.0 110.1,858.2 111.1,858.4 112.1,858.6 113.1,858.8 114.1,859.0 115.1,859.2 116.0,859.5 117.0,859.7 118.0,859.9 119.0,860.2 119.9,860.4 120.9,860.6 121.9,860.9 122.9,861.1 123.8,861.4 124.8,861.7 125.8,861.9 126.7,862.2 127.7,862.4 128.7,862.7 129.6,863.0 130.6,863.3 131.6,863.6 132.5,863.9 133.5,864.2 134.5,864.5 135.4,864.8 136.4,865.1 137.3,865.4 138.3,865.7 139.2,866.0 140.2,866.3 141.1,866.7 142.1,867.0 143.0,867.3 144.0,867.7 144.9,868.0 145.9,868.3 146.8,868.7 147.7,869.1 148.7,869.4 149.6,869.8 150.6,870.1 151.5,870.5 152.4,870.9 153.4,871.3 154.3,871.6 155.2,872.0 156.1,872.4 157.1,872.8 158.0,873.2 158.9,873.6 159.8,874.0 160.7,874.4 161.7,874.8 162.6,875.3 163.5,875.7 164.4,876.1 165.3,876.5 166.2,877.0 167.1,877.4 168.0,877.8 168.9,878.3 169.8,878.7 170.7,879.2 171.6,879.7 172.5,880.1 173.4,880.6 174.3,881.0 175.1,881.5 176.0,882.0 176.9,882.5 177.8,883.0 178.7,883.4 179.5,883.9 180.4,884.4 181.3,884.9 182.1,885.4 183.0,885.9 183.9,886.5 184.7,887.0 185.6,887.5 186.4,888.0 187.3,888.5 188.1,889.1 189.0,889.6 189.8,890.1 190.6,890.7 191.5,891.2 192.3,891.8 193.1,892.3 194.0,892.9 194.8,893.5 195.6,894.0 196.4,894.6 197.3,895.2 198.1,895.7 198.9,896.3 199.7,896.9 200.5,897.5 201.3,898.1 202.1,898.7 202.9,899.3 203.7,899.9 204.5,900.5 205.3,901.1 206.1,901.7 206.9,902.3 207.6,903.0 208.4,903.6 209.2,904.2 210.0,904.8 210.7,905.5 211.5,906.1 212.2,906.8 213.0,907.4 213.8,908.1 214.5,908.7 215.3,909.4 216.0,910.1 216.7,910.7 217.5,911.4 218.2,912.1 218.9,912.8 219.7,913.4 220.4,914.1 221.1,914.8 221.8,915.5 222.5,916.2 223.2,916.9 223.9,917.6 224.6,918.3 225.3,919.0 226.0,919.8 226.7,920.5 227.4,921.2 228.1,921.9 228.8,922.7 229.4,923.4 230.1,924.1 230.8,924.9 231.4,925.6 232.1,926.4 232.8,927.1 233.4,927.9 234.1,928.6 234.7,929.4 235.3,930.2 236.0,931.0 236.6,931.7 237.2,932.5 237.9,933.3 238.5,934.1 239.1,934.9 239.7,935.6 240.3,936.4 240.9,937.2 241.5,938.0 242.1,938.8 242.7,939.6 243.3,940.5 243.9,941.3 244.5,942.1 245.1,942.9 245.7,943.7 246.2,944.5 246.8,945.4 247.4,946.2 247.9,947.0 248.5,947.9 249.1,948.7 249.6,949.5 250.2,950.4 250.7,951.2 251.2,952.1 251.8,952.9 252.3,953.8 252.9,954.6 253.4,955.5 253.9,956.3 254.4,957.2 255.0,958.0 255.5,958.9 256.0,959.8 256.5,960.6 257.0,961.5 257.5,962.3 258.0,963.2 258.5,964.1 259.0,965.0 259.5,965.8 260.0,966.7 260.4,967.6 260.9,968.5 261.4,969.4 261.9,970.2 262.3,971.1 262.8,972.0 263.3,972.9 263.7,973.8 264.2,974.7 264.6,975.6 265.1,976.4 265.5,977.3 266.0,978.2 266.4,979.1 266.9,980.0 267.3,980.9 267.7,981.8 268.1,982.7 268.6,983.6 269.0,984.5 269.4,985.4 269.8,986.3 270.2,987.2 270.7,988.2 271.1,989.1 271.5,990.0 271.9,990.9 272.3,991.8 272.7,992.7 273.1,993.6 273.4,994.6 273.8,995.5 274.2,996.4 274.6,997.3 275.0,998.2 275.3,999.2 275.7,1000.1 276.1,1001.0 276.5,1001.9 276.8,1002.9 277.2,1003.8 277.5,1004.7 277.9,1005.7 278.2,1006.6 278.6,1007.5 278.9,1008.5 279.3,1009.4 279.6,1010.3 280.0,1011.3 280.3,1012.2 280.6,1013.2 281.0,1014.1 281.3,1015.1 281.6,1016.0 281.9,1016.9 282.3,1017.9 282.6,1018.8 282.9,1019.8 283.2,1020.7 283.5,1021.7 283.8,1022.7 284.1,1023.6 284.4,1024.6 284.7,1025.5 285.0,1026.5 285.3,1027.4 285.6,1028.4 285.9,1029.4 286.2,1030.3 286.5,1031.3 286.8,1032.3 287.0,1033.2 287.3,1034.2 287.6,1035.2 287.9,1036.1 288.1,1037.1 288.4,1038.1 288.7,1039.0 288.9,1040.0 289.2,1041.0 289.5,1042.0 289.7,1042.9 290.0,1043.9 290.2,1044.9 290.5,1045.9 290.7,1046.8 291.0,1047.8 291.2,1048.8 291.5,1049.8 291.7,1050.8 291.9,1051.7 292.2,1052.7 292.4,1053.7 292.7,1054.7 292.9,1055.7 293.1,1056.6 293.3,1057.6 293.6,1058.6 293.8,1059.6 294.0,1060.6 294.2,1061.5 294.5,1062.5 294.7,1063.5 294.9,1064.5 295.1,1065.5 295.3,1066.4 295.6,1067.4 295.8,1068.4 296.0,1069.4 296.2,1070.4 296.4,1071.3 296.6,1072.3 296.8,1073.3 297.0,1074.3 297.2,1075.2 297.4,1076.2 297.6,1077.2 297.8,1078.2 298.0,1079.1 298.2,1080.1 298.4,1081.1 298.6,1082.0 298.8,1083.0 299.0,1084.0 299.2,1085.0 299.4,1085.9 299.6,1086.9 299.8,1087.9 300.0,1088.8 300.2,1089.8 300.4,1090.7 300.6,1091.7 300.8,1092.7 300.9,1093.6 301.1,1094.6 301.3,1095.5 301.5,1096.5 301.7,1097.4 301.9,1098.4 302.1,1099.4 302.2,1100.3 302.4,1101.3 302.6,1102.2 302.8,1103.2 302.9,1104.2 303.1,1105.1 303.3,1106.1 303.4,1107.1 303.6,1108.1 303.8,1109.0 303.9,1110.0 304.1,1111.0 304.2,1112.0 304.3,1113.0 304.5,1114.0 304.6,1115.0 304.8,1116.0 304.9,1117.1 305.0,1118.1 305.1,1119.1 305.2,1120.2 305.3,1121.2 305.4,1122.3 305.5,1123.3 305.6,1124.4 305.7,1125.5 305.8,1126.6 305.9,1127.7 305.9,1128.8 306.0,1129.9 306.1,1131.0 306.2,1132.1 306.3,1133.1 306.5,1134.2 306.7,1135.2 306.9,1136.1 307.2,1137.1 307.6,1137.9 308.0,1138.7 308.5,1139.4 309.1,1140.1 309.8,1140.7 310.5,1141.2 311.3,1141.6 312.2,1141.9 313.1,1142.1 314.0,1142.3 315.0,1142.4 315.9,1142.4 316.8,1142.3 317.8,1142.1 318.7,1141.9 319.5,1141.6 320.3,1141.2 321.1,1140.7 321.7,1140.2 322.3,1139.5 322.8,1138.8 323.2,1138.0 323.6,1137.2 323.8,1136.2 324.1,1135.3 324.2,1134.3 324.4,1133.3 324.5,1132.2 324.6,1131.1 324.6,1130.0 324.7,1128.9 324.7,1127.9 324.8,1126.8 324.9,1125.7 325.0,1124.6 325.1,1123.6 325.2,1122.5 325.3,1121.5 325.4,1120.5 325.6,1119.5 325.7,1118.4 325.8,1117.4 326.0,1116.4 326.2,1115.5 326.3,1114.5 326.5,1113.5 326.7,1112.5 326.9,1111.5 327.0,1110.6 327.2,1109.6 327.4,1108.6 327.6,1107.7 327.8,1106.7 328.0,1105.7 328.2,1104.8 328.4,1103.8 328.6,1102.8 328.8,1101.9 329.0,1100.9 329.2,1099.9 329.3,1099.0 329.5,1098.0 329.7,1097.0 329.9,1096.1 330.1,1095.1 330.3,1094.1 330.5,1093.1 330.7,1092.2 330.9,1091.2 331.1,1090.2 331.3,1089.2 331.5,1088.2 331.7,1087.3 331.9,1086.3 332.0,1085.3 332.2,1084.3 332.4,1083.3 332.6,1082.4 332.8,1081.4 333.0,1080.4 333.2,1079.4 333.4,1078.4 333.6,1077.4 333.8,1076.5 334.0,1075.5 334.3,1074.5 334.5,1073.5 334.7,1072.5 334.9,1071.6 335.1,1070.6 335.3,1069.6 335.5,1068.6 335.7,1067.6 336.0,1066.6 336.2,1065.7 336.4,1064.7 336.6,1063.7 336.9,1062.7 337.1,1061.7 337.3,1060.8 337.6,1059.8 337.8,1058.8 338.0,1057.8 338.3,1056.9 338.5,1055.9 338.8,1054.9 339.0,1053.9 339.3,1053.0 339.5,1052.0 339.8,1051.0 340.1,1050.0 340.3,1049.1 340.6,1048.1 340.9,1047.1 341.2,1046.2 341.4,1045.2 341.7,1044.3 342.0,1043.3 342.3,1042.3 342.6,1041.4 342.9,1040.4 343.2,1039.5 343.5,1038.5 343.8,1037.6 344.1,1036.6 344.4,1035.7 344.7,1034.7 345.1,1033.8 345.4,1032.8 345.7,1031.9 346.1,1030.9 346.4,1030.0 346.7,1029.0 347.1,1028.1 347.4,1027.2 347.8,1026.2 348.1,1025.3 348.5,1024.4 348.8,1023.4 349.2,1022.5 349.6,1021.6 349.9,1020.6 350.3,1019.7 350.7,1018.8 351.0,1017.8 351.4,1016.9 351.8,1016.0 352.2,1015.1 352.6,1014.2 353.0,1013.2 353.4,1012.3 353.8,1011.4 354.2,1010.5 354.6,1009.6 355.0,1008.7 355.4,1007.7 355.8,1006.8 356.2,1005.9 356.6,1005.0 357.1,1004.1 357.5,1003.2 357.9,1002.3 358.4,1001.4 358.8,1000.5 359.2,999.6 359.7,998.7 360.1,997.8 360.5,996.9 361.0,996.0 361.4,995.1 361.9,994.2 362.3,993.3 362.8,992.4 363.3,991.5 363.7,990.6 364.2,989.7 364.6,988.8 365.1,988.0 365.6,987.1 366.1,986.2 366.5,985.3 367.0,984.4 367.5,983.5 368.0,982.6 368.5,981.8 369.0,980.9 369.4,980.0 369.9,979.1 370.4,978.3 370.9,977.4 371.4,976.5 371.9,975.6 372.4,974.8 373.0,973.9 373.5,973.0 374.0,972.2 374.5,971.3 375.0,970.4 375.5,969.6 376.1,968.7 376.6,967.9 377.1,967.0 377.7,966.2 378.2,965.3 378.7,964.5 379.3,963.6 379.8,962.8 380.4,962.0 380.9,961.1 381.5,960.3 382.1,959.5 382.6,958.6 383.2,957.8 383.8,957.0 384.4,956.2 384.9,955.4 385.5,954.6 386.1,953.8 386.7,953.0 387.3,952.2 387.9,951.4 388.5,950.6 389.1,949.8 389.7,949.0 390.4,948.2 391.0,947.5 391.6,946.7 392.3,945.9 392.9,945.2 393.5,944.4 394.2,943.7 394.8,942.9 395.5,942.2 396.2,941.4 396.8,940.7 397.5,940.0 398.2,939.3 398.9,938.5 399.6,937.8 400.2,937.1 400.9,936.4 401.7,935.7 402.4,935.0 403.1,934.4 403.8,933.7 404.5,933.0 405.3,932.3 406.0,931.7 406.8,931.0 407.5,930.4 408.3,929.7 409.0,929.1 409.8,928.5 410.6,927.9 411.3,927.2 412.1,926.6 412.9,926.0 413.7,925.4 414.5,924.9 415.4,924.3 416.2,923.7 417.0,923.1 417.8,922.6 418.7,922.0 419.5,921.5 420.4,920.9 421.2,920.4 422.1,919.9 422.9,919.4 423.8,918.8 424.7,918.3 425.6,917.8 426.4,917.3 427.3,916.9 428.2,916.4 429.1,915.9 430.0,915.4 430.9,915.0 431.8,914.5 432.8,914.1 433.7,913.6 434.6,913.2 435.5,912.8 436.4,912.4 437.4,911.9 438.3,911.5 439.2,911.1 440.2,910.7 441.1,910.3 442.1,910.0 443.0,909.6 444.0,909.2 444.9,908.9 445.9,908.5 446.8,908.1 447.8,907.8 448.7,907.5 449.7,907.1 450.7,906.8 451.6,906.5 452.6,906.2 453.6,905.8 454.5,905.5 455.5,905.2 456.4,905.0 457.4,904.7 458.4,904.4 459.4,904.1 460.3,903.8 461.3,903.6 462.3,903.3 463.2,903.1 464.2,902.8 465.2,902.6 466.1,902.4 467.1,902.1 468.1,901.9 469.1,901.7 470.0,901.5 471.0,901.3 472.0,901.1 473.0,900.9 473.9,900.7 474.9,900.5 475.9,900.3 476.9,900.1 477.9,900.0 478.8,899.8 479.8,899.6 480.8,899.5 481.8,899.3 482.8,899.2 483.7,899.0 484.7,898.9 485.7,898.8 486.7,898.6 487.7,898.5 488.7,898.4 489.6,898.3 490.6,898.2 491.6,898.1 492.6,898.0 493.6,897.9 494.6,897.8 495.5,897.7 496.5,897.6 497.5,897.6 498.5,897.5 499.5,897.4 500.5,897.4 501.5,897.3 502.5,897.2 503.5,897.2 504.4,897.1 505.4,897.1 506.4,897.1 507.4,897.0 508.4,897.0 509.4,897.0 510.4,896.9 511.4,896.9 512.4,896.9 513.4,896.9 514.4,896.9 515.3,896.9 516.3,896.9 517.3,896.9 518.3,896.9 519.3,896.9 520.3,896.9 521.3,896.9 522.3,897.0 523.3,897.0 524.3,897.0 525.3,897.1 526.3,897.1 527.3,897.1 528.3,897.2 529.3,897.2 530.3,897.3 531.3,897.3 532.3,897.4 533.3,897.4 534.2,897.5 535.2,897.6 536.2,897.6 537.2,897.7 538.2,897.8 539.2,897.8 540.2,897.9 541.2,898.0 542.2,898.1 543.2,898.2 544.2,898.3 545.2,898.3 546.2,898.4 547.2,898.5 548.2,898.6 549.2,898.7 550.2,898.8 551.2,899.0 552.2,899.1 553.2,899.2 554.2,899.3 555.2,899.4 556.2,899.5 557.2,899.6 558.2,899.8 559.2,899.9 560.2,900.0 561.2,900.1 562.2,900.3 563.2,900.4 564.2,900.5 565.2,900.7 566.2,900.8 567.2,901.0 568.2,901.1 569.2,901.2 570.2,901.4 571.2,901.5 572.2,901.7 573.2,901.8 574.2,902.0 575.2,902.1 576.2,902.3 577.2,902.5 578.2,902.6 579.2,902.8 580.2,902.9 581.2,903.1 582.2,903.3 583.1,903.4 584.1,903.6 585.1,903.8 586.1,903.9 587.1,904.1 588.1,904.3 589.1,904.4 590.1,904.6 591.1,904.8 592.1,905.0 593.1,905.1 594.1,905.3 595.1,905.5 596.1,905.7 597.1,905.9 598.1,906.0 599.1,906.2 600.1,906.4 601.1,906.6 602.1,906.8 603.1,906.9 604.0,907.1 605.0,907.3 606.0,907.5 607.0,907.7 608.0,907.9 609.0,908.0 610.0,908.2 611.0,908.4 612.0,908.6 613.0,908.8 614.0,909.0 614.9,909.2 615.9,909.3 616.9,909.5 617.9,909.7 618.9,909.9 619.9,910.1 620.9,910.3 621.9,910.5 622.9,910.6 623.8,910.8 624.8,911.0 625.8,911.2 626.8,911.4 627.8,911.6 628.8,911.7 629.8,911.9 630.7,912.1 631.7,912.3 632.7,912.5 633.7,912.7 634.7,912.8 635.7,913.0 636.6,913.2 637.6,913.4 638.6,913.5 639.6,913.7 640.6,913.9 641.5,914.1 642.5,914.2 643.5,914.4 644.5,914.6 645.4,914.8 646.4,914.9 647.4,915.1 648.4,915.3 649.3,915.4 650.3,915.6 651.3,915.8 652.3,915.9 653.2,916.1 654.2,916.2 655.2,916.4 656.2,916.6 657.1,916.7 658.1,916.9 659.1,917.0 660.0,917.2 661.0,917.3 662.0,917.5 662.9,917.6 663.9,917.8 664.9,917.9 665.8,918.0 666.8,918.2 667.8,918.3 668.7,918.4 669.7,918.6 670.7,918.7 671.6,918.8 672.6,919.0" stroke="#a0a0a0" stroke-width="2.40" stroke-dasharray="1.4 3.7"/>
<path d="M71.8,853.5L72.8,853.6 73.7,853.7 74.7,853.8 75.6,853.9 76.6,854.0 77.6,854.2 78.5,854.3 79.5,854.4 80.5,854.5 81.4,854.7 82.4,854.8 83.3,854.9 84.3,855.0 85.3,855.2 86.3,855.3 87.2,855.4 88.2,855.6 89.2,855.7 90.1,855.8 91.1,856.0 92.1,856.1 93.1,856.3 94.1,856.4 95.0,856.5 96.0,856.7 97.0,856.8 98.0,857.0 99.0,857.1 99.9,857.3 100.9,857.4 101.9,857.6 102.9,857.8 103.9,857.9 104.9,858.1 105.8,858.2 106.8,858.4 107.8,858.6 108.8,858.8 109.8,858.9 110.8,859.1 111.8,859.3 112.8,859.4 113.7,859.6 114.7,859.8 115.7,860.0 116.7,860.2 117.7,860.4 118.7,860.5 119.7,860.7 120.7,860.9 121.7,861.1 122.6,861.3 123.6,861.5 124.6,861.7 125.6,861.9 126.6,862.1 127.6,862.3 128.6,862.6 129.6,862.8 130.6,863.0 131.6,863.2 132.5,863.4 133.5,863.6 134.5,863.9 135.5,864.1 136.5,864.3 137.5,864.5 138.5,864.8 139.5,865.0 140.5,865.3 141.4,865.5 142.4,865.7 143.4,866.0 144.4,866.2 145.4,866.5 146.4,866.7 147.3,867.0 148.3,867.2 149.3,867.5 150.3,867.8 151.3,868.0 152.3,868.3 153.2,868.6 154.2,868.9 155.2,869.1 156.2,869.4 157.1,869.7 158.1,870.0 159.1,870.3 160.1,870.6 161.0,870.8 162.0,871.1 163.0,871.4 163.9,871.7 164.9,872.0 165.9,872.4 166.8,872.7 167.8,873.0 168.8,873.3 169.7,873.6 170.7,873.9 171.6,874.3 172.6,874.6 173.6,874.9 174.5,875.3 175.5,875.6 176.4,875.9 177.4,876.3 178.3,876.6 179.3,877.0 180.2,877.3 181.2,877.7 182.1,878.0 183.0,878.4 184.0,878.8 184.9,879.1 185.9,879.5 186.8,879.9 187.7,880.3 188.7,880.7 189.6,881.0 190.5,881.4 191.4,881.8 192.4,882.2 193.3,882.6 194.2,883.0 195.1,883.4 196.0,883.8 197.0,884.3 197.9,884.7 198.8,885.1 199.7,885.5 200.6,885.9 201.5,886.4 202.4,886.8 203.3,887.3 204.2,887.7 205.1,888.1 206.0,888.6 206.9,889.0 207.8,889.5 208.6,890.0 209.5,890.4 210.4,890.9 211.3,891.4 212.2,891.8 213.0,892.3 213.9,892.8 214.8,893.3 215.6,893.8 216.5,894.3 217.4,894.8 218.2,895.3 219.1,895.8 219.9,896.3 220.8,896.8 221.6,897.3 222.5,897.9 223.3,898.4 224.2,898.9 225.0,899.5 225.8,900.0 226.7,900.5 227.5,901.1 228.3,901.6 229.1,902.2 230.0,902.7 230.8,903.3 231.6,903.9 232.4,904.5 233.2,905.0 234.0,905.6 234.8,906.2 235.6,906.8 236.4,907.4 237.2,908.0 238.0,908.6 238.8,909.2 239.5,909.8 240.3,910.4 241.1,911.0 241.9,911.7 242.6,912.3 243.4,912.9 244.2,913.5 244.9,914.2 245.7,914.8 246.4,915.5 247.2,916.1 247.9,916.8 248.7,917.4 249.4,918.1 250.2,918.8 250.9,919.4 251.6,920.1 252.3,920.8 253.1,921.4 253.8,922.1 254.5,922.8 255.2,923.5 255.9,924.2 256.7,924.9 257.4,925.6 258.1,926.3 258.8,927.0 259.5,927.7 260.2,928.4 260.9,929.1 261.6,929.9 262.2,930.6 262.9,931.3 263.6,932.0 264.3,932.8 265.0,933.5 265.6,934.2 266.3,935.0 267.0,935.7 267.6,936.5 268.3,937.2 269.0,938.0 269.6,938.7 270.3,939.5 270.9,940.3 271.6,941.0 272.2,941.8 272.8,942.6 273.5,943.3 274.1,944.1 274.8,944.9 275.4,945.7 276.0,946.5 276.6,947.2 277.3,948.0 277.9,948.8 278.5,949.6 279.1,950.4 279.7,951.2 280.3,952.0 280.9,952.8 281.5,953.6 282.1,954.4 282.7,955.2 283.3,956.1 283.9,956.9 284.5,957.7 285.1,958.5 285.7,959.3 286.2,960.2 286.8,961.0 287.4,961.8 288.0,962.6 288.5,963.5 289.1,964.3 289.7,965.1 290.2,966.0 290.8,966.8 291.3,967.7 291.9,968.5 292.4,969.4 293.0,970.2 293.5,971.1 294.1,971.9 294.6,972.8 295.1,973.6 295.7,974.5 296.2,975.3 296.7,976.2 297.2,977.1 297.8,977.9 298.3,978.8 298.8,979.7 299.3,980.5 299.8,981.4 300.3,982.3 300.8,983.1 301.4,984.0 301.9,984.9 302.4,985.8 302.8,986.6 303.3,987.5 303.8,988.4 304.3,989.3 304.8,990.2 305.3,991.0 305.8,991.9 306.2,992.8 306.7,993.7 307.2,994.6 307.7,995.5 308.1,996.4 308.6,997.3 309.1,998.2 309.5,999.0 310.0,999.9 310.4,1000.8 310.9,1001.7 311.3,1002.6 311.8,1003.5 312.2,1004.4 312.7,1005.3 313.1,1006.2 313.5,1007.1 314.0,1008.0 314.4,1008.9 314.8,1009.8 315.3,1010.7 315.7,1011.6 316.1,1012.5 316.5,1013.4 317.0,1014.3 317.4,1015.3 317.8,1016.2 318.2,1017.1 318.6,1018.0 319.0,1018.9 319.4,1019.8 319.8,1020.7 320.2,1021.6 320.6,1022.5 321.0,1023.4 321.4,1024.3 321.8,1025.2 322.2,1026.1 322.6,1027.0 323.0,1028.0 323.4,1028.9 323.8,1029.8 324.2,1030.7 324.6,1031.6 325.0,1032.5 325.4,1033.4 325.8,1034.3 326.2,1035.2 326.6,1036.1 327.0,1037.1 327.4,1038.0 327.8,1038.9 328.2,1039.8 328.7,1040.7 329.1,1041.6 329.5,1042.5 329.9,1043.4 330.3,1044.3 330.8,1045.2 331.2,1046.1 331.6,1047.0 332.1,1048.0 332.5,1048.9 333.0,1049.8 333.4,1050.7 333.9,1051.6 334.3,1052.5 334.8,1053.4 335.3,1054.3 335.8,1055.2 336.2,1056.1 336.7,1057.0 337.2,1057.9 337.7,1058.8 338.2,1059.7 338.8,1060.6 339.3,1061.4 339.8,1062.3 340.4,1063.2 340.9,1064.0 341.5,1064.9 342.1,1065.7 342.6,1066.6 343.2,1067.4 343.8,1068.2 344.5,1069.0 345.1,1069.8 345.7,1070.6 346.4,1071.4 347.1,1072.1 347.7,1072.9 348.4,1073.6 349.1,1074.3 349.9,1075.0 350.6,1075.7 351.4,1076.4 352.1,1077.0 352.9,1077.7 353.7,1078.2 354.5,1078.7 355.3,1079.1 356.2,1079.4 357.0,1079.7 357.9,1079.8 358.8,1079.9 359.7,1079.8 360.5,1079.7 361.4,1079.5 362.3,1079.2 363.2,1078.8 364.0,1078.4 364.8,1077.8 365.6,1077.2 366.4,1076.6 367.1,1075.9 367.8,1075.1 368.5,1074.3 369.1,1073.5 369.7,1072.6 370.2,1071.6 370.8,1070.7 371.2,1069.7 371.7,1068.8 372.2,1067.8 372.6,1066.8 373.0,1065.8 373.3,1064.8 373.7,1063.9 374.0,1062.9 374.4,1061.9 374.7,1060.9 374.9,1059.9 375.2,1059.0 375.5,1058.0 375.7,1057.0 376.0,1056.0 376.2,1055.1 376.4,1054.1 376.6,1053.1 376.8,1052.1 377.0,1051.2 377.2,1050.2 377.4,1049.2 377.6,1048.2 377.8,1047.3 378.0,1046.3 378.2,1045.4 378.4,1044.4 378.6,1043.4 378.9,1042.5 379.1,1041.5 379.3,1040.6 379.6,1039.6 379.8,1038.7 380.1,1037.8 380.4,1036.8 380.7,1035.9 381.0,1035.0 381.3,1034.0 381.7,1033.1 382.0,1032.2 382.4,1031.3 382.8,1030.4 383.2,1029.5 383.7,1028.6 384.1,1027.7 384.5,1026.8 385.0,1025.9 385.4,1025.0 385.9,1024.1 386.3,1023.2 386.8,1022.3 387.3,1021.4 387.7,1020.5 388.2,1019.7 388.7,1018.8 389.1,1017.9 389.6,1017.0 390.1,1016.1 390.6,1015.2 391.1,1014.4 391.6,1013.5 392.0,1012.6 392.5,1011.7 393.0,1010.9 393.5,1010.0 394.0,1009.1 394.6,1008.2 395.1,1007.4 395.6,1006.5 396.1,1005.6 396.6,1004.8 397.1,1003.9 397.7,1003.1 398.2,1002.2 398.7,1001.4 399.3,1000.5 399.8,999.6 400.3,998.8 400.9,998.0 401.4,997.1 402.0,996.3 402.5,995.4 403.1,994.6 403.7,993.8 404.2,992.9 404.8,992.1 405.4,991.3 405.9,990.4 406.5,989.6 407.1,988.8 407.7,988.0 408.3,987.2 408.9,986.4 409.5,985.5 410.1,984.7 410.7,983.9 411.3,983.1 411.9,982.3 412.5,981.5 413.1,980.7 413.7,980.0 414.3,979.2 415.0,978.4 415.6,977.6 416.2,976.8 416.9,976.1 417.5,975.3 418.1,974.5 418.8,973.8 419.4,973.0 420.1,972.2 420.8,971.5 421.4,970.7 422.1,970.0 422.7,969.2 423.4,968.5 424.1,967.8 424.8,967.0 425.4,966.3 426.1,965.6 426.8,964.8 427.5,964.1 428.2,963.4 428.9,962.7 429.6,962.0 430.3,961.3 431.0,960.6 431.7,959.9 432.5,959.2 433.2,958.5 433.9,957.8 434.6,957.2 435.4,956.5 436.1,955.8 436.9,955.1 437.6,954.5 438.4,953.8 439.1,953.2 439.9,952.5 440.6,951.9 441.4,951.2 442.2,950.6 442.9,950.0 443.7,949.3 444.5,948.7 445.3,948.1 446.1,947.5 446.8,946.9 447.6,946.3 448.4,945.7 449.2,945.1 450.0,944.5 450.9,943.9 451.7,943.3 452.5,942.8 453.3,942.2 454.1,941.6 455.0,941.1 455.8,940.5 456.6,940.0 457.5,939.4 458.3,938.9 459.2,938.4 460.0,937.8 460.9,937.3 461.7,936.8 462.6,936.3 463.5,935.8 464.4,935.3 465.2,934.8 466.1,934.3 467.0,933.8 467.9,933.3 468.8,932.9 469.6,932.4 470.5,931.9 471.4,931.5 472.3,931.0 473.2,930.6 474.1,930.1 475.0,929.7 475.9,929.2 476.9,928.8 477.8,928.4 478.7,927.9 479.6,927.5 480.5,927.1 481.4,926.7 482.3,926.3 483.3,925.9 484.2,925.5 485.1,925.1 486.0,924.7 487.0,924.3 487.9,923.9 488.8,923.5 489.7,923.1 490.7,922.8 491.6,922.4 492.5,922.0 493.5,921.7 494.4,921.3 495.3,921.0 496.3,920.6 497.2,920.3 498.2,919.9 499.1,919.6 500.1,919.3 501.0,919.0 501.9,918.6 502.9,918.3 503.8,918.0 504.8,917.7 505.7,917.4 506.7,917.1 507.7,916.8 508.6,916.6 509.6,916.3 510.5,916.0 511.5,915.7 512.4,915.5 513.4,915.2 514.4,915.0 515.3,914.7 516.3,914.5 517.3,914.3 518.2,914.0 519.2,913.8 520.2,913.6 521.2,913.4 522.1,913.2 523.1,913.0 524.1,912.8 525.1,912.6 526.0,912.4 527.0,912.3 528.0,912.1 529.0,911.9 530.0,911.8 531.0,911.6 531.9,911.5 532.9,911.4 533.9,911.2 534.9,911.1 535.9,911.0 536.9,910.9 537.9,910.8 538.9,910.7 539.9,910.6 540.9,910.5 541.9,910.4 542.9,910.3 543.9,910.3 544.9,910.2 545.9,910.1 546.9,910.1 547.9,910.0 548.9,910.0 549.9,909.9 550.9,909.9 551.9,909.8 552.9,909.8 553.9,909.8 554.9,909.8 555.9,909.7 556.9,909.7 557.9,909.7 558.9,909.7 559.9,909.7 561.0,909.7 562.0,909.7 563.0,909.7 564.0,909.7 565.0,909.7 566.0,909.7 567.0,909.7 568.0,909.7 569.0,909.7 570.0,909.8 571.0,909.8 572.0,909.8 573.0,909.8 574.0,909.9 575.1,909.9 576.1,909.9 577.1,910.0 578.1,910.0 579.1,910.0 580.1,910.1 581.1,910.1 582.1,910.1 583.1,910.2 584.1,910.2 585.1,910.3 586.1,910.3 587.1,910.4 588.1,910.4 589.1,910.4 590.1,910.5 591.1,910.5 592.1,910.6 593.1,910.6 594.1,910.7 595.1,910.8 596.1,910.8 597.1,910.9 598.1,910.9 599.1,911.0 600.1,911.0 601.1,911.1 602.1,911.1 603.1,911.2 604.1,911.3 605.1,911.3 606.1,911.4 607.1,911.4 608.1,911.5 609.1,911.6 610.1,911.6 611.1,911.7 612.0,911.8 613.0,911.8 614.0,911.9 615.0,912.0 616.0,912.0 617.0,912.1 618.0,912.2 619.0,912.2 620.0,912.3 621.0,912.4 622.0,912.4 623.0,912.5 624.0,912.6 625.0,912.6 626.0,912.7 627.0,912.8 628.0,912.8 629.0,912.9 630.0,913.0 631.0,913.0 632.0,913.1 633.0,913.2 634.0,913.2 635.0,913.3 636.0,913.4 637.0,913.5 638.0,913.5 639.0,913.6 640.0,913.7 641.0,913.7 642.0,913.8 643.0,913.9 644.0,913.9 645.0,914.0 646.0,914.1 647.0,914.1 648.0,914.2 649.0,914.2 650.0,914.3 651.0,914.4 652.0,914.4 653.0,914.5 654.0,914.6 655.0,914.6 656.0,914.7 657.0,914.7 658.0,914.8 659.0,914.8 660.0,914.9 661.0,915.0 662.0,915.0 663.0,915.1 664.0,915.1 665.0,915.2 666.0,915.2 667.1,915.3 668.1,915.3 669.1,915.4 670.1,915.4" stroke="#b3b3b3" stroke-width="2.40" stroke-dasharray="10.5 4.5 2.4 3.6"/>
<path d="M71.6,852.8L72.5,852.9 73.5,853.0 74.5,853.1 75.5,853.2 76.5,853.3 77.5,853.4 78.5,853.5 79.5,853.6 80.4,853.7 81.4,853.8 82.4,853.9 83.4,854.0 84.4,854.1 85.4,854.2 86.4,854.4 87.4,854.5 88.4,854.6 89.3,854.7 90.3,854.8 91.3,855.0 92.3,855.1 93.3,855.2 94.3,855.4 95.3,855.5 96.3,855.6 97.3,855.8 98.3,855.9 99.2,856.1 100.2,856.2 101.2,856.4 102.2,856.5 103.2,856.7 104.2,856.8 105.2,857.0 106.2,857.1 107.2,857.3 108.2,857.4 109.2,857.6 110.1,857.8 111.1,857.9 112.1,858.1 113.1,858.3 114.1,858.5 115.1,858.6 116.1,858.8 117.1,859.0 118.1,859.2 119.0,859.4 120.0,859.6 121.0,859.7 122.0,859.9 123.0,860.1 124.0,860.3 125.0,860.5 125.9,860.7 126.9,860.9 127.9,861.1 128.9,861.4 129.9,861.6 130.9,861.8 131.8,862.0 132.8,862.2 133.8,862.4 134.8,862.7 135.8,862.9 136.8,863.1 137.7,863.3 138.7,863.6 139.7,863.8 140.7,864.1 141.6,864.3 142.6,864.5 143.6,864.8 144.6,865.0 145.5,865.3 146.5,865.5 147.5,865.8 148.5,866.1 149.4,866.3 150.4,866.6 151.4,866.9 152.3,867.1 153.3,867.4 154.3,867.7 155.2,867.9 156.2,868.2 157.2,868.5 158.1,868.8 159.1,869.1 160.0,869.4 161.0,869.7 162.0,870.0 162.9,870.3 163.9,870.6 164.8,870.9 165.8,871.2 166.7,871.5 167.7,871.8 168.6,872.1 169.6,872.5 170.5,872.8 171.5,873.1 172.4,873.4 173.4,873.8 174.3,874.1 175.3,874.4 176.2,874.8 177.1,875.1 178.1,875.5 179.0,875.8 180.0,876.2 180.9,876.5 181.8,876.9 182.8,877.2 183.7,877.6 184.6,878.0 185.5,878.4 186.5,878.7 187.4,879.1 188.3,879.5 189.2,879.9 190.2,880.3 191.1,880.6 192.0,881.0 192.9,881.4 193.8,881.8 194.8,882.2 195.7,882.6 196.6,883.1 197.5,883.5 198.4,883.9 199.3,884.3 200.2,884.7 201.1,885.2 202.0,885.6 202.9,886.0 203.8,886.5 204.7,886.9 205.6,887.3 206.5,887.8 207.4,888.2 208.3,888.7 209.1,889.1 210.0,889.6 210.9,890.1 211.8,890.5 212.7,891.0 213.5,891.5 214.4,892.0 215.3,892.4 216.2,892.9 217.0,893.4 217.9,893.9 218.8,894.4 219.6,894.9 220.5,895.4 221.4,895.9 222.2,896.4 223.1,896.9 223.9,897.4 224.8,898.0 225.6,898.5 226.5,899.0 227.3,899.5 228.2,900.1 229.0,900.6 229.8,901.2 230.7,901.7 231.5,902.3 232.3,902.8 233.2,903.4 234.0,903.9 234.8,904.5 235.6,905.1 236.5,905.6 237.3,906.2 238.1,906.8 238.9,907.4 239.7,908.0 240.5,908.6 241.3,909.2 242.1,909.8 242.9,910.4 243.7,911.0 244.5,911.6 245.3,912.2 246.1,912.8 246.9,913.4 247.7,914.1 248.5,914.7 249.3,915.3 250.0,916.0 250.8,916.6 251.6,917.3 252.4,917.9 253.1,918.6 253.9,919.2 254.6,919.9 255.4,920.6 256.2,921.2 256.9,921.9 257.7,922.6 258.4,923.3 259.1,924.0 259.9,924.7 260.6,925.4 261.3,926.1 262.0,926.8 262.8,927.5 263.5,928.2 264.2,929.0 264.9,929.7 265.5,930.4 266.2,931.2 266.9,931.9 267.6,932.7 268.2,933.5 268.9,934.2 269.5,935.0 270.2,935.8 270.8,936.6 271.4,937.4 272.0,938.2 272.6,939.0 273.3,939.8 273.9,940.6 274.5,941.4 275.1,942.3 275.7,943.1 276.3,943.9 276.9,944.7 277.5,945.5 278.1,946.3 278.7,947.1 279.3,947.8 279.9,948.6 280.5,949.4 281.2,950.1 281.8,950.9 282.4,951.6 283.1,952.3 283.8,953.0 284.5,953.7 285.2,954.4 285.9,955.0 286.6,955.7 287.3,956.3 288.1,956.9 288.9,957.5 289.6,958.0 290.4,958.6 291.2,959.1 292.0,959.7 292.8,960.3 293.5,960.9 294.3,961.5 295.0,962.2 295.7,962.8 296.3,963.5 297.0,964.3 297.6,965.0 298.2,965.8 298.8,966.5 299.4,967.3 300.0,968.1 300.6,968.9 301.1,969.8 301.7,970.6 302.2,971.4 302.7,972.3 303.3,973.1 303.8,974.0 304.3,974.8 304.8,975.7 305.3,976.6 305.8,977.5 306.3,978.3 306.8,979.2 307.3,980.1 307.8,981.0 308.3,981.8 308.8,982.7 309.3,983.6 309.8,984.5 310.3,985.3 310.8,986.2 311.4,987.1 311.9,987.9 312.4,988.8 312.9,989.7 313.5,990.5 314.0,991.4 314.5,992.3 315.1,993.1 315.6,994.0 316.1,994.9 316.6,995.7 317.1,996.6 317.6,997.5 318.1,998.3 318.6,999.2 319.1,1000.1 319.6,1001.0 320.1,1001.8 320.5,1002.7 321.0,1003.6 321.5,1004.5 321.9,1005.4 322.3,1006.3 322.8,1007.2 323.2,1008.1 323.6,1009.0 324.1,1009.9 324.5,1010.8 324.9,1011.7 325.3,1012.6 325.7,1013.5 326.1,1014.4 326.5,1015.3 326.9,1016.2 327.3,1017.1 327.7,1018.1 328.1,1019.0 328.5,1019.9 328.9,1020.8 329.3,1021.7 329.7,1022.6 330.0,1023.5 330.4,1024.5 330.8,1025.4 331.2,1026.3 331.6,1027.2 332.0,1028.1 332.4,1029.0 332.8,1029.9 333.2,1030.9 333.6,1031.8 334.0,1032.7 334.4,1033.6 334.9,1034.5 335.3,1035.4 335.7,1036.3 336.1,1037.2 336.6,1038.1 337.0,1039.0 337.5,1039.9 337.9,1040.8 338.4,1041.7 338.9,1042.6 339.3,1043.5 339.8,1044.4 340.3,1045.2 340.8,1046.1 341.3,1047.0 341.8,1047.9 342.4,1048.7 342.9,1049.6 343.4,1050.5 344.0,1051.3 344.5,1052.2 345.1,1053.1 345.7,1053.9 346.3,1054.7 346.9,1055.6 347.5,1056.4 348.2,1057.3 348.8,1058.1 349.5,1058.9 350.1,1059.7 350.8,1060.4 351.5,1061.2 352.2,1061.9 352.9,1062.5 353.7,1063.1 354.4,1063.6 355.2,1064.1 355.9,1064.5 356.7,1064.8 357.5,1065.0 358.3,1065.1 359.1,1065.2 360.0,1065.1 360.8,1065.0 361.6,1064.7 362.5,1064.3 363.3,1063.9 364.2,1063.4 365.0,1062.8 365.8,1062.1 366.6,1061.4 367.4,1060.7 368.1,1059.9 368.8,1059.1 369.5,1058.3 370.1,1057.4 370.8,1056.5 371.4,1055.6 372.0,1054.7 372.5,1053.7 373.0,1052.8 373.5,1051.9 374.0,1050.9 374.5,1050.0 374.9,1049.0 375.3,1048.1 375.7,1047.2 376.1,1046.2 376.5,1045.3 376.8,1044.4 377.2,1043.4 377.6,1042.5 377.9,1041.6 378.3,1040.7 378.6,1039.8 379.0,1038.8 379.4,1037.9 379.7,1037.0 380.1,1036.1 380.5,1035.2 380.9,1034.2 381.2,1033.3 381.6,1032.4 382.0,1031.5 382.4,1030.6 382.8,1029.7 383.2,1028.8 383.6,1027.9 384.1,1027.0 384.5,1026.1 384.9,1025.2 385.3,1024.3 385.7,1023.4 386.2,1022.5 386.6,1021.6 387.0,1020.7 387.5,1019.8 387.9,1018.9 388.4,1018.0 388.8,1017.1 389.3,1016.2 389.8,1015.3 390.2,1014.4 390.7,1013.6 391.2,1012.7 391.6,1011.8 392.1,1010.9 392.6,1010.1 393.1,1009.2 393.6,1008.3 394.1,1007.4 394.6,1006.6 395.1,1005.7 395.6,1004.8 396.1,1004.0 396.6,1003.1 397.1,1002.3 397.7,1001.4 398.2,1000.5 398.7,999.7 399.2,998.8 399.8,998.0 400.3,997.2 400.9,996.3 401.4,995.5 402.0,994.6 402.5,993.8 403.1,993.0 403.6,992.1 404.2,991.3 404.8,990.5 405.3,989.7 405.9,988.8 406.5,988.0 407.1,987.2 407.7,986.4 408.3,985.6 408.9,984.8 409.5,984.0 410.1,983.2 410.7,982.4 411.3,981.6 411.9,980.8 412.5,980.0 413.1,979.2 413.8,978.4 414.4,977.6 415.0,976.9 415.7,976.1 416.3,975.3 416.9,974.6 417.6,973.8 418.2,973.0 418.9,972.3 419.5,971.5 420.2,970.7 420.9,970.0 421.5,969.2 422.2,968.5 422.9,967.8 423.6,967.0 424.2,966.3 424.9,965.5 425.6,964.8 426.3,964.1 427.0,963.4 427.7,962.6 428.4,961.9 429.1,961.2 429.8,960.5 430.5,959.8 431.2,959.1 431.9,958.4 432.6,957.7 433.3,957.0 434.1,956.3 434.8,955.6 435.5,954.9 436.2,954.2 437.0,953.5 437.7,952.8 438.4,952.2 439.2,951.5 439.9,950.8 440.7,950.2 441.4,949.5 442.2,948.8 442.9,948.2 443.7,947.6 444.5,946.9 445.2,946.3 446.0,945.6 446.8,945.0 447.6,944.4 448.3,943.8 449.1,943.2 449.9,942.6 450.7,942.0 451.5,941.4 452.4,940.9 453.2,940.3 454.0,939.8 454.8,939.2 455.7,938.7 456.5,938.2 457.4,937.6 458.2,937.1 459.1,936.6 460.0,936.2 460.9,935.7 461.7,935.2 462.6,934.8 463.5,934.3 464.4,933.9 465.3,933.4 466.2,933.0 467.1,932.5 468.0,932.1 469.0,931.7 469.9,931.2 470.8,930.8 471.7,930.4 472.6,929.9 473.5,929.5 474.4,929.1 475.3,928.6 476.2,928.2 477.1,927.8 478.0,927.3 479.0,926.9 479.9,926.4 480.8,926.0 481.7,925.6 482.6,925.2 483.5,924.7 484.4,924.3 485.3,923.9 486.2,923.4 487.2,923.0 488.1,922.6 489.0,922.2 489.9,921.8 490.8,921.4 491.7,921.0 492.7,920.6 493.6,920.2 494.5,919.8 495.4,919.4 496.4,919.0 497.3,918.7 498.2,918.3 499.1,917.9 500.1,917.6 501.0,917.2 501.9,916.9 502.9,916.5 503.8,916.2 504.8,915.9 505.7,915.5 506.6,915.2 507.6,914.9 508.5,914.6 509.5,914.4 510.4,914.1 511.4,913.8 512.4,913.5 513.3,913.3 514.3,913.0 515.3,912.8 516.2,912.6 517.2,912.4 518.2,912.1 519.1,911.9 520.1,911.7 521.1,911.5 522.1,911.4 523.0,911.2 524.0,911.0 525.0,910.8 526.0,910.7 527.0,910.5 528.0,910.4 529.0,910.2 530.0,910.1 530.9,910.0 531.9,909.9 532.9,909.7 533.9,909.6 534.9,909.5 535.9,909.4 536.9,909.3 537.9,909.2 538.9,909.2 539.9,909.1 540.9,909.0 541.9,908.9 542.9,908.9 543.9,908.8 545.0,908.8 546.0,908.7 547.0,908.7 548.0,908.6 549.0,908.6 550.0,908.5 551.0,908.5 552.0,908.5 553.0,908.4 554.0,908.4 555.0,908.4 556.0,908.4 557.0,908.4 558.0,908.4 559.1,908.4 560.1,908.3 561.1,908.3 562.1,908.3 563.1,908.3 564.1,908.3 565.1,908.3 566.1,908.3 567.1,908.4 568.1,908.4 569.1,908.4 570.1,908.4 571.1,908.4 572.1,908.4 573.1,908.4 574.1,908.5 575.1,908.5 576.1,908.5 577.1,908.5 578.1,908.6 579.1,908.6 580.1,908.6 581.1,908.6 582.1,908.7 583.1,908.7 584.1,908.8 585.1,908.8 586.1,908.8 587.1,908.9 588.1,908.9 589.1,909.0 590.1,909.0 591.1,909.0 592.1,909.1 593.1,909.1 594.1,909.2 595.1,909.2 596.1,909.3 597.1,909.3 598.1,909.4 599.1,909.5 600.1,909.5 601.1,909.6 602.1,909.6 603.1,909.7 604.1,909.7 605.1,909.8 606.1,909.9 607.1,909.9 608.1,910.0 609.1,910.1 610.1,910.1 611.1,910.2 612.1,910.3 613.1,910.3 614.1,910.4 615.1,910.5 616.0,910.5 617.0,910.6 618.0,910.7 619.0,910.7 620.0,910.8 621.0,910.9 622.0,910.9 623.0,911.0 624.0,911.1 625.0,911.2 626.0,911.2 627.0,911.3 628.0,911.4 629.0,911.4 630.0,911.5 631.0,911.6 632.0,911.7 633.0,911.7 634.0,911.8 635.0,911.9 636.0,912.0 637.0,912.0 638.0,912.1 639.0,912.2 640.0,912.2 641.0,912.3 642.0,912.4 643.0,912.5 644.0,912.5 645.0,912.6 646.0,912.7 647.0,912.8 648.0,912.8 649.0,912.9 650.0,913.0 651.0,913.0 652.0,913.1 653.0,913.2 654.0,913.2 655.0,913.3 656.0,913.4 657.0,913.4 658.0,913.5 659.0,913.6 660.0,913.6 661.0,913.7 662.0,913.8 663.0,913.8 664.0,913.9 665.0,913.9 666.0,914.0 667.0,914.1 668.0,914.1 669.0,914.2 670.0,914.2 671.0,914.3 672.0,914.3 673.0,914.4" stroke="#b3b3b3" stroke-width="2.40"/>
<path d="M71.8,853.3L72.8,853.5 73.7,853.6 74.7,853.7 75.6,853.8 76.6,853.9 77.6,854.0 78.5,854.2 79.5,854.3 80.5,854.4 81.4,854.5 82.4,854.6 83.4,854.8 84.3,854.9 85.3,855.0 86.3,855.2 87.2,855.3 88.2,855.4 89.2,855.6 90.2,855.7 91.1,855.8 92.1,856.0 93.1,856.1 94.1,856.3 95.1,856.4 96.0,856.5 97.0,856.7 98.0,856.8 99.0,857.0 100.0,857.1 100.9,857.3 101.9,857.4 102.9,857.6 103.9,857.8 104.9,857.9 105.9,858.1 106.9,858.3 107.8,858.4 108.8,858.6 109.8,858.8 110.8,858.9 111.8,859.1 112.8,859.3 113.8,859.5 114.8,859.6 115.8,859.8 116.7,860.0 117.7,860.2 118.7,860.4 119.7,860.6 120.7,860.8 121.7,860.9 122.7,861.1 123.7,861.3 124.7,861.5 125.7,861.7 126.7,862.0 127.6,862.2 128.6,862.4 129.6,862.6 130.6,862.8 131.6,863.0 132.6,863.2 133.6,863.4 134.6,863.7 135.6,863.9 136.5,864.1 137.5,864.4 138.5,864.6 139.5,864.8 140.5,865.1 141.5,865.3 142.5,865.5 143.5,865.8 144.4,866.0 145.4,866.3 146.4,866.5 147.4,866.8 148.4,867.0 149.4,867.3 150.3,867.6 151.3,867.8 152.3,868.1 153.3,868.4 154.2,868.6 155.2,868.9 156.2,869.2 157.2,869.5 158.2,869.8 159.1,870.0 160.1,870.3 161.1,870.6 162.0,870.9 163.0,871.2 164.0,871.5 164.9,871.8 165.9,872.1 166.9,872.4 167.8,872.8 168.8,873.1 169.8,873.4 170.7,873.7 171.7,874.0 172.6,874.4 173.6,874.7 174.6,875.0 175.5,875.4 176.5,875.7 177.4,876.1 178.4,876.4 179.3,876.7 180.3,877.1 181.2,877.5 182.1,877.8 183.1,878.2 184.0,878.5 185.0,878.9 185.9,879.3 186.8,879.7 187.8,880.0 188.7,880.4 189.6,880.8 190.6,881.2 191.5,881.6 192.4,882.0 193.3,882.4 194.3,882.8 195.2,883.2 196.1,883.6 197.0,884.0 197.9,884.4 198.8,884.8 199.7,885.3 200.6,885.7 201.5,886.1 202.4,886.6 203.3,887.0 204.2,887.4 205.1,887.9 206.0,888.3 206.9,888.8 207.8,889.2 208.7,889.7 209.6,890.2 210.5,890.6 211.3,891.1 212.2,891.6 213.1,892.1 214.0,892.5 214.8,893.0 215.7,893.5 216.6,894.0 217.4,894.5 218.3,895.0 219.1,895.5 220.0,896.0 220.9,896.6 221.7,897.1 222.5,897.6 223.4,898.1 224.2,898.6 225.1,899.2 225.9,899.7 226.7,900.3 227.6,900.8 228.4,901.4 229.2,901.9 230.0,902.5 230.8,903.0 231.7,903.6 232.5,904.2 233.3,904.8 234.1,905.3 234.9,905.9 235.7,906.5 236.5,907.1 237.3,907.7 238.1,908.3 238.8,908.9 239.6,909.5 240.4,910.1 241.2,910.7 242.0,911.4 242.7,912.0 243.5,912.6 244.3,913.3 245.0,913.9 245.8,914.5 246.5,915.2 247.3,915.8 248.0,916.5 248.8,917.1 249.5,917.8 250.3,918.5 251.0,919.1 251.7,919.8 252.5,920.5 253.2,921.2 253.9,921.8 254.7,922.5 255.4,923.2 256.1,923.9 256.8,924.6 257.5,925.3 258.2,926.0 258.9,926.7 259.6,927.4 260.3,928.1 261.0,928.8 261.7,929.6 262.4,930.3 263.1,931.0 263.8,931.7 264.5,932.5 265.1,933.2 265.8,933.9 266.5,934.7 267.2,935.4 267.8,936.2 268.5,936.9 269.1,937.7 269.8,938.4 270.5,939.2 271.1,939.9 271.8,940.7 272.4,941.5 273.1,942.2 273.7,943.0 274.3,943.8 275.0,944.6 275.6,945.3 276.2,946.1 276.9,946.9 277.5,947.7 278.1,948.5 278.7,949.3 279.3,950.1 280.0,950.9 280.6,951.7 281.2,952.5 281.8,953.3 282.4,954.1 283.0,954.9 283.6,955.7 284.2,956.5 284.8,957.3 285.3,958.2 285.9,959.0 286.5,959.8 287.1,960.6 287.7,961.4 288.2,962.3 288.8,963.1 289.4,963.9 290.0,964.8 290.5,965.6 291.1,966.4 291.6,967.3 292.2,968.1 292.7,969.0 293.3,969.8 293.8,970.7 294.4,971.5 294.9,972.4 295.5,973.2 296.0,974.1 296.5,974.9 297.1,975.8 297.6,976.7 298.1,977.5 298.6,978.4 299.2,979.2 299.7,980.1 300.2,981.0 300.7,981.8 301.2,982.7 301.7,983.6 302.2,984.5 302.7,985.3 303.2,986.2 303.7,987.1 304.2,988.0 304.7,988.8 305.2,989.7 305.7,990.6 306.2,991.5 306.7,992.4 307.1,993.3 307.6,994.1 308.1,995.0 308.6,995.9 309.0,996.8 309.5,997.7 310.0,998.6 310.4,999.5 310.9,1000.4 311.3,1001.3 311.8,1002.2 312.2,1003.0 312.7,1003.9 313.1,1004.8 313.6,1005.7 314.0,1006.6 314.4,1007.5 314.9,1008.4 315.3,1009.3 315.7,1010.2 316.2,1011.1 316.6,1012.0 317.0,1012.9 317.4,1013.8 317.9,1014.7 318.3,1015.6 318.7,1016.5 319.1,1017.4 319.5,1018.3 319.9,1019.2 320.3,1020.2 320.7,1021.1 321.1,1022.0 321.5,1022.9 321.9,1023.8 322.3,1024.7 322.8,1025.6 323.2,1026.5 323.6,1027.4 324.0,1028.3 324.4,1029.2 324.8,1030.1 325.2,1031.0 325.6,1031.9 326.0,1032.8 326.4,1033.7 326.8,1034.6 327.2,1035.5 327.7,1036.5 328.1,1037.4 328.5,1038.3 328.9,1039.2 329.4,1040.1 329.8,1041.0 330.2,1041.9 330.7,1042.8 331.1,1043.7 331.5,1044.6 332.0,1045.5 332.5,1046.4 332.9,1047.3 333.4,1048.2 333.9,1049.1 334.3,1050.0 334.8,1050.9 335.3,1051.8 335.8,1052.8 336.3,1053.7 336.8,1054.5 337.3,1055.4 337.8,1056.3 338.4,1057.2 338.9,1058.1 339.5,1059.0 340.0,1059.8 340.6,1060.7 341.2,1061.5 341.8,1062.4 342.4,1063.2 343.0,1064.0 343.6,1064.8 344.3,1065.6 344.9,1066.4 345.6,1067.1 346.3,1067.9 347.0,1068.6 347.7,1069.3 348.4,1070.0 349.1,1070.7 349.9,1071.4 350.7,1072.0 351.5,1072.6 352.3,1073.2 353.1,1073.8 353.9,1074.3 354.8,1074.7 355.7,1075.1 356.5,1075.4 357.4,1075.6 358.3,1075.7 359.2,1075.8 360.1,1075.7 361.0,1075.6 361.9,1075.4 362.7,1075.2 363.6,1074.8 364.4,1074.4 365.3,1074.0 366.0,1073.4 366.8,1072.8 367.5,1072.2 368.2,1071.5 368.9,1070.7 369.5,1069.9 370.1,1069.1 370.7,1068.2 371.3,1067.3 371.8,1066.4 372.2,1065.4 372.7,1064.5 373.1,1063.6 373.5,1062.6 373.9,1061.7 374.3,1060.7 374.6,1059.7 374.9,1058.8 375.2,1057.8 375.5,1056.8 375.8,1055.8 376.1,1054.9 376.3,1053.9 376.6,1052.9 376.8,1051.9 377.0,1050.9 377.2,1049.9 377.4,1048.9 377.6,1047.9 377.8,1046.9 378.1,1045.9 378.3,1044.9 378.5,1044.0 378.7,1043.0 378.9,1042.0 379.1,1041.0 379.3,1040.0 379.6,1039.1 379.8,1038.1 380.1,1037.1 380.4,1036.2 380.7,1035.2 381.0,1034.3 381.3,1033.3 381.6,1032.4 382.0,1031.5 382.4,1030.6 382.8,1029.7 383.2,1028.8 383.6,1027.9 384.0,1027.0 384.5,1026.1 384.9,1025.2 385.4,1024.3 385.8,1023.4 386.3,1022.5 386.7,1021.6 387.2,1020.8 387.7,1019.9 388.1,1019.0 388.6,1018.1 389.1,1017.2 389.6,1016.4 390.0,1015.5 390.5,1014.6 391.0,1013.7 391.5,1012.8 392.0,1012.0 392.5,1011.1 393.0,1010.2 393.5,1009.4 394.0,1008.5 394.5,1007.6 395.0,1006.8 395.5,1005.9 396.0,1005.0 396.6,1004.2 397.1,1003.3 397.6,1002.5 398.1,1001.6 398.7,1000.7 399.2,999.9 399.8,999.0 400.3,998.2 400.8,997.3 401.4,996.5 401.9,995.7 402.5,994.8 403.1,994.0 403.6,993.2 404.2,992.3 404.7,991.5 405.3,990.7 405.9,989.8 406.5,989.0 407.1,988.2 407.6,987.4 408.2,986.6 408.8,985.7 409.4,984.9 410.0,984.1 410.6,983.3 411.2,982.5 411.8,981.7 412.4,980.9 413.1,980.1 413.7,979.3 414.3,978.5 414.9,977.8 415.5,977.0 416.2,976.2 416.8,975.4 417.5,974.6 418.1,973.9 418.7,973.1 419.4,972.3 420.0,971.6 420.7,970.8 421.4,970.1 422.0,969.3 422.7,968.6 423.4,967.8 424.0,967.1 424.7,966.4 425.4,965.6 426.1,964.9 426.8,964.2 427.5,963.5 428.2,962.7 428.9,962.0 429.6,961.3 430.3,960.6 431.0,959.9 431.7,959.2 432.4,958.5 433.1,957.8 433.9,957.2 434.6,956.5 435.3,955.8 436.1,955.1 436.8,954.5 437.6,953.8 438.3,953.2 439.1,952.5 439.8,951.9 440.6,951.2 441.3,950.6 442.1,949.9 442.9,949.3 443.7,948.7 444.4,948.1 445.2,947.4 446.0,946.8 446.8,946.2 447.6,945.6 448.4,945.0 449.2,944.4 450.0,943.8 450.8,943.3 451.6,942.7 452.4,942.1 453.3,941.5 454.1,941.0 454.9,940.4 455.7,939.9 456.6,939.3 457.4,938.8 458.3,938.2 459.1,937.7 460.0,937.2 460.8,936.7 461.7,936.2 462.6,935.6 463.4,935.1 464.3,934.6 465.2,934.1 466.1,933.6 466.9,933.2 467.8,932.7 468.7,932.2 469.6,931.7 470.5,931.3 471.4,930.8 472.3,930.3 473.2,929.9 474.1,929.4 475.0,929.0 475.9,928.6 476.8,928.1 477.7,927.7 478.6,927.3 479.5,926.8 480.5,926.4 481.4,926.0 482.3,925.6 483.2,925.2 484.1,924.8 485.1,924.4 486.0,924.0 486.9,923.6 487.8,923.2 488.8,922.8 489.7,922.5 490.6,922.1 491.6,921.7 492.5,921.3 493.4,921.0 494.4,920.6 495.3,920.3 496.2,919.9 497.2,919.6 498.1,919.2 499.1,918.9 500.0,918.6 501.0,918.3 501.9,917.9 502.8,917.6 503.8,917.3 504.7,917.0 505.7,916.7 506.7,916.4 507.6,916.1 508.6,915.9 509.5,915.6 510.5,915.3 511.4,915.1 512.4,914.8 513.4,914.5 514.3,914.3 515.3,914.0 516.3,913.8 517.2,913.6 518.2,913.4 519.2,913.1 520.1,912.9 521.1,912.7 522.1,912.5 523.1,912.3 524.0,912.1 525.0,911.9 526.0,911.8 527.0,911.6 528.0,911.4 529.0,911.3 529.9,911.1 530.9,911.0 531.9,910.8 532.9,910.7 533.9,910.5 534.9,910.4 535.9,910.3 536.9,910.2 537.9,910.1 538.9,910.0 539.8,909.9 540.8,909.8 541.8,909.7 542.8,909.6 543.8,909.6 544.8,909.5 545.8,909.4 546.8,909.4 547.8,909.3 548.9,909.3 549.9,909.2 550.9,909.2 551.9,909.1 552.9,909.1 553.9,909.1 554.9,909.1 555.9,909.0 556.9,909.0 557.9,909.0 558.9,909.0 559.9,909.0 560.9,909.0 561.9,909.0 562.9,909.0 563.9,909.0 565.0,909.0 566.0,909.0 567.0,909.0 568.0,909.0 569.0,909.0 570.0,909.1 571.0,909.1 572.0,909.1 573.0,909.1 574.0,909.2 575.0,909.2 576.0,909.2 577.0,909.3 578.0,909.3 579.0,909.3 580.1,909.4 581.1,909.4 582.1,909.4 583.1,909.5 584.1,909.5 585.1,909.6 586.1,909.6 587.1,909.7 588.1,909.7 589.1,909.7 590.1,909.8 591.1,909.8 592.1,909.9 593.1,909.9 594.1,910.0 595.1,910.1 596.1,910.1 597.1,910.2 598.1,910.2 599.1,910.3 600.1,910.3 601.1,910.4 602.1,910.4 603.1,910.5 604.1,910.6 605.1,910.6 606.1,910.7 607.0,910.7 608.0,910.8 609.0,910.9 610.0,910.9 611.0,911.0 612.0,911.1 613.0,911.1 614.0,911.2 615.0,911.3 616.0,911.3 617.0,911.4 618.0,911.5 619.0,911.5 620.0,911.6 621.0,911.7 622.0,911.7 623.0,911.8 624.0,911.9 625.0,911.9 626.0,912.0 627.0,912.1 628.0,912.1 629.0,912.2 630.0,912.3 631.0,912.3 632.0,912.4 633.0,912.5 634.0,912.5 635.0,912.6 636.0,912.7 637.0,912.8 638.0,912.8 638.9,912.9 639.9,913.0 640.9,913.0 641.9,913.1 642.9,913.2 643.9,913.2 644.9,913.3 645.9,913.4 646.9,913.4 648.0,913.5 649.0,913.5 650.0,913.6 651.0,913.7 652.0,913.7 653.0,913.8 654.0,913.9 655.0,913.9 656.0,914.0 657.0,914.0 658.0,914.1 659.0,914.1 660.0,914.2 661.0,914.3 662.0,914.3 663.0,914.4 664.0,914.4 665.0,914.5 666.0,914.5 667.1,914.6 668.1,914.6 669.1,914.7 670.1,914.7" stroke="#b3b3b3" stroke-width="2.40" stroke-dasharray="10.5 4.5 2.4 3.6"/>
<path d="M71.5,853.2L72.5,853.3 73.5,853.4 74.5,853.5 75.5,853.5 76.5,853.6 77.5,853.7 78.5,853.8 79.5,853.9 80.5,854.0 81.5,854.1 82.5,854.2 83.5,854.4 84.5,854.5 85.5,854.6 86.5,854.7 87.4,854.8 88.4,854.9 89.4,855.1 90.4,855.2 91.4,855.3 92.4,855.5 93.4,855.6 94.4,855.7 95.4,855.9 96.4,856.0 97.4,856.2 98.4,856.3 99.3,856.5 100.3,856.6 101.3,856.8 102.3,856.9 103.3,857.1 104.3,857.2 105.3,857.4 106.3,857.6 107.3,857.8 108.2,857.9 109.2,858.1 110.2,858.3 111.2,858.5 112.2,858.6 113.2,858.8 114.2,859.0 115.1,859.2 116.1,859.4 117.1,859.6 118.1,859.8 119.1,860.0 120.1,860.2 121.0,860.4 122.0,860.6 123.0,860.8 124.0,861.0 125.0,861.2 125.9,861.4 126.9,861.6 127.9,861.8 128.9,862.0 129.8,862.3 130.8,862.5 131.8,862.7 132.8,862.9 133.7,863.2 134.7,863.4 135.7,863.6 136.7,863.9 137.6,864.1 138.6,864.3 139.6,864.6 140.6,864.8 141.5,865.1 142.5,865.3 143.5,865.6 144.4,865.8 145.4,866.1 146.4,866.3 147.4,866.6 148.3,866.8 149.3,867.1 150.3,867.4 151.2,867.6 152.2,867.9 153.1,868.2 154.1,868.4 155.1,868.7 156.0,869.0 157.0,869.2 158.0,869.5 158.9,869.8 159.9,870.1 160.8,870.4 161.8,870.6 162.8,870.9 163.7,871.2 164.7,871.5 165.6,871.8 166.6,872.1 167.5,872.4 168.5,872.7 169.5,873.0 170.4,873.3 171.4,873.6 172.3,873.9 173.3,874.2 174.2,874.5 175.2,874.8 176.1,875.1 177.0,875.5 178.0,875.8 178.9,876.1 179.9,876.5 180.8,876.8 181.7,877.2 182.6,877.6 183.6,877.9 184.5,878.3 185.4,878.7 186.3,879.1 187.2,879.5 188.1,879.9 189.0,880.3 189.9,880.7 190.9,881.1 191.8,881.6 192.7,882.0 193.6,882.4 194.5,882.8 195.4,883.2 196.3,883.6 197.2,884.0 198.1,884.5 199.1,884.9 200.0,885.3 200.9,885.7 201.8,886.2 202.7,886.6 203.6,887.0 204.5,887.5 205.4,887.9 206.3,888.4 207.2,888.8 208.1,889.3 208.9,889.7 209.8,890.2 210.7,890.7 211.6,891.2 212.5,891.7 213.3,892.1 214.2,892.6 215.1,893.1 215.9,893.6 216.8,894.2 217.6,894.7 218.5,895.2 219.3,895.7 220.2,896.2 221.0,896.7 221.9,897.3 222.7,897.8 223.6,898.4 224.4,898.9 225.3,899.4 226.1,900.0 226.9,900.5 227.8,901.1 228.6,901.7 229.4,902.2 230.2,902.8 231.1,903.4 231.9,903.9 232.7,904.5 233.5,905.1 234.3,905.7 235.1,906.2 236.0,906.8 236.8,907.4 237.6,908.0 238.4,908.6 239.2,909.2 240.0,909.8 240.8,910.4 241.6,911.0 242.4,911.6 243.2,912.2 244.0,912.8 244.8,913.4 245.6,914.0 246.4,914.6 247.2,915.2 248.0,915.8 248.7,916.4 249.5,917.1 250.3,917.7 251.1,918.3 251.9,919.0 252.6,919.6 253.4,920.2 254.2,920.9 254.9,921.5 255.7,922.2 256.4,922.8 257.2,923.5 257.9,924.2 258.6,924.8 259.4,925.5 260.1,926.2 260.8,926.9 261.5,927.6 262.2,928.3 262.9,929.0 263.6,929.7 264.3,930.4 265.0,931.1 265.7,931.9 266.3,932.6 267.0,933.4 267.6,934.1 268.3,934.9 268.9,935.7 269.5,936.5 270.2,937.2 270.8,938.0 271.4,938.9 272.0,939.7 272.5,940.5 273.1,941.3 273.7,942.1 274.3,943.0 274.9,943.8 275.5,944.6 276.1,945.4 276.7,946.2 277.3,947.0 277.9,947.8 278.5,948.6 279.1,949.4 279.8,950.2 280.4,951.0 281.1,951.7 281.7,952.5 282.4,953.2 283.1,954.0 283.7,954.7 284.4,955.4 285.1,956.1 285.8,956.8 286.5,957.5 287.1,958.2 287.8,958.9 288.5,959.6 289.2,960.3 289.8,961.0 290.5,961.7 291.2,962.5 291.8,963.2 292.4,963.9 293.0,964.7 293.7,965.4 294.3,966.2 294.9,967.0 295.5,967.8 296.0,968.6 296.6,969.4 297.2,970.2 297.7,971.0 298.3,971.8 298.8,972.7 299.3,973.5 299.9,974.4 300.4,975.2 300.9,976.1 301.4,977.0 301.9,977.8 302.4,978.7 302.9,979.6 303.4,980.5 303.8,981.4 304.3,982.3 304.8,983.2 305.2,984.1 305.7,985.0 306.1,985.9 306.6,986.8 307.0,987.7 307.4,988.7 307.9,989.6 308.3,990.5 308.7,991.4 309.1,992.3 309.5,993.2 310.0,994.2 310.4,995.1 310.8,996.0 311.2,996.9 311.6,997.8 312.0,998.7 312.4,999.6 312.8,1000.6 313.2,1001.5 313.6,1002.4 314.0,1003.3 314.4,1004.2 314.8,1005.1 315.2,1006.0 315.6,1006.9 316.0,1007.8 316.4,1008.7 316.8,1009.6 317.2,1010.5 317.7,1011.4 318.1,1012.3 318.5,1013.2 319.0,1014.1 319.4,1015.0 319.8,1015.9 320.3,1016.8 320.7,1017.7 321.2,1018.6 321.6,1019.5 322.1,1020.4 322.5,1021.3 323.0,1022.2 323.4,1023.1 323.9,1024.0 324.4,1024.9 324.8,1025.8 325.3,1026.7 325.7,1027.6 326.2,1028.5 326.6,1029.4 327.0,1030.3 327.5,1031.2 327.9,1032.1 328.4,1033.0 328.8,1033.9 329.2,1034.8 329.6,1035.7 330.1,1036.6 330.5,1037.5 330.9,1038.5 331.3,1039.4 331.7,1040.3 332.1,1041.2 332.4,1042.1 332.8,1043.1 333.2,1044.0 333.6,1044.9 333.9,1045.8 334.3,1046.8 334.6,1047.7 335.0,1048.6 335.3,1049.6 335.7,1050.5 336.0,1051.4 336.4,1052.4 336.7,1053.3 337.1,1054.2 337.4,1055.2 337.8,1056.1 338.1,1057.1 338.5,1058.0 338.9,1058.9 339.2,1059.9 339.6,1060.8 340.0,1061.7 340.3,1062.7 340.7,1063.6 341.1,1064.5 341.5,1065.4 341.9,1066.4 342.2,1067.3 342.6,1068.2 343.0,1069.1 343.4,1070.1 343.8,1071.0 344.2,1071.9 344.6,1072.8 345.0,1073.7 345.5,1074.6 345.9,1075.5 346.3,1076.4 346.7,1077.3 347.1,1078.2 347.6,1079.1 348.0,1080.0 348.4,1080.8 348.9,1081.7 349.3,1082.6 349.7,1083.5 350.2,1084.5 350.6,1085.4 351.1,1086.4 351.5,1087.5 351.9,1088.5 352.4,1089.6 352.9,1090.7 353.3,1091.8 353.8,1092.8 354.4,1093.7 354.9,1094.4 355.6,1095.0 356.2,1095.4 356.9,1095.6 357.7,1095.5 358.5,1095.2 359.4,1094.8 360.2,1094.3 361.0,1093.7 361.7,1093.2 362.5,1092.5 363.2,1091.9 363.8,1091.2 364.5,1090.5 365.1,1089.8 365.7,1089.0 366.3,1088.2 366.9,1087.4 367.4,1086.6 368.0,1085.7 368.5,1084.8 369.0,1083.9 369.4,1083.0 369.9,1082.1 370.4,1081.2 370.8,1080.3 371.2,1079.3 371.7,1078.4 372.1,1077.4 372.5,1076.5 372.9,1075.5 373.3,1074.5 373.7,1073.6 374.0,1072.6 374.4,1071.7 374.8,1070.7 375.2,1069.8 375.6,1068.8 375.9,1067.9 376.3,1066.9 376.7,1066.0 377.0,1065.1 377.4,1064.1 377.8,1063.2 378.1,1062.3 378.5,1061.3 378.8,1060.4 379.2,1059.5 379.6,1058.6 379.9,1057.6 380.3,1056.7 380.6,1055.8 381.0,1054.9 381.3,1053.9 381.6,1053.0 382.0,1052.1 382.3,1051.2 382.7,1050.3 383.0,1049.3 383.4,1048.4 383.7,1047.5 384.1,1046.6 384.4,1045.6 384.7,1044.7 385.1,1043.8 385.4,1042.8 385.8,1041.9 386.1,1041.0 386.4,1040.0 386.8,1039.1 387.1,1038.2 387.5,1037.2 387.8,1036.3 388.2,1035.3 388.5,1034.4 388.9,1033.4 389.2,1032.5 389.6,1031.6 389.9,1030.6 390.3,1029.7 390.7,1028.7 391.0,1027.8 391.4,1026.8 391.8,1025.9 392.2,1024.9 392.6,1024.0 393.0,1023.1 393.4,1022.2 393.8,1021.2 394.2,1020.3 394.6,1019.4 395.0,1018.5 395.5,1017.6 395.9,1016.7 396.3,1015.8 396.8,1014.9 397.3,1014.0 397.7,1013.1 398.2,1012.2 398.7,1011.4 399.2,1010.5 399.7,1009.6 400.2,1008.8 400.8,1008.0 401.3,1007.1 401.8,1006.3 402.4,1005.5 402.9,1004.6 403.5,1003.8 404.0,1003.0 404.6,1002.2 405.2,1001.4 405.8,1000.6 406.3,999.7 406.9,998.9 407.5,998.1 408.1,997.3 408.7,996.5 409.3,995.7 409.8,994.9 410.4,994.1 411.0,993.3 411.6,992.5 412.2,991.7 412.8,990.9 413.4,990.1 414.0,989.3 414.6,988.5 415.2,987.7 415.8,986.8 416.4,986.0 417.0,985.2 417.6,984.4 418.2,983.6 418.8,982.8 419.4,982.0 420.0,981.2 420.6,980.4 421.2,979.6 421.8,978.8 422.4,978.0 423.0,977.2 423.6,976.4 424.2,975.6 424.8,974.8 425.4,974.0 426.0,973.2 426.6,972.4 427.2,971.6 427.8,970.8 428.4,970.0 429.0,969.2 429.6,968.4 430.2,967.6 430.9,966.8 431.5,966.1 432.1,965.3 432.8,964.5 433.4,963.8 434.1,963.0 434.7,962.3 435.4,961.5 436.0,960.8 436.7,960.0 437.4,959.3 438.1,958.6 438.8,957.9 439.5,957.2 440.3,956.5 441.0,955.8 441.8,955.2 442.5,954.5 443.3,953.8 444.0,953.2 444.8,952.5 445.6,951.9 446.4,951.3 447.2,950.7 448.0,950.1 448.8,949.5 449.6,948.9 450.5,948.4 451.3,947.8 452.1,947.2 453.0,946.7 453.8,946.2 454.7,945.7 455.6,945.2 456.4,944.7 457.3,944.2 458.2,943.7 459.1,943.3 459.9,942.8 460.8,942.3 461.7,941.8 462.6,941.3 463.4,940.9 464.3,940.3 465.1,939.8 466.0,939.3 466.8,938.8 467.7,938.2 468.5,937.7 469.3,937.1 470.2,936.5 471.0,935.9 471.8,935.4 472.6,934.8 473.4,934.2 474.3,933.6 475.1,933.0 475.9,932.4 476.7,931.8 477.5,931.2 478.3,930.7 479.2,930.1 480.0,929.5 480.8,929.0 481.7,928.4 482.5,927.9 483.4,927.4 484.2,926.9 485.1,926.4 486.0,926.0 486.9,925.6 487.8,925.2 488.7,924.8 489.6,924.4 490.6,924.1 491.5,923.8 492.5,923.5 493.4,923.2 494.4,922.9 495.3,922.5 496.3,922.2 497.2,921.9 498.1,921.5 499.1,921.1 500.0,920.7 500.9,920.4 501.8,920.0 502.7,919.6 503.6,919.2 504.5,918.8 505.4,918.4 506.3,918.0 507.2,917.6 508.2,917.2 509.1,916.9 510.0,916.5 511.0,916.2 511.9,915.9 512.9,915.6 513.9,915.4 514.8,915.1 515.8,914.9 516.8,914.6 517.7,914.3 518.7,914.1 519.7,913.9 520.7,913.6 521.6,913.4 522.6,913.2 523.6,913.0 524.6,912.7 525.6,912.5 526.5,912.3 527.5,912.1 528.5,911.9 529.5,911.7 530.5,911.5 531.5,911.4 532.4,911.2 533.4,911.0 534.4,910.8 535.4,910.7 536.4,910.5 537.4,910.3 538.4,910.2 539.4,910.0 540.3,909.9 541.3,909.8 542.3,909.6 543.3,909.5 544.3,909.4 545.3,909.2 546.3,909.1 547.3,909.0 548.3,908.9 549.3,908.8 550.3,908.7 551.3,908.6 552.3,908.5 553.3,908.4 554.3,908.3 555.3,908.2 556.3,908.1 557.3,908.1 558.3,908.0 559.3,907.9 560.3,907.9 561.2,907.8 562.2,907.7 563.2,907.7 564.2,907.6 565.2,907.6 566.2,907.5 567.2,907.5 568.2,907.5 569.2,907.4 570.2,907.4 571.2,907.4 572.2,907.4 573.2,907.3 574.2,907.3 575.2,907.3 576.2,907.3 577.2,907.3 578.2,907.3 579.2,907.3 580.2,907.3 581.2,907.3 582.2,907.3 583.2,907.3 584.2,907.3 585.2,907.3 586.2,907.4 587.2,907.4 588.2,907.4 589.2,907.4 590.2,907.5 591.2,907.5 592.2,907.5 593.2,907.6 594.2,907.6 595.2,907.7 596.2,907.7 597.2,907.8 598.2,907.8 599.2,907.9 600.2,907.9 601.2,908.0 602.2,908.0 603.2,908.1 604.2,908.1 605.2,908.2 606.2,908.3 607.2,908.3 608.2,908.4 609.2,908.5 610.2,908.6 611.2,908.6 612.2,908.7 613.2,908.8 614.2,908.9 615.2,908.9 616.2,909.0 617.2,909.1 618.2,909.2 619.2,909.3 620.2,909.4 621.2,909.4 622.2,909.5 623.2,909.6 624.2,909.7 625.2,909.8 626.2,909.9 627.2,910.0 628.2,910.1 629.2,910.2 630.2,910.3 631.2,910.4 632.2,910.5 633.2,910.6 634.2,910.7 635.2,910.8 636.2,910.9 637.2,911.0 638.2,911.1 639.2,911.2 640.2,911.3 641.2,911.4 642.2,911.5 643.2,911.6 644.2,911.7 645.2,911.8 646.2,911.9 647.1,912.0 648.1,912.1 649.1,912.2 650.1,912.3 651.1,912.4 652.1,912.5 653.1,912.6 654.1,912.7 655.1,912.8 656.1,912.9 657.1,913.0 658.1,913.1 659.1,913.2 660.1,913.3 661.1,913.4 662.1,913.5 663.1,913.6 664.1,913.7 665.1,913.8 666.1,913.8 667.1,913.9 668.1,914.0 669.0,914.1 670.0,914.2 671.0,914.3 672.0,914.4 673.0,914.5" stroke="#000" stroke-width="3.00"/>
</g>
<path d="M71.30,1130.70v-6.50M71.30,826.50v6.50M271.87,1130.70v-6.50M271.87,826.50v6.50M472.43,1130.70v-6.50M472.43,826.50v6.50M673.00,1130.70v-6.50M673.00,826.50v6.50M71.30,826.50h6.50M673.00,826.50h-6.50M71.30,887.34h6.50M673.00,887.34h-6.50M71.30,948.18h6.50M673.00,948.18h-6.50M71.30,1009.02h6.50M673.00,1009.02h-6.50M71.30,1069.86h6.50M673.00,1069.86h-6.50M71.30,1130.70h6.50M673.00,1130.70h-6.50" stroke="#262626" stroke-width="1" fill="none"/>
<rect x="71.30" y="826.50" width="601.70" height="304.20" stroke="#262626" stroke-width="1" fill="none"/>
<text x="71.30" y="1155.90" font-size="18.5" text-anchor="middle">3</text>
<text x="271.87" y="1155.90" font-size="18.5" text-anchor="middle">3.5</text>
<text x="472.43" y="1155.90" font-size="18.5" text-anchor="middle">4</text>
<text x="673.00" y="1155.90" font-size="18.5" text-anchor="middle">4.5</text>
<text x="62.20" y="833.00" font-size="18.5" text-anchor="end">0</text>
<text x="62.20" y="893.84" font-size="18.5" text-anchor="end">-5</text>
<text x="62.20" y="954.68" font-size="18.5" text-anchor="end">-10</text>
<text x="62.20" y="1015.52" font-size="18.5" text-anchor="end">-15</text>
<text x="62.20" y="1076.36" font-size="18.5" text-anchor="end">-20</text>
<text x="62.20" y="1137.20" font-size="18.5" text-anchor="end">-25</text>
<text x="372.85" y="1181.50" font-size="21" text-anchor="middle">Frequency [GHz]</text>
<text x="369.90" y="1211.60" font-size="23" text-anchor="middle">(c)</text>
<text transform="translate(13.8,979.40) rotate(-90)" font-size="21.4" text-anchor="middle">|<tspan font-style="italic">S</tspan><tspan font-size="14.5" dy="11.2">11</tspan><tspan dy="-11.2">| [dB]</tspan></text>
<rect x="547.70" y="1008.80" width="109.30" height="104.60" fill="#fff" stroke="#262626" stroke-width="1"/>
<path d="M552.30,1021.60H590.90" stroke="#a0a0a0" stroke-width="2.40" fill="none" stroke-dasharray="1.4 3.7"/>
<text x="594.90" y="1027.40" font-size="17">150.000</text>
<path d="M552.30,1041.55H590.90" stroke="#b3b3b3" stroke-width="2.40" fill="none" stroke-dasharray="10.5 4.5 2.4 3.6"/>
<text x="594.90" y="1047.35" font-size="17">350.000</text>
<path d="M552.30,1061.50H590.90" stroke="#b3b3b3" stroke-width="2.40" fill="none"/>
<text x="594.90" y="1067.30" font-size="17">400.000</text>
<path d="M552.30,1081.45H590.90" stroke="#b3b3b3" stroke-width="2.40" fill="none" stroke-dasharray="10.5 4.5 2.4 3.6"/>
<text x="594.90" y="1087.25" font-size="17">650.000</text>
<path d="M552.30,1101.40H590.90" stroke="#000" stroke-width="3.00" fill="none"/>
<text x="594.90" y="1107.20" font-size="17">850.000</text>
</svg></body></html>
